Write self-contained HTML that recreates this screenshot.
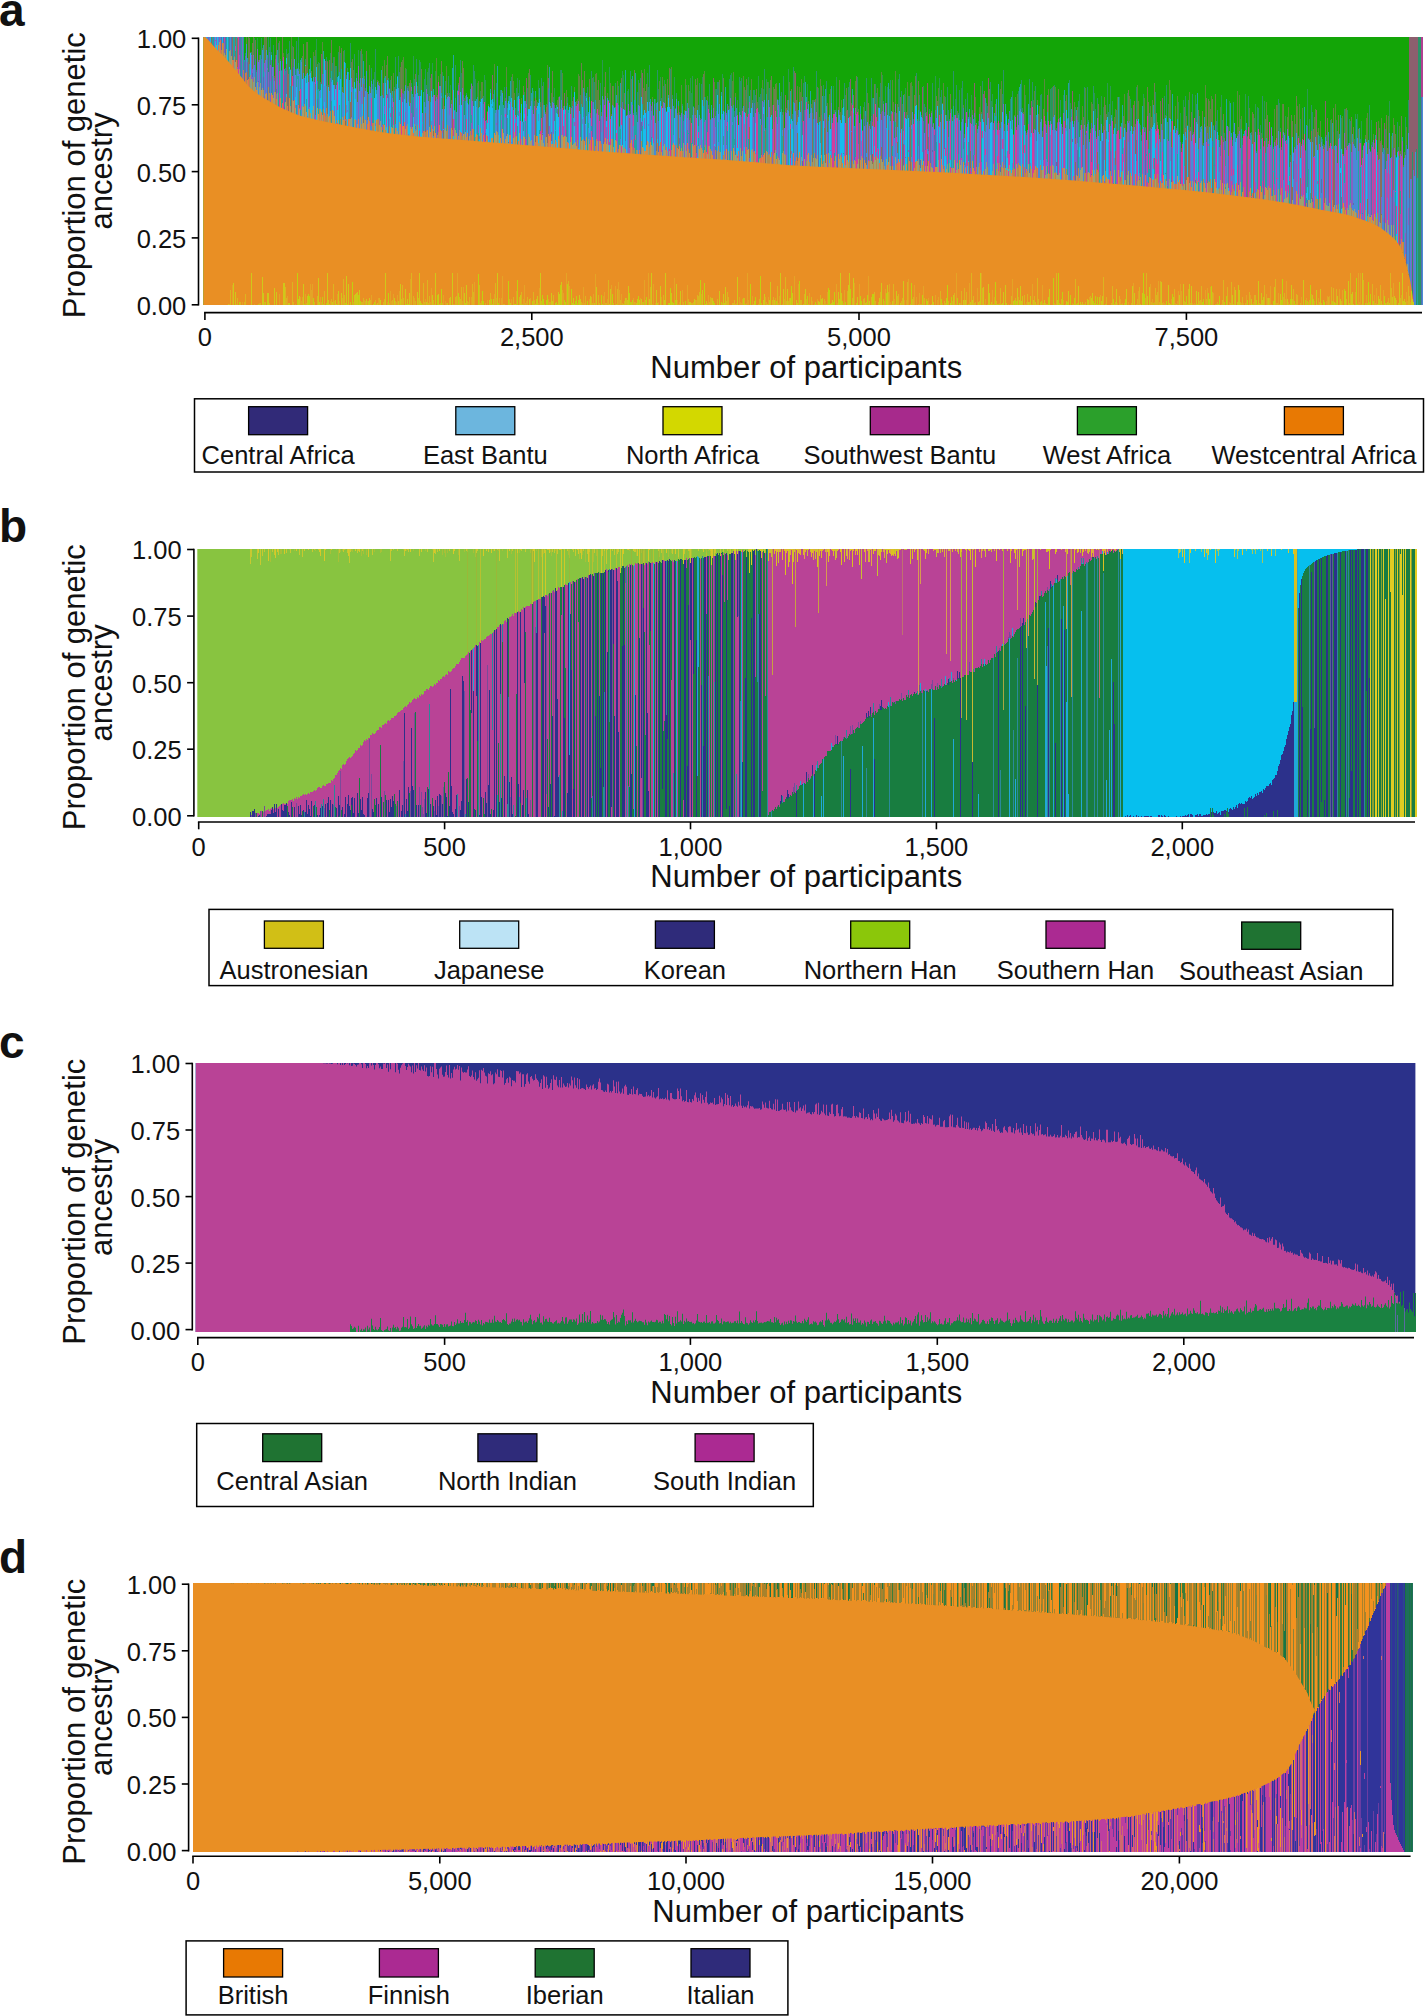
<!DOCTYPE html>
<html><head><meta charset="utf-8"><style>
html,body{margin:0;padding:0;background:#fff;}
body{width:1425px;height:2016px;overflow:hidden;}
svg{display:block;}
text{font-family:"Liberation Sans", sans-serif;}
</style></head><body>
<svg width="1425" height="2016" viewBox="0 0 1425 2016" font-family='"Liberation Sans", sans-serif' fill="#111">
<rect width="1425" height="2016" fill="#fff"/>
<g>
<rect x="203.3" y="37.0" width="1219.7" height="268.0" fill="#13a507" />
<path d="M203.5 37V38M212.5 37V46M213.5 37V47M226.5 37V60M228.5 37V63M233.5 37V69M234.5 37V70M236.5 37V72M241.5 37V78M243.5 37V81M249.5 64V88M256.5 72V94M260.5 62V97M278.5 63V107M281.5 71V109M282.5 61V109M296.5 69V115M298.5 63V116M300.5 62V117M306.5 74V118M318.5 89V121M322.5 74V122M326.5 86V123M331.5 71V124M339.5 72V125M341.5 69V126M349.5 87V127M353.5 89V128M368.5 98V131M372.5 89V132M373.5 80V132M380.5 100V133M382.5 95V133M384.5 78V134M392.5 94V135M394.5 91V135M400.5 97V136M413.5 97V137M423.5 96V138M425.5 107V138M430.5 102V138M435.5 101V139M441.5 93V139M446.5 99V140M455.5 98V140M456.5 114V141M463.5 95V141M465.5 101V141M470.5 92V142M474.5 101V142M477.5 97V142M478.5 108V142M483.5 104V143M486.5 120V143M493.5 102V143M494.5 90V144M500.5 96V144M503.5 112V144M507.5 108V145M517.5 97V145M527.5 116V146M539.5 95V147M543.5 105V148M555.5 110V149M566.5 106V149M567.5 103V150M572.5 106V150M581.5 104V151M587.5 101V151M595.5 100V152M600.5 105V152M613.5 106V153M615.5 107V153M618.5 105V154M619.5 127V154M634.5 100V155M635.5 105V155M636.5 115V155M642.5 104V155M651.5 111V156M671.5 109V157M673.5 108V157M677.5 115V158M680.5 117V158M682.5 106V158M687.5 103V158M692.5 115V159M698.5 126V159M703.5 106V159M704.5 97V159M706.5 105V160M710.5 120V160M715.5 116V160M720.5 120V161M729.5 109V161M732.5 108V161M733.5 105V161M746.5 116V162M748.5 108V163M758.5 112V163M759.5 114V164M763.5 102V164M766.5 94V164M767.5 117V164M781.5 109V166M782.5 115V166M788.5 100V166M793.5 102V166M801.5 101V167M813.5 119V167M820.5 121V168M822.5 103V168M877.5 121V170M898.5 107V171M907.5 115V172M918.5 110V172M948.5 137V174M951.5 111V174M953.5 106V174M958.5 115V174M961.5 122V174M973.5 125V175M981.5 114V175M995.5 116V176M1005.5 130V177M1014.5 116V177M1026.5 135V178M1047.5 112V180M1067.5 119V181M1070.5 122V181M1078.5 122V182M1088.5 122V183M1099.5 138V184M1110.5 126V184M1115.5 124V185M1122.5 125V185M1140.5 132V187M1141.5 141V187M1148.5 149V188M1149.5 131V188M1154.5 114V188M1160.5 142V189M1163.5 139V189M1166.5 116V189M1167.5 122V189M1177.5 119V190M1184.5 136V191M1198.5 149V192M1202.5 145V193M1209.5 127V194M1213.5 126V194M1214.5 133V194M1225.5 146V196M1241.5 129V198M1251.5 135V199M1257.5 135V200M1260.5 149V200M1261.5 139V200M1265.5 153V201M1266.5 138V201M1272.5 142V202M1279.5 148V203M1289.5 167V205M1306.5 131V208M1318.5 135V210M1350.5 144V217M1358.5 151V219M1395.5 155V241M1403.5 167V255M1417.5 178V305" stroke="#22a4a2" stroke-width="1.02" fill="none" shape-rendering="crispEdges"/>
<path d="M205.5 37V38M208.5 37V41M214.5 37V48M216.5 37V50M219.5 37V53M224.5 37V58M237.5 37V73M239.5 37V76M242.5 37V80M251.5 55V90M252.5 69V91M253.5 55V92M257.5 49V95M259.5 60V96M264.5 63V99M265.5 60V100M268.5 72V102M270.5 65V103M273.5 67V104M276.5 55V106M277.5 65V107M308.5 82V119M323.5 74V122M334.5 85V125M351.5 78V128M358.5 66V129M379.5 86V133M405.5 85V136M410.5 103V137M411.5 87V137M414.5 86V137M422.5 113V138M426.5 89V138M436.5 97V139M449.5 97V140M451.5 104V140M454.5 111V140M459.5 105V141M462.5 88V141M471.5 84V142M472.5 101V142M485.5 121V143M510.5 102V145M516.5 117V145M526.5 104V146M532.5 110V147M534.5 106V147M545.5 114V148M553.5 103V148M559.5 97V149M571.5 108V150M575.5 106V150M576.5 106V150M578.5 101V150M598.5 115V152M601.5 116V152M605.5 96V153M617.5 103V154M628.5 104V154M629.5 115V154M630.5 114V154M632.5 105V155M639.5 106V155M650.5 104V156M652.5 102V156M663.5 102V157M681.5 113V158M684.5 115V158M686.5 111V158M688.5 108V158M695.5 115V159M701.5 119V159M705.5 120V160M709.5 113V160M713.5 108V160M714.5 118V160M725.5 111V161M730.5 98V161M747.5 117V163M749.5 102V163M753.5 117V163M762.5 101V164M769.5 107V165M772.5 129V165M776.5 117V165M778.5 105V165M779.5 117V165M785.5 112V166M786.5 113V166M805.5 110V167M816.5 112V168M824.5 113V168M827.5 132V168M855.5 108V169M860.5 114V170M869.5 126V170M880.5 114V170M883.5 104V171M895.5 104V171M922.5 118V172M931.5 113V173M933.5 124V173M938.5 126V173M943.5 110V173M960.5 131V174M972.5 115V175M974.5 113V175M979.5 114V175M984.5 131V176M987.5 113V176M993.5 130V176M999.5 130V177M1003.5 104V177M1017.5 115V178M1018.5 125V178M1022.5 113V178M1023.5 114V178M1025.5 131V178M1034.5 129V179M1045.5 124V179M1052.5 130V180M1055.5 130V180M1061.5 124V181M1063.5 113V181M1069.5 129V181M1071.5 117V181M1074.5 121V182M1076.5 116V182M1087.5 124V183M1094.5 125V183M1097.5 118V183M1104.5 130V184M1116.5 134V185M1119.5 139V185M1127.5 121V186M1136.5 119V187M1144.5 132V187M1146.5 140V188M1151.5 129V188M1162.5 130V189M1168.5 141V190M1175.5 133V190M1190.5 131V192M1193.5 134V192M1199.5 138V193M1219.5 147V195M1223.5 142V195M1226.5 126V196M1230.5 140V196M1232.5 146V196M1237.5 136V197M1239.5 131V197M1240.5 148V197M1250.5 140V199M1267.5 147V201M1268.5 144V201M1270.5 147V201M1271.5 128V202M1274.5 142V202M1281.5 150V203M1287.5 129V204M1290.5 162V205M1294.5 147V205M1295.5 149V206M1303.5 145V207M1320.5 147V211M1326.5 141V212M1336.5 146V214M1337.5 163V214M1344.5 133V215M1345.5 148V215M1349.5 143V216M1351.5 152V217M1359.5 143V220M1368.5 143V223M1370.5 152V224M1373.5 140V225M1378.5 160V228M1386.5 161V233M1391.5 157V237M1394.5 148V240M1400.5 154V248M1402.5 141V252M1411.5 179V305M1413.5 170V305" stroke="#8462c2" stroke-width="1.02" fill="none" shape-rendering="crispEdges"/>
<path d="M206.5 37V39M210.5 37V44M215.5 37V49M217.5 37V51M222.5 37V56M227.5 37V61M250.5 53V89M271.5 55V103M286.5 58V111M289.5 67V113M290.5 70V113M302.5 79V117M305.5 65V118M307.5 73V119M310.5 73V119M311.5 78V120M312.5 82V120M316.5 67V121M321.5 84V122M324.5 59V122M328.5 87V123M332.5 80V124M333.5 85V124M335.5 89V125M338.5 76V125M340.5 79V126M344.5 62V126M346.5 79V127M347.5 72V127M350.5 68V127M354.5 82V128M355.5 89V128M362.5 78V130M374.5 98V132M375.5 87V132M376.5 94V132M383.5 98V133M385.5 83V134M387.5 80V134M390.5 93V134M396.5 89V135M397.5 77V135M399.5 100V136M404.5 99V136M409.5 106V137M416.5 82V137M418.5 96V137M420.5 96V138M421.5 90V138M431.5 91V139M445.5 95V140M453.5 90V140M460.5 92V141M461.5 105V141M467.5 103V141M473.5 106V142M475.5 101V142M479.5 107V142M480.5 102V142M481.5 99V143M488.5 106V143M490.5 93V143M491.5 104V143M492.5 99V143M499.5 106V144M508.5 101V145M509.5 104V145M511.5 98V145M514.5 100V145M518.5 96V145M521.5 104V146M523.5 95V146M528.5 109V146M529.5 109V146M530.5 106V146M537.5 106V147M538.5 103V147M549.5 102V148M551.5 108V148M556.5 113V149M557.5 107V149M558.5 117V149M563.5 110V149M569.5 107V150M574.5 92V150M579.5 111V151M582.5 107V151M585.5 124V151M586.5 98V151M606.5 121V153M609.5 103V153M611.5 116V153M614.5 108V153M623.5 109V154M624.5 110V154M626.5 116V154M641.5 97V155M643.5 115V155M644.5 110V156M645.5 113V156M647.5 102V156M648.5 111V156M659.5 111V157M660.5 101V157M666.5 112V157M667.5 107V157M668.5 98V157M669.5 107V157M674.5 118V158M685.5 111V158M697.5 110V159M702.5 100V159M717.5 95V160M721.5 96V161M723.5 111V161M728.5 110V161M736.5 116V162M738.5 125V162M744.5 112V162M750.5 113V163M751.5 108V163M770.5 117V165M771.5 115V165M780.5 112V165M789.5 116V166M791.5 119V166M799.5 102V167M817.5 123V168M819.5 122V168M823.5 121V168M829.5 115V168M830.5 129V168M840.5 120V169M841.5 123V169M842.5 115V169M843.5 107V169M848.5 118V169M853.5 108V169M861.5 120V170M879.5 108V170M887.5 115V171M899.5 111V171M901.5 129V171M905.5 118V172M906.5 119V172M908.5 118V172M915.5 106V172M916.5 105V172M920.5 112V172M921.5 117V172M937.5 106V173M942.5 104V173M945.5 115V174M965.5 123V175M967.5 127V175M968.5 119V175M982.5 119V176M983.5 122V176M990.5 123V176M991.5 122V176M1002.5 112V177M1006.5 116V177M1007.5 131V177M1010.5 121V177M1011.5 129V177M1021.5 112V178M1024.5 125V178M1031.5 133V179M1037.5 105V179M1042.5 137V179M1056.5 131V180M1060.5 117V181M1062.5 134V181M1066.5 110V181M1072.5 121V181M1073.5 127V182M1093.5 111V183M1100.5 141V184M1102.5 133V184M1106.5 120V184M1107.5 117V184M1114.5 128V185M1123.5 137V186M1124.5 128V186M1131.5 126V186M1138.5 119V187M1152.5 127V188M1153.5 125V188M1164.5 139V189M1165.5 118V189M1170.5 119V190M1173.5 130V190M1174.5 126V190M1178.5 135V190M1183.5 134V191M1187.5 126V191M1195.5 143V192M1197.5 124V192M1203.5 146V193M1210.5 138V194M1211.5 122V194M1217.5 132V195M1235.5 142V197M1236.5 138V197M1252.5 144V199M1288.5 136V204M1310.5 142V209M1317.5 150V210M1339.5 138V214M1341.5 149V215M1366.5 142V222M1376.5 140V226M1396.5 158V242M1397.5 152V244" stroke="#18bcee" stroke-width="1.02" fill="none" shape-rendering="crispEdges"/>
<path d="M207.5 37V40M209.5 37V42M218.5 37V52M220.5 37V54M230.5 37V65M246.5 44V85M254.5 65V92M258.5 62V96M262.5 50V98M266.5 50V101M272.5 67V104M280.5 61V108M294.5 59V115M295.5 75V115M297.5 69V116M299.5 74V116M301.5 62V117M303.5 73V118M309.5 74V119M313.5 77V120M314.5 82V120M319.5 91V121M320.5 90V122M325.5 70V123M329.5 91V124M336.5 85V125M342.5 92V126M343.5 93V126M352.5 87V128M356.5 78V129M357.5 102V129M359.5 91V129M360.5 78V129M361.5 87V130M365.5 91V130M366.5 71V131M369.5 86V131M370.5 93V131M371.5 81V132M377.5 82V133M378.5 85V133M381.5 96V133M389.5 89V134M398.5 88V135M406.5 103V136M408.5 91V136M415.5 94V137M417.5 93V137M424.5 102V138M427.5 94V138M428.5 101V138M432.5 97V139M433.5 95V139M440.5 86V139M442.5 109V139M444.5 109V140M447.5 97V140M448.5 96V140M450.5 108V140M457.5 91V141M464.5 115V141M466.5 95V141M469.5 99V142M476.5 107V142M482.5 98V143M489.5 108V143M495.5 113V144M496.5 110V144M498.5 110V144M501.5 115V144M502.5 93V144M504.5 108V144M505.5 101V144M512.5 107V145M522.5 122V146M524.5 101V146M531.5 101V147M533.5 114V147M544.5 110V148M550.5 106V148M552.5 102V148M561.5 100V149M564.5 106V149M568.5 113V150M573.5 118V150M583.5 117V151M588.5 114V151M589.5 97V151M590.5 118V151M593.5 102V152M594.5 109V152M602.5 96V152M607.5 98V153M612.5 105V153M620.5 107V154M627.5 115V154M631.5 102V155M637.5 122V155M638.5 105V155M649.5 102V156M654.5 104V156M655.5 123V156M657.5 102V156M662.5 108V157M664.5 103V157M665.5 108V157M672.5 99V157M675.5 109V158M676.5 99V158M679.5 115V158M693.5 107V159M699.5 115V159M700.5 120V159M711.5 110V160M712.5 118V160M718.5 114V160M719.5 104V160M722.5 114V161M724.5 120V161M726.5 115V161M731.5 106V161M734.5 117V162M739.5 112V162M740.5 115V162M743.5 106V162M752.5 103V163M755.5 113V163M760.5 119V164M764.5 100V164M768.5 100V164M777.5 100V165M784.5 128V166M787.5 110V166M792.5 121V166M794.5 103V166M795.5 111V167M796.5 125V167M800.5 112V167M807.5 109V167M808.5 104V167M809.5 118V167M810.5 113V167M811.5 108V167M814.5 102V168M826.5 106V168M831.5 103V168M835.5 112V169M838.5 110V169M839.5 115V169M844.5 116V169M850.5 116V169M864.5 126V170M867.5 122V170M870.5 129V170M874.5 127V170M878.5 108V170M884.5 116V171M885.5 103V171M886.5 128V171M889.5 116V171M890.5 121V171M893.5 121V171M894.5 138V171M897.5 127V171M903.5 131V171M911.5 125V172M912.5 112V172M924.5 133V172M928.5 124V173M932.5 127V173M936.5 118V173M940.5 122V173M946.5 121V174M949.5 121V174M952.5 121V174M954.5 119V174M956.5 118V174M959.5 120V174M962.5 119V174M964.5 138V175M971.5 124V175M977.5 133V175M978.5 126V175M985.5 132V176M986.5 125V176M988.5 118V176M989.5 129V176M992.5 107V176M996.5 129V176M1001.5 122V177M1004.5 131V177M1012.5 120V177M1019.5 111V178M1020.5 109V178M1027.5 132V178M1030.5 115V178M1035.5 130V179M1038.5 132V179M1039.5 134V179M1040.5 122V179M1041.5 119V179M1046.5 133V180M1050.5 121V180M1053.5 117V180M1054.5 115V180M1059.5 122V180M1065.5 128V181M1068.5 118V181M1079.5 137V182M1080.5 130V182M1083.5 145V182M1084.5 125V182M1089.5 142V183M1095.5 131V183M1098.5 136V183M1101.5 124V184M1108.5 132V184M1111.5 118V185M1113.5 134V185M1121.5 127V185M1128.5 123V186M1130.5 131V186M1133.5 131V186M1134.5 127V186M1143.5 127V187M1159.5 139V189M1161.5 130V189M1169.5 118V190M1176.5 130V190M1179.5 137V191M1191.5 141V192M1192.5 135V192M1196.5 122V192M1200.5 132V193M1201.5 129V193M1204.5 124V193M1205.5 127V193M1208.5 139V194M1218.5 140V195M1227.5 126V196M1233.5 132V197M1234.5 123V197M1255.5 132V199M1256.5 153V199M1275.5 146V202M1277.5 145V202M1278.5 131V203M1283.5 132V203M1284.5 135V204M1293.5 153V205M1296.5 133V206M1297.5 145V206M1299.5 143V206M1301.5 146V207M1308.5 139V208M1309.5 140V208M1312.5 142V209M1314.5 156V209M1315.5 137V210M1316.5 145V210M1321.5 142V211M1322.5 146V211M1325.5 137V212M1327.5 151V212M1331.5 146V213M1335.5 145V213M1343.5 156V215M1348.5 145V216M1352.5 142V217M1353.5 144V218M1354.5 146V218M1355.5 148V218M1356.5 160V219M1357.5 138V219M1361.5 165V220M1363.5 146V221M1365.5 139V222M1367.5 154V223M1369.5 149V223M1379.5 159V228M1382.5 152V230M1383.5 154V231M1387.5 154V234M1389.5 133V236M1390.5 158V236M1404.5 158V258M1405.5 155V262M1407.5 149V270M1408.5 133V274M1410.5 179V305M1414.5 176V305M1415.5 152V305M1422.5 97V305" stroke="#4a8ad6" stroke-width="1.02" fill="none" shape-rendering="crispEdges"/>
<path d="M211.5 37V45M232.5 37V67M235.5 37V71M248.5 62V87M275.5 59V106M287.5 70V112M288.5 74V112M291.5 59V113M327.5 62V123M345.5 68V127M363.5 84V130M367.5 93V131M395.5 89V135M429.5 96V138M443.5 98V140M452.5 90V140M535.5 98V147M542.5 103V147M546.5 107V148M547.5 105V148M656.5 110V156M678.5 106V158M690.5 118V159M694.5 115V159M761.5 125V164M765.5 130V164M774.5 122V165M783.5 112V166M797.5 115V167M812.5 113V167M821.5 115V168M825.5 119V168M846.5 111V169M847.5 110V169M851.5 111V169M859.5 123V170M866.5 125V170M868.5 128V170M872.5 122V170M881.5 112V170M888.5 130V171M891.5 114V171M902.5 128V171M910.5 120V172M927.5 120V173M941.5 114V173M976.5 124V175M1075.5 138V182M1085.5 135V182M1103.5 126V184M1105.5 120V184M1126.5 132V186M1135.5 130V187M1185.5 128V191M1186.5 138V191M1188.5 130V191M1189.5 132V192M1222.5 140V195M1247.5 137V198M1253.5 130V199M1291.5 157V205M1292.5 137V205M1300.5 142V207M1311.5 131V209M1324.5 147V211M1333.5 132V213M1334.5 150V213M1380.5 143V229M1381.5 140V229M1393.5 150V239M1399.5 158V247" stroke="#8a6e5c" stroke-width="1.02" fill="none" shape-rendering="crispEdges"/>
<path d="M221.5 37V55M223.5 37V57M225.5 37V59M229.5 37V64M231.5 37V66M240.5 37V77M244.5 62V82M245.5 56V84M247.5 62V86M255.5 59V93M261.5 59V98M263.5 77V99M267.5 58V101M269.5 52V102M274.5 78V105M284.5 75V110M285.5 71V111M293.5 67V114M304.5 79V118M317.5 81V121M330.5 78V124M348.5 74V127M364.5 79V130M388.5 81V134M391.5 95V135M402.5 93V136M403.5 94V136M407.5 88V136M412.5 100V137M437.5 99V139M439.5 89V139M458.5 85V141M468.5 105V142M497.5 97V144M506.5 87V144M548.5 88V148M554.5 105V148M560.5 109V149M580.5 114V151M584.5 92V151M592.5 102V152M596.5 113V152M603.5 100V152M622.5 102V154M625.5 104V154M640.5 118V155M646.5 112V156M658.5 121V156M683.5 121V158M689.5 120V159M707.5 101V160M716.5 111V160M727.5 105V161M735.5 97V162M741.5 117V162M754.5 103V163M798.5 110V167M802.5 122V167M804.5 110V167M815.5 119V168M818.5 125V168M828.5 121V168M837.5 123V169M854.5 128V169M858.5 115V169M863.5 119V170M865.5 116V170M871.5 116V170M882.5 111V170M909.5 127V172M917.5 121V172M919.5 121V172M923.5 121V172M925.5 113V172M930.5 124V173M935.5 110V173M944.5 129V173M963.5 108V174M969.5 113V175M1000.5 128V177M1009.5 112V177M1029.5 115V178M1036.5 117V179M1043.5 127V179M1049.5 127V180M1057.5 123V180M1077.5 120V182M1082.5 129V182M1091.5 123V183M1125.5 130V186M1129.5 121V186M1139.5 124V187M1145.5 128V187M1150.5 128V188M1171.5 147V190M1180.5 142V191M1207.5 133V193M1212.5 141V194M1215.5 125V194M1220.5 145V195M1224.5 138V195M1228.5 156V196M1238.5 134V197M1242.5 145V198M1246.5 130V198M1263.5 147V200M1305.5 151V208M1307.5 126V208M1328.5 137V212M1340.5 151V214M1371.5 145V224M1384.5 150V232M1392.5 148V238M1406.5 145V266M1409.5 198V305M1421.5 97V305" stroke="#5470ae" stroke-width="1.02" fill="none" shape-rendering="crispEdges"/>
<path d="M238.5 37V75M279.5 71V108M283.5 57V110M292.5 76V114M315.5 77V121M337.5 82V125M386.5 95V134M393.5 102V135M401.5 89V136M419.5 96V138M434.5 95V139M438.5 82V139M484.5 102V143M487.5 112V143M513.5 110V145M515.5 115V145M519.5 99V146M520.5 121V146M525.5 108V146M536.5 108V147M540.5 107V147M541.5 118V147M562.5 108V149M565.5 110V149M570.5 114V150M577.5 104V150M591.5 101V151M597.5 109V152M599.5 121V152M604.5 105V153M608.5 101V153M610.5 119V153M616.5 103V153M621.5 108V154M633.5 115V155M653.5 116V156M661.5 106V157M670.5 109V157M691.5 123V159M696.5 118V159M708.5 109V160M737.5 115V162M742.5 111V162M745.5 113V162M756.5 109V163M757.5 108V163M773.5 105V165M775.5 111V165M790.5 124V166M803.5 121V167M806.5 102V167M832.5 123V168M833.5 114V168M834.5 114V168M836.5 117V169M845.5 123V169M849.5 117V169M852.5 105V169M856.5 114V169M857.5 112V169M862.5 131V170M873.5 114V170M875.5 104V170M876.5 117V170M892.5 112V171M896.5 137V171M900.5 133V171M904.5 112V171M913.5 124V172M914.5 114V172M926.5 116V173M929.5 114V173M934.5 130V173M939.5 115V173M947.5 121V174M950.5 113V174M955.5 115V174M957.5 118V174M966.5 112V175M970.5 123V175M975.5 125V175M980.5 122V175M994.5 121V176M997.5 130V176M998.5 121V176M1008.5 123V177M1013.5 135V177M1015.5 117V178M1016.5 130V178M1028.5 124V178M1032.5 107V179M1033.5 133V179M1044.5 116V179M1048.5 121V180M1051.5 124V180M1058.5 119V180M1064.5 121V181M1081.5 125V182M1086.5 131V183M1090.5 133V183M1092.5 128V183M1096.5 139V183M1109.5 124V184M1112.5 121V185M1117.5 131V185M1118.5 130V185M1120.5 127V185M1132.5 134V186M1137.5 121V187M1142.5 129V187M1147.5 116V188M1155.5 129V188M1156.5 131V188M1157.5 125V189M1158.5 129V189M1172.5 121V190M1181.5 152V191M1182.5 144V191M1194.5 118V192M1206.5 142V193M1216.5 139V194M1221.5 136V195M1229.5 131V196M1231.5 137V196M1243.5 136V198M1244.5 136V198M1245.5 130V198M1248.5 127V198M1249.5 139V199M1254.5 142V199M1258.5 129V200M1259.5 135V200M1262.5 138V200M1264.5 141V200M1269.5 122V201M1273.5 149V202M1276.5 138V202M1280.5 132V203M1282.5 138V203M1285.5 141V204M1286.5 144V204M1298.5 138V206M1302.5 139V207M1304.5 134V207M1313.5 157V209M1319.5 144V210M1323.5 149V211M1329.5 148V212M1330.5 143V212M1332.5 149V213M1338.5 139V214M1342.5 154V215M1346.5 150V216M1347.5 146V216M1360.5 143V220M1362.5 158V221M1364.5 143V221M1372.5 147V225M1374.5 149V225M1375.5 139V226M1377.5 155V227M1385.5 169V232M1388.5 154V235M1398.5 151V245M1401.5 156V250" stroke="#d23e9e" stroke-width="1.02" fill="none" shape-rendering="crispEdges"/>
<path d="M1409.5 37V198M1410.5 37V179M1411.5 37V179M1412.5 37V152M1413.5 37V170M1414.5 37V176M1415.5 37V152M1416.5 37V149M1417.5 37V178" stroke="#8c5f6e" stroke-width="1.02" fill="none" shape-rendering="crispEdges"/>
<path d="M1412.5 152V305M1416.5 149V305M1418.5 37V305M1419.5 37V305M1420.5 37V305" stroke="#2a9468" stroke-width="1.02" fill="none" shape-rendering="crispEdges"/>
<path d="M1421.5 37V97M1422.5 37V97" stroke="#b04090" stroke-width="1.02" fill="none" shape-rendering="crispEdges"/>
<path d="M215.5 40V41M216.5 39V46M220.5 46V52M230.5 53V60M234.5 56V60M267.5 68V70M279.5 85V93M345.5 119V121M361.5 91V104M377.5 129V130M382.5 125V130M384.5 106V114M390.5 113V117M395.5 124V129M442.5 121V133M463.5 100V101M478.5 125V133M479.5 136V139M496.5 123V125M501.5 120V137M519.5 113V137M528.5 136V141M549.5 126V145M563.5 126V144M574.5 122V126M595.5 148V149M596.5 114V141M606.5 127V146M609.5 142V145M642.5 121V126M644.5 118V129M668.5 112V156M693.5 140V154M704.5 122V147M769.5 115V151M791.5 151V154M830.5 150V151M841.5 153V160M858.5 144V160M885.5 129V157M908.5 150V152M924.5 149V170M931.5 125V160M949.5 153V159M967.5 155V166M981.5 162V174M1000.5 165V167M1007.5 151V158M1020.5 167V176M1034.5 148V169M1043.5 160V173M1069.5 164V177M1075.5 144V162M1082.5 179V181M1096.5 163V171M1128.5 130V142M1139.5 173V179M1161.5 174V178M1167.5 139V186M1168.5 182V183M1172.5 148V176M1177.5 131V154M1184.5 166V188M1215.5 131V185M1220.5 156V193M1230.5 189V193M1240.5 186V193M1249.5 159V191M1255.5 182V192M1262.5 161V181M1268.5 166V184M1271.5 139V144M1296.5 164V182M1301.5 184V195M1303.5 148V164M1317.5 181V184M1335.5 180V191M1345.5 185V207M1350.5 200V212M1352.5 142V205M1381.5 197V214M1383.5 218V222M1386.5 175V203M1387.5 173V198M1389.5 174V233M1393.5 190V238M1405.5 233V253M1408.5 208V225" stroke="#8462c2" stroke-width="1.02" fill="none" shape-rendering="crispEdges"/>
<path d="M221.5 53V54M223.5 48V55M250.5 81V85M253.5 68V78M256.5 83V90M264.5 72V96M270.5 81V95M274.5 81V100M294.5 85V105M298.5 71V76M307.5 116V117M313.5 115V118M323.5 85V106M324.5 86V102M325.5 102V112M331.5 82V101M332.5 110V115M343.5 98V112M346.5 105V113M347.5 110V112M348.5 101V121M355.5 92V99M362.5 78V104M365.5 123V128M367.5 120V130M375.5 123V126M385.5 131V132M392.5 98V107M399.5 112V116M405.5 86V112M407.5 90V133M416.5 108V130M419.5 128V131M422.5 122V124M426.5 100V130M431.5 121V137M434.5 130V132M441.5 96V98M449.5 115V126M457.5 117V118M459.5 136V137M464.5 124V128M480.5 103V137M483.5 118V135M489.5 119V136M511.5 142V143M515.5 119V123M538.5 114V121M542.5 133V134M543.5 117V143M550.5 118V144M555.5 130V131M582.5 119V124M585.5 125V145M601.5 132V144M607.5 126V145M625.5 141V150M632.5 137V144M633.5 126V139M648.5 124V126M651.5 120V137M664.5 142V147M665.5 130V137M673.5 135V151M684.5 119V132M687.5 118V130M697.5 145V157M702.5 140V154M705.5 148V150M715.5 127V147M732.5 122V125M739.5 130V159M743.5 117V118M744.5 124V147M782.5 130V136M788.5 111V130M797.5 122V133M800.5 127V158M811.5 140V147M825.5 166V167M831.5 105V106M836.5 157V166M851.5 131V132M853.5 113V165M861.5 141V158M864.5 129V161M866.5 153V157M867.5 139V168M876.5 152V167M877.5 148V166M881.5 120V147M894.5 148V159M896.5 143V164M904.5 140V145M918.5 146V164M927.5 149V154M954.5 144V168M963.5 149V163M965.5 163V167M973.5 126V155M997.5 135V156M1001.5 153V154M1003.5 175V176M1036.5 141V167M1047.5 162V166M1066.5 125V131M1077.5 143V150M1089.5 169V182M1109.5 175V180M1114.5 158V177M1123.5 148V162M1147.5 173V182M1155.5 148V150M1156.5 143V159M1157.5 133V164M1170.5 132V161M1182.5 187V189M1185.5 132V140M1191.5 178V185M1201.5 170V187M1205.5 178V191M1219.5 172V187M1225.5 166V187M1227.5 181V189M1231.5 176V181M1256.5 176V182M1273.5 171V172M1287.5 191V197M1320.5 159V204M1343.5 187V209M1361.5 168V202M1394.5 190V202M1398.5 156V160M1404.5 208V250" stroke="#4a8ad6" stroke-width="1.02" fill="none" shape-rendering="crispEdges"/>
<path d="M224.5 38V42M235.5 46V51M300.5 89V110M371.5 98V126M376.5 127V128M453.5 119V136M458.5 91V95M466.5 119V130M505.5 114V117M559.5 127V140M603.5 148V150M635.5 135V140M669.5 149V156M698.5 132V138M707.5 132V156M727.5 122V131M748.5 114V139M759.5 158V163M775.5 163V164M862.5 153V154M868.5 160V167M878.5 149V165M925.5 150V170M926.5 137V142M945.5 148V156M955.5 164V165M961.5 158V166M971.5 172V173M982.5 131V138M985.5 149V155M1002.5 139V149M1009.5 154V173M1013.5 154V155M1022.5 135V154M1024.5 145V153M1058.5 152V170M1064.5 151V162M1088.5 172V178M1091.5 162V174M1098.5 164V176M1117.5 143V167M1122.5 154V184M1124.5 140V183M1144.5 133V160M1149.5 153V169M1150.5 182V185M1153.5 158V169M1162.5 152V182M1193.5 138V145M1196.5 178V186M1198.5 172V182M1208.5 144V146M1224.5 150V191M1233.5 169V175M1234.5 184V195M1237.5 165V192M1243.5 187V196M1251.5 196V197M1266.5 192V199M1277.5 178V179M1282.5 154V200M1288.5 185V202M1289.5 176V181M1302.5 140V164M1304.5 150V198M1314.5 158V180M1374.5 156V158M1388.5 173V227M1391.5 159V197M1395.5 191V192M1396.5 206V234" stroke="#d23e9e" stroke-width="1.02" fill="none" shape-rendering="crispEdges"/>
<path d="M232.5 55V66M237.5 38V67M299.5 91V108M305.5 66V76M315.5 84V115M350.5 102V125M351.5 92V117M425.5 113V136M433.5 131V136M629.5 118V148M749.5 127V158M790.5 129V158M824.5 128V157M897.5 142V153M970.5 151V168M1097.5 152V177M1115.5 151V165M1212.5 147V192M1367.5 199V217" stroke="#8a6e5c" stroke-width="1.02" fill="none" shape-rendering="crispEdges"/>
<path d="M233.5 64V65M239.5 37V55M252.5 73V77M255.5 87V89M258.5 81V82M259.5 91V94M271.5 60V98M276.5 89V94M285.5 87V90M286.5 64V94M309.5 76V107M333.5 114V121M387.5 94V98M485.5 133V141M506.5 130V133M508.5 142V143M535.5 144V146M551.5 132V141M557.5 109V114M566.5 130V137M600.5 119V141M641.5 122V131M650.5 145V151M679.5 138V144M696.5 146V153M837.5 164V167M854.5 151V153M903.5 144V165M920.5 160V168M928.5 137V151M932.5 150V152M934.5 135V151M958.5 121V154M1005.5 156V169M1056.5 162V166M1072.5 139V142M1081.5 172V178M1086.5 133V149M1102.5 141V177M1103.5 132V181M1110.5 151V179M1136.5 140V161M1165.5 173V174M1214.5 165V166M1238.5 144V187M1283.5 135V180M1285.5 195V200M1293.5 161V179M1312.5 198V207M1321.5 179V193M1353.5 203V205M1362.5 213V214M1370.5 216V220" stroke="#5470ae" stroke-width="1.02" fill="none" shape-rendering="crispEdges"/>
<path d="M236.5 40V41M244.5 60V62M247.5 58V62M254.5 85V90M257.5 87V94M260.5 55V62M263.5 45V77M267.5 55V58M272.5 76V102M277.5 50V65M284.5 103V107M284.5 69V75M289.5 69V109M290.5 86V107M297.5 76V79M300.5 60V62M301.5 58V62M304.5 78V79M309.5 69V74M310.5 58V73M312.5 81V82M317.5 90V99M323.5 51V74M337.5 77V82M345.5 63V68M348.5 72V74M349.5 80V87M355.5 88V89M363.5 61V84M367.5 92V93M368.5 94V98M376.5 90V94M380.5 96V100M381.5 70V96M385.5 76V83M392.5 91V94M393.5 128V133M397.5 76V77M404.5 91V99M411.5 91V113M412.5 94V100M415.5 126V129M423.5 92V96M429.5 126V129M433.5 89V95M439.5 86V89M443.5 76V98M451.5 129V139M452.5 68V90M453.5 55V90M454.5 131V136M454.5 110V111M455.5 124V138M456.5 112V114M467.5 97V103M470.5 89V92M471.5 115V123M476.5 99V107M489.5 107V108M490.5 89V93M491.5 100V104M492.5 106V108M494.5 115V122M495.5 110V113M497.5 66V97M499.5 105V106M501.5 90V115M502.5 102V136M503.5 105V112M509.5 110V143M509.5 96V104M510.5 81V102M518.5 111V116M523.5 122V131M525.5 121V139M525.5 101V108M531.5 93V101M532.5 88V110M535.5 91V98M536.5 110V136M539.5 88V95M540.5 107V131M544.5 105V110M549.5 67V102M555.5 108V110M556.5 105V113M568.5 110V113M575.5 102V106M576.5 147V149M583.5 88V117M586.5 101V116M586.5 93V98M588.5 123V128M588.5 112V114M591.5 126V131M608.5 100V101M616.5 95V103M620.5 129V139M620.5 83V107M625.5 70V104M632.5 76V105M635.5 73V105M650.5 99V104M654.5 99V104M656.5 103V110M668.5 95V98M673.5 106V108M678.5 101V106M688.5 133V134M691.5 143V157M703.5 111V130M706.5 100V105M711.5 105V110M718.5 122V142M721.5 92V96M723.5 136V145M725.5 87V111M726.5 126V145M726.5 113V115M727.5 104V105M734.5 139V145M735.5 159V160M736.5 108V116M749.5 96V102M758.5 160V161M760.5 125V161M764.5 131V161M776.5 153V163M777.5 110V124M779.5 83V117M790.5 91V124M801.5 134V144M805.5 82V110M806.5 97V102M810.5 91V113M822.5 96V103M825.5 89V119M831.5 86V103M834.5 153V166M842.5 108V115M843.5 153V154M843.5 99V107M852.5 89V105M854.5 126V128M855.5 115V157M860.5 106V114M861.5 119V120M865.5 111V116M870.5 164V168M873.5 98V114M888.5 83V130M889.5 168V170M891.5 111V114M892.5 146V156M895.5 122V127M903.5 95V131M905.5 157V158M911.5 129V157M930.5 117V124M933.5 123V124M934.5 129V130M936.5 142V172M948.5 146V150M951.5 109V111M953.5 114V156M954.5 115V119M964.5 142V165M968.5 142V161M968.5 117V119M969.5 109V113M973.5 119V125M974.5 117V155M976.5 123V124M977.5 129V133M985.5 98V132M993.5 123V130M994.5 113V121M995.5 168V175M996.5 99V129M998.5 84V121M1005.5 104V130M1006.5 114V116M1007.5 125V131M1008.5 119V123M1009.5 111V112M1011.5 97V129M1019.5 87V111M1020.5 84V109M1023.5 126V153M1027.5 130V132M1028.5 104V124M1029.5 164V169M1036.5 115V117M1046.5 134V159M1064.5 90V121M1068.5 83V118M1071.5 109V117M1076.5 110V116M1099.5 130V138M1106.5 131V139M1111.5 115V118M1113.5 183V184M1118.5 97V130M1121.5 123V127M1122.5 105V125M1142.5 106V129M1146.5 154V156M1153.5 105V125M1161.5 124V130M1172.5 94V121M1179.5 134V137M1195.5 180V183M1197.5 93V124M1200.5 127V132M1201.5 126V129M1204.5 117V124M1214.5 130V133M1225.5 141V146M1226.5 99V126M1230.5 103V140M1231.5 133V137M1235.5 134V142M1241.5 151V167M1242.5 161V164M1243.5 134V136M1244.5 131V136M1246.5 123V130M1250.5 133V140M1270.5 145V147M1271.5 127V128M1272.5 136V142M1274.5 149V184M1280.5 195V198M1286.5 140V144M1303.5 140V145M1304.5 107V134M1306.5 125V131M1308.5 169V205M1310.5 193V203M1321.5 137V142M1328.5 132V137M1332.5 123V149M1334.5 146V150M1339.5 134V138M1340.5 115V151M1341.5 197V209M1344.5 164V183M1352.5 134V142M1356.5 119V160M1359.5 128V143M1360.5 167V203M1368.5 140V143M1375.5 135V139M1383.5 148V154M1392.5 133V148M1396.5 157V158M1400.5 191V214M1402.5 137V141" stroke="#22a4a2" stroke-width="1.02" fill="none" shape-rendering="crispEdges"/>
<path d="M245.5 53V56M251.5 52V55M256.5 70V72M261.5 38V59M268.5 37V72M269.5 47V52M270.5 38V65M271.5 52V55M273.5 45V67M278.5 43V63M280.5 59V61M281.5 70V71M285.5 68V71M286.5 49V58M289.5 41V67M290.5 69V70M295.5 69V75M296.5 41V69M298.5 37V63M305.5 59V65M314.5 56V82M319.5 63V91M320.5 82V90M326.5 57V86M328.5 85V87M332.5 63V80M333.5 57V85M335.5 66V89M336.5 66V85M338.5 52V76M340.5 53V79M344.5 50V62M346.5 75V79M347.5 68V72M350.5 43V68M354.5 54V82M356.5 73V78M359.5 83V91M360.5 51V78M371.5 68V81M372.5 84V89M373.5 79V80M375.5 49V87M388.5 78V81M390.5 80V93M394.5 87V91M395.5 57V89M396.5 84V89M398.5 56V88M399.5 72V100M408.5 86V91M411.5 83V87M414.5 79V86M416.5 59V82M419.5 60V96M424.5 79V102M425.5 69V107M426.5 85V89M429.5 63V96M445.5 81V95M448.5 76V96M449.5 93V97M455.5 65V98M457.5 90V91M460.5 60V92M464.5 98V115M466.5 93V95M468.5 104V105M471.5 83V84M473.5 65V106M474.5 71V101M479.5 101V107M483.5 96V104M493.5 94V102M496.5 83V110M498.5 109V110M500.5 90V96M507.5 103V108M508.5 96V101M511.5 77V98M516.5 88V117M518.5 93V96M519.5 80V99M520.5 113V121M522.5 121V122M527.5 88V116M530.5 75V106M534.5 101V106M537.5 102V106M541.5 78V118M543.5 82V105M546.5 104V107M550.5 103V106M553.5 97V103M559.5 96V97M561.5 70V100M565.5 109V110M567.5 97V103M571.5 86V108M580.5 95V114M585.5 96V124M587.5 87V101M591.5 71V101M593.5 77V102M594.5 82V109M600.5 83V105M606.5 117V121M614.5 107V108M615.5 83V107M618.5 86V105M628.5 89V104M629.5 111V115M630.5 71V114M633.5 113V115M636.5 112V115M637.5 92V122M638.5 80V105M640.5 78V118M648.5 87V111M649.5 65V102M651.5 106V111M653.5 115V116M657.5 70V102M661.5 98V106M663.5 86V102M666.5 111V112M670.5 69V109M672.5 95V99M676.5 93V99M679.5 112V115M680.5 115V117M682.5 104V106M683.5 114V121M693.5 106V107M698.5 105V126M699.5 83V115M700.5 118V120M701.5 84V119M709.5 84V113M716.5 89V111M717.5 82V95M718.5 82V114M724.5 112V120M729.5 79V109M730.5 75V98M734.5 111V117M739.5 77V112M740.5 81V115M741.5 78V117M750.5 90V113M752.5 100V103M753.5 90V117M754.5 90V103M755.5 95V113M759.5 97V114M760.5 94V119M761.5 88V125M764.5 69V100M765.5 128V130M769.5 88V107M777.5 99V100M778.5 100V105M780.5 96V112M781.5 92V109M782.5 112V115M783.5 76V112M792.5 114V121M793.5 67V102M803.5 83V121M813.5 100V119M816.5 71V112M823.5 85V121M826.5 81V106M832.5 118V123M835.5 110V112M837.5 122V123M844.5 83V116M848.5 87V118M849.5 82V117M857.5 77V112M864.5 102V126M866.5 78V125M870.5 121V129M871.5 78V116M872.5 98V122M875.5 84V104M876.5 93V117M878.5 107V108M880.5 83V114M883.5 101V104M884.5 112V116M885.5 86V103M890.5 80V121M894.5 112V138M899.5 74V111M901.5 91V129M908.5 96V118M909.5 96V127M913.5 119V124M916.5 73V105M919.5 95V121M921.5 115V117M924.5 104V133M925.5 107V113M928.5 123V124M929.5 109V114M932.5 83V127M940.5 97V122M941.5 90V114M945.5 97V115M947.5 87V121M948.5 110V137M949.5 119V121M953.5 71V106M956.5 85V118M958.5 113V115M959.5 90V120M960.5 130V131M962.5 81V119M965.5 99V123M967.5 93V127M978.5 121V126M982.5 81V119M986.5 103V125M987.5 106V113M990.5 82V123M999.5 123V130M1002.5 94V112M1003.5 70V104M1010.5 99V121M1012.5 91V120M1018.5 91V125M1021.5 80V112M1022.5 108V113M1029.5 79V115M1030.5 108V115M1032.5 82V107M1035.5 86V130M1040.5 95V122M1041.5 94V119M1050.5 89V121M1052.5 87V130M1054.5 85V115M1056.5 128V131M1057.5 122V123M1059.5 118V122M1060.5 100V117M1062.5 127V134M1067.5 118V119M1069.5 80V129M1073.5 124V127M1075.5 107V138M1078.5 101V122M1080.5 125V130M1081.5 120V125M1084.5 87V125M1086.5 127V131M1087.5 87V124M1088.5 120V122M1093.5 86V111M1095.5 109V131M1097.5 98V118M1108.5 112V132M1109.5 104V124M1116.5 110V134M1130.5 99V131M1131.5 108V126M1136.5 87V119M1140.5 125V132M1141.5 135V141M1149.5 113V131M1155.5 92V129M1164.5 96V139M1166.5 85V116M1176.5 128V130M1182.5 142V144M1185.5 96V128M1188.5 100V130M1192.5 94V135M1196.5 104V122M1199.5 116V138M1203.5 143V146M1216.5 121V139M1217.5 110V132M1219.5 140V147M1222.5 120V140M1224.5 133V138M1232.5 140V146M1233.5 102V132M1242.5 138V145M1247.5 136V137M1248.5 96V127M1251.5 132V135M1256.5 151V153M1257.5 107V135M1258.5 108V129M1260.5 125V149M1262.5 96V138M1263.5 146V147M1273.5 147V149M1278.5 99V131M1280.5 128V132M1281.5 147V150M1290.5 155V162M1295.5 124V149M1298.5 136V138M1300.5 119V142M1301.5 144V146M1305.5 150V151M1308.5 138V139M1311.5 105V131M1312.5 112V142M1319.5 136V144M1322.5 139V146M1324.5 145V147M1326.5 135V141M1330.5 120V143M1344.5 109V133M1347.5 110V146M1348.5 143V145M1349.5 119V143M1350.5 121V144M1354.5 139V146M1360.5 139V143M1363.5 145V146M1369.5 105V149M1370.5 151V152M1372.5 142V147M1382.5 145V152M1385.5 129V169M1397.5 122V152M1398.5 147V151M1405.5 117V155M1408.5 100V133" stroke="#2a9468" stroke-width="1.02" fill="none" shape-rendering="crispEdges"/>
<path d="M246.5 37V44M250.5 52V53M258.5 60V62M259.5 55V60M262.5 48V50M265.5 37V60M274.5 76V78M275.5 55V59M283.5 53V57M287.5 54V70M291.5 37V59M297.5 68V69M299.5 69V74M302.5 56V79M306.5 42V74M308.5 75V82M311.5 71V78M313.5 52V77M315.5 50V77M317.5 64V81M322.5 42V74M327.5 61V62M334.5 57V85M342.5 87V92M343.5 51V93M351.5 62V78M353.5 70V89M357.5 81V102M364.5 76V79M365.5 88V91M370.5 87V93M377.5 80V82M378.5 81V85M379.5 83V86M382.5 66V95M384.5 60V78M386.5 65V95M389.5 88V89M393.5 73V102M400.5 67V97M402.5 60V93M403.5 57V94M405.5 68V85M407.5 86V88M417.5 86V93M430.5 78V102M436.5 58V97M437.5 95V99M438.5 76V82M444.5 106V109M446.5 66V99M447.5 93V97M451.5 100V104M458.5 83V85M465.5 96V101M478.5 81V108M481.5 82V99M482.5 82V98M487.5 111V112M488.5 104V106M494.5 64V90M502.5 91V93M505.5 98V101M506.5 67V87M512.5 74V107M513.5 81V110M514.5 93V100M515.5 108V115M521.5 98V104M528.5 73V109M536.5 100V108M540.5 102V107M545.5 112V114M547.5 65V105M551.5 93V108M557.5 100V107M558.5 97V117M562.5 73V108M563.5 106V110M566.5 90V106M569.5 105V107M570.5 107V114M572.5 101V106M574.5 87V92M576.5 101V106M577.5 99V104M578.5 74V101M579.5 76V111M590.5 113V118M592.5 78V102M595.5 74V100M596.5 73V113M597.5 90V109M601.5 112V116M603.5 99V100M604.5 87V105M607.5 93V98M610.5 83V119M611.5 114V116M613.5 86V106M617.5 81V103M619.5 126V127M626.5 115V116M639.5 83V106M641.5 70V97M643.5 88V115M644.5 69V110M652.5 97V102M659.5 81V111M662.5 77V108M667.5 79V107M671.5 67V109M675.5 108V109M677.5 113V115M681.5 85V113M684.5 110V115M685.5 79V111M688.5 85V108M694.5 108V115M696.5 85V118M697.5 78V110M704.5 71V97M707.5 96V101M708.5 105V109M710.5 119V120M714.5 82V118M720.5 119V120M728.5 106V110M732.5 81V108M733.5 72V105M735.5 93V97M742.5 108V111M743.5 76V106M751.5 79V108M757.5 102V108M762.5 80V101M767.5 82V117M773.5 87V105M776.5 83V117M786.5 108V113M789.5 82V116M797.5 86V115M799.5 87V102M800.5 92V112M801.5 79V101M808.5 101V104M809.5 114V118M811.5 104V108M812.5 100V113M814.5 100V102M819.5 117V122M820.5 79V121M827.5 103V132M828.5 117V121M829.5 94V115M830.5 89V129M834.5 110V114M838.5 107V110M840.5 112V120M841.5 100V123M851.5 103V111M855.5 81V108M858.5 109V115M862.5 130V131M863.5 107V119M867.5 93V122M869.5 124V126M877.5 88V121M881.5 72V112M892.5 80V112M893.5 102V121M895.5 71V104M902.5 104V128M904.5 94V112M906.5 112V119M907.5 82V115M910.5 83V120M911.5 82V125M917.5 119V121M920.5 111V112M926.5 112V116M931.5 111V113M937.5 101V106M938.5 88V126M942.5 103V104M943.5 83V110M944.5 96V129M946.5 115V121M952.5 117V121M957.5 111V118M963.5 105V108M964.5 134V138M970.5 117V123M972.5 110V115M975.5 97V125M979.5 107V114M980.5 86V122M981.5 112V114M997.5 123V130M1000.5 89V128M1001.5 81V122M1004.5 124V131M1013.5 134V135M1014.5 115V116M1015.5 97V117M1016.5 127V130M1017.5 94V115M1023.5 112V114M1024.5 85V125M1026.5 133V135M1034.5 91V129M1037.5 100V105M1039.5 106V134M1042.5 131V137M1044.5 79V116M1045.5 121V124M1046.5 125V133M1048.5 89V121M1049.5 125V127M1055.5 87V130M1065.5 101V128M1074.5 102V121M1082.5 106V129M1085.5 88V135M1089.5 139V142M1090.5 129V133M1091.5 102V123M1092.5 104V128M1096.5 137V139M1106.5 114V120M1113.5 130V134M1114.5 117V128M1115.5 109V124M1117.5 97V131M1120.5 126V127M1124.5 94V128M1125.5 124V130M1129.5 96V121M1132.5 127V134M1135.5 124V130M1137.5 85V121M1138.5 101V119M1139.5 123V124M1144.5 98V132M1145.5 127V128M1150.5 106V128M1152.5 100V127M1157.5 122V125M1159.5 135V139M1165.5 115V118M1169.5 80V118M1170.5 90V119M1171.5 121V147M1173.5 129V130M1175.5 106V133M1177.5 96V119M1181.5 148V152M1186.5 116V138M1187.5 125V126M1189.5 92V132M1190.5 127V131M1193.5 132V134M1205.5 85V127M1207.5 126V133M1209.5 101V127M1210.5 109V138M1211.5 96V122M1213.5 125V126M1218.5 135V140M1220.5 107V145M1228.5 127V156M1237.5 91V136M1238.5 127V134M1239.5 95V131M1241.5 116V129M1249.5 108V139M1259.5 132V135M1261.5 133V139M1266.5 102V138M1268.5 141V144M1274.5 109V142M1275.5 140V146M1277.5 105V145M1282.5 104V138M1284.5 133V135M1287.5 117V129M1288.5 107V136M1293.5 152V153M1294.5 115V147M1297.5 106V145M1299.5 104V143M1302.5 108V139M1310.5 139V142M1314.5 117V156M1315.5 109V137M1317.5 132V150M1318.5 128V135M1320.5 121V147M1323.5 144V149M1329.5 146V148M1331.5 119V146M1335.5 104V145M1342.5 116V154M1343.5 154V156M1345.5 109V148M1362.5 150V158M1365.5 135V139M1366.5 118V142M1367.5 113V154M1373.5 134V140M1374.5 143V149M1377.5 152V155M1378.5 121V160M1380.5 141V143M1381.5 118V140M1387.5 148V154M1388.5 116V154M1391.5 136V157M1393.5 118V150M1399.5 126V158M1400.5 151V154M1403.5 165V167M1404.5 152V158M1406.5 127V145" stroke="#5a8a3e" stroke-width="1.02" fill="none" shape-rendering="crispEdges"/>
<path d="M248.5 37V62M249.5 38V64M252.5 43V69M253.5 37V55M255.5 40V59M264.5 37V63M266.5 37V50M276.5 37V55M279.5 41V71M282.5 37V61M293.5 47V67M303.5 44V73M307.5 42V73M329.5 60V91M331.5 40V71M339.5 46V72M341.5 48V69M352.5 59V87M361.5 49V87M366.5 51V71M369.5 65V86M387.5 56V80M391.5 76V95M401.5 62V89M409.5 83V106M410.5 80V103M415.5 74V94M421.5 69V90M441.5 61V93M462.5 61V88M463.5 68V95M472.5 86V101M523.5 86V95M529.5 69V109M542.5 86V103M552.5 71V102M581.5 63V104M582.5 80V107M584.5 71V92M589.5 79V97M598.5 80V115M599.5 100V121M605.5 72V96M612.5 86V105M621.5 78V108M624.5 93V110M631.5 79V102M634.5 70V100M645.5 91V113M646.5 84V112M665.5 84V108M669.5 68V107M695.5 79V115M703.5 74V106M719.5 80V104M723.5 78V111M744.5 87V112M746.5 79V116M756.5 89V109M770.5 80V117M771.5 76V115M774.5 89V122M775.5 84V111M787.5 100V110M791.5 89V119M794.5 71V103M796.5 100V125M815.5 99V119M817.5 87V123M821.5 86V115M839.5 80V115M846.5 88V111M856.5 76V114M868.5 103V128M874.5 84V127M896.5 113V137M897.5 104V127M914.5 95V114M915.5 76V106M918.5 81V110M936.5 96V118M950.5 94V113M989.5 89V129M995.5 104V116M1038.5 114V132M1043.5 109V127M1053.5 86V117M1058.5 89V119M1066.5 95V110M1077.5 107V120M1083.5 117V145M1098.5 104V136M1104.5 97V130M1105.5 105V120M1123.5 116V137M1128.5 90V123M1134.5 101V127M1147.5 87V116M1148.5 102V149M1151.5 117V129M1154.5 83V114M1156.5 113V131M1160.5 101V142M1184.5 107V136M1191.5 112V141M1198.5 110V149M1202.5 111V145M1206.5 98V142M1208.5 99V139M1212.5 99V141M1215.5 94V125M1223.5 114V142M1252.5 112V144M1253.5 114V130M1265.5 119V153M1267.5 115V147M1276.5 105V138M1283.5 104V132M1291.5 115V157M1292.5 121V137M1296.5 96V133M1313.5 129V157M1327.5 118V151M1333.5 108V132M1338.5 115V139M1346.5 108V150M1351.5 117V152M1353.5 127V144M1358.5 129V151M1379.5 128V159M1386.5 115V161M1394.5 125V148M1395.5 134V155M1401.5 116V156" stroke="#6e7e4e" stroke-width="1.02" fill="none" shape-rendering="crispEdges"/>
<path d="M254.5 38V65M257.5 38V49M288.5 53V74M292.5 46V76M316.5 39V67M318.5 62V89M330.5 53V78M358.5 50V66M362.5 54V78M374.5 72V98M406.5 69V103M413.5 56V97M418.5 75V96M420.5 62V96M427.5 72V94M428.5 68V101M432.5 63V97M435.5 71V101M440.5 74V86M442.5 72V109M450.5 85V108M461.5 73V105M475.5 79V101M477.5 83V97M480.5 91V102M484.5 75V102M485.5 80V121M504.5 87V108M517.5 78V97M524.5 92V101M533.5 91V114M538.5 80V103M554.5 88V105M560.5 70V109M602.5 60V96M609.5 67V103M622.5 71V102M623.5 75V109M627.5 91V115M647.5 73V102M655.5 99V123M658.5 89V121M660.5 77V101M664.5 80V103M674.5 77V118M686.5 85V111M689.5 91V120M690.5 78V118M691.5 93V123M692.5 76V115M702.5 77V100M705.5 97V120M715.5 89V116M722.5 74V114M731.5 73V106M737.5 100V115M745.5 90V113M747.5 85V117M748.5 77V108M758.5 76V112M763.5 89V102M766.5 79V94M768.5 82V100M772.5 105V129M788.5 69V100M804.5 76V110M807.5 84V109M818.5 88V125M824.5 96V113M833.5 86V114M836.5 77V117M845.5 95V123M879.5 97V108M882.5 75V111M887.5 87V115M889.5 89V116M898.5 79V107M905.5 88V118M912.5 86V112M923.5 86V121M935.5 76V110M939.5 78V115M955.5 99V115M961.5 88V122M971.5 95V124M991.5 101V122M992.5 94V107M1025.5 95V131M1033.5 100V133M1051.5 88V124M1063.5 95V113M1070.5 103V122M1079.5 94V137M1094.5 93V125M1100.5 115V141M1101.5 96V124M1103.5 107V126M1107.5 83V117M1110.5 86V126M1112.5 101V121M1119.5 97V139M1127.5 93V121M1143.5 94V127M1163.5 119V139M1168.5 104V141M1178.5 102V135M1180.5 113V142M1183.5 100V134M1195.5 95V143M1221.5 95V136M1229.5 101V131M1240.5 119V148M1245.5 94V130M1254.5 118V142M1255.5 104V132M1264.5 101V141M1279.5 103V148M1285.5 116V141M1289.5 138V167M1307.5 89V126M1309.5 119V140M1336.5 120V146M1337.5 131V163M1341.5 118V149M1355.5 114V148M1357.5 114V138M1361.5 121V165M1371.5 120V145M1389.5 101V133" stroke="#2a9a50" stroke-width="1.02" fill="none" shape-rendering="crispEdges"/>
<path d="M292.5 86V105M295.5 97V105M296.5 87V105M306.5 83V99M320.5 98V111M334.5 100V106M337.5 110V123M338.5 97V108M339.5 90V105M340.5 82V99M364.5 97V129M379.5 127V132M389.5 108V119M402.5 102V127M408.5 102V134M413.5 117V135M420.5 99V133M443.5 129V130M473.5 113V114M481.5 126V129M486.5 129V136M487.5 123V136M490.5 95V115M497.5 137V140M499.5 117V141M507.5 115V118M514.5 124V136M517.5 115V126M521.5 138V143M524.5 114V118M539.5 99V130M554.5 121V145M564.5 109V114M569.5 111V140M578.5 148V149M589.5 101V133M611.5 146V150M616.5 130V133M621.5 125V146M624.5 117V127M643.5 135V137M652.5 138V155M657.5 139V152M660.5 124V134M662.5 108V150M695.5 152V156M714.5 144V146M725.5 159V160M737.5 148V156M755.5 123V153M763.5 107V114M770.5 148V151M783.5 156V163M792.5 129V154M798.5 117V165M799.5 133V147M802.5 135V161M820.5 143V158M872.5 126V154M874.5 146V159M915.5 165V170M922.5 152V170M939.5 127V143M944.5 149V167M950.5 160V167M972.5 165V167M983.5 161V165M1006.5 131V160M1008.5 169V171M1012.5 130V163M1030.5 137V163M1040.5 160V169M1050.5 125V135M1052.5 172V176M1079.5 147V157M1104.5 160V181M1108.5 140V142M1120.5 139V177M1135.5 154V181M1142.5 177V185M1145.5 182V186M1154.5 123V158M1160.5 161V185M1164.5 157V185M1226.5 186V187M1228.5 188V192M1292.5 137V187M1300.5 158V178M1306.5 193V198M1307.5 187V200M1340.5 168V173M1355.5 216V217" stroke="#18bcee" stroke-width="1.02" fill="none" shape-rendering="crispEdges"/>
<path d="M321.5 54V84M325.5 61V70M383.5 83V98M431.5 74V91M459.5 77V105M492.5 75V99M526.5 78V104M548.5 78V88M564.5 93V106M573.5 97V118M642.5 73V104M713.5 78V108M785.5 95V112M795.5 73V111M802.5 97V122M850.5 79V116M853.5 95V108M886.5 103V128M900.5 97V133M922.5 87V118M927.5 83V120M974.5 83V113M983.5 94V122M984.5 91V131M988.5 78V118M1031.5 101V133M1047.5 95V112M1072.5 91V121M1133.5 105V131M1162.5 98V130M1316.5 110V145M1325.5 101V137M1376.5 122V140M1384.5 123V150" stroke="#8c5f6e" stroke-width="1.02" fill="none" shape-rendering="crispEdges"/>
<path d="M216.5 45V50M219.5 42V53M224.5 53V58M226.5 49V60M231.5 56V66M235.5 62V71M239.5 69V76M257.5 82V95M262.5 88V98M265.5 94V100M273.5 98V104M274.5 92V105M285.5 102V111M292.5 100V114M293.5 101V114M295.5 108V115M299.5 109V116M302.5 106V117M303.5 107V118M305.5 106V118M310.5 113V119M313.5 106V120M317.5 108V121M320.5 109V122M322.5 115V122M328.5 117V123M333.5 111V124M338.5 120V125M342.5 117V126M351.5 118V128M354.5 119V128M357.5 124V129M360.5 117V129M362.5 116V130M374.5 120V132M391.5 127V135M397.5 131V135M399.5 122V136M405.5 129V136M410.5 127V137M422.5 133V138M429.5 127V138M432.5 129V139M445.5 128V140M455.5 130V140M463.5 134V141M465.5 132V141M469.5 136V142M481.5 133V143M495.5 135V144M496.5 131V144M503.5 133V144M506.5 136V144M507.5 134V145M519.5 133V146M521.5 139V146M523.5 136V146M529.5 137V146M530.5 141V146M531.5 140V147M534.5 135V147M541.5 140V147M542.5 135V147M543.5 143V148M546.5 137V148M551.5 144V148M554.5 144V148M556.5 142V149M562.5 135V149M570.5 142V150M572.5 145V150M573.5 144V150M574.5 143V150M575.5 142V150M582.5 140V151M597.5 141V152M603.5 144V152M606.5 144V153M607.5 139V153M608.5 145V153M611.5 139V153M613.5 147V153M615.5 140V153M622.5 145V154M642.5 147V155M644.5 151V156M651.5 145V156M664.5 144V157M665.5 150V157M672.5 145V157M678.5 149V158M685.5 145V158M692.5 144V159M700.5 145V159M707.5 154V160M717.5 151V160M731.5 151V161M735.5 155V162M737.5 158V162M740.5 148V162M742.5 151V162M748.5 149V163M751.5 150V163M759.5 159V164M766.5 151V164M778.5 158V165M779.5 160V165M782.5 153V166M804.5 159V167M816.5 159V168M817.5 155V168M829.5 163V168M839.5 159V169M840.5 155V169M846.5 155V169M853.5 164V169M854.5 160V169M857.5 164V169M858.5 159V169M870.5 155V170M871.5 161V170M872.5 164V170M874.5 157V170M875.5 160V170M877.5 158V170M881.5 159V170M882.5 162V170M886.5 159V171M890.5 166V171M895.5 157V171M903.5 166V171M917.5 161V172M921.5 159V172M927.5 166V173M931.5 167V173M937.5 167V173M942.5 165V173M946.5 169V174M953.5 168V174M954.5 160V174M956.5 170V174M957.5 163V174M960.5 165V174M965.5 168V175M985.5 169V176M1002.5 162V177M1007.5 168V177M1009.5 165V177M1010.5 170V177M1011.5 173V177M1016.5 164V178M1028.5 164V178M1029.5 173V178M1031.5 169V179M1042.5 170V179M1043.5 166V179M1045.5 175V179M1052.5 165V180M1056.5 173V180M1057.5 175V180M1058.5 175V180M1059.5 173V180M1067.5 175V181M1076.5 175V182M1080.5 170V182M1081.5 168V182M1082.5 167V182M1088.5 172V183M1093.5 176V183M1094.5 170V183M1100.5 179V184M1107.5 179V184M1114.5 170V185M1125.5 180V186M1128.5 171V186M1131.5 176V186M1138.5 176V187M1152.5 179V188M1155.5 179V188M1171.5 182V190M1173.5 181V190M1177.5 176V190M1181.5 184V191M1184.5 184V191M1186.5 180V191M1196.5 184V192M1197.5 181V192M1201.5 181V193M1205.5 188V193M1207.5 183V193M1216.5 188V194M1220.5 180V195M1227.5 183V196M1228.5 191V196M1234.5 191V197M1240.5 182V197M1254.5 193V199M1265.5 187V201M1271.5 196V202M1284.5 199V204M1285.5 191V204M1286.5 198V204M1287.5 197V204M1292.5 200V205M1300.5 199V207M1301.5 196V207M1302.5 197V207M1308.5 200V208M1309.5 200V208M1310.5 203V209M1311.5 199V209M1326.5 205V212M1334.5 205V213M1337.5 209V214M1342.5 208V215M1348.5 210V216M1350.5 203V217M1352.5 210V217M1354.5 209V218M1355.5 212V218M1371.5 215V224M1373.5 221V225M1385.5 223V232M1391.5 225V237M1396.5 236V242M1400.5 244V248M1407.5 264V270" stroke="#a0a070" stroke-width="1.02" fill="none" shape-rendering="crispEdges"/>
<path d="M218.5 45V52M220.5 40V54M233.5 60V69M245.5 73V84M248.5 79V87M276.5 99V106M282.5 103V109M287.5 106V112M294.5 100V115M298.5 105V116M321.5 112V122M324.5 113V122M348.5 119V127M355.5 120V128M358.5 119V129M367.5 124V131M369.5 121V131M395.5 128V135M404.5 122V136M406.5 126V136M413.5 133V137M424.5 131V138M431.5 125V139M439.5 125V139M440.5 130V139M458.5 136V141M460.5 132V141M466.5 137V141M472.5 129V142M483.5 135V143M509.5 135V145M510.5 135V145M518.5 141V145M535.5 142V147M548.5 134V148M550.5 134V148M555.5 140V149M567.5 142V150M589.5 144V151M590.5 140V151M596.5 139V152M600.5 141V152M625.5 149V154M630.5 143V154M639.5 150V155M659.5 146V157M666.5 147V157M674.5 145V158M677.5 148V158M680.5 151V158M687.5 143V158M693.5 146V159M694.5 145V159M704.5 150V159M706.5 152V160M708.5 146V160M738.5 151V162M754.5 151V163M760.5 158V164M761.5 155V164M763.5 155V164M793.5 153V166M796.5 157V167M855.5 161V169M868.5 161V170M879.5 163V170M887.5 165V171M897.5 163V171M898.5 159V171M909.5 161V172M941.5 159V173M943.5 169V173M952.5 168V174M958.5 169V174M998.5 171V176M1003.5 168V177M1006.5 170V177M1012.5 170V177M1026.5 169V178M1037.5 168V179M1062.5 168V181M1073.5 176V182M1077.5 176V182M1091.5 175V183M1097.5 170V183M1111.5 176V185M1124.5 180V186M1135.5 174V187M1142.5 174V187M1145.5 175V187M1149.5 177V188M1153.5 180V188M1158.5 183V189M1160.5 181V189M1172.5 182V190M1174.5 184V190M1176.5 184V190M1178.5 182V190M1188.5 177V191M1190.5 181V192M1211.5 188V194M1231.5 192V196M1252.5 193V199M1270.5 188V201M1324.5 203V211M1332.5 200V213M1333.5 207V213M1358.5 210V219M1360.5 214V220M1401.5 239V250M1405.5 254V262" stroke="#e07050" stroke-width="1.02" fill="none" shape-rendering="crispEdges"/>
<path d="M221.5 50V55M223.5 43V57M225.5 55V59M243.5 70V81M246.5 72V85M249.5 77V88M252.5 79V91M263.5 90V99M268.5 87V102M269.5 93V102M275.5 92V106M286.5 97V111M304.5 104V118M309.5 109V119M319.5 109V121M323.5 109V122M325.5 116V123M326.5 108V123M327.5 114V123M330.5 111V124M336.5 120V125M340.5 119V126M346.5 119V127M361.5 124V130M372.5 123V132M373.5 123V132M377.5 119V133M378.5 119V133M383.5 124V133M385.5 130V134M389.5 126V134M417.5 125V137M423.5 131V138M425.5 132V138M426.5 131V138M437.5 135V139M438.5 132V139M441.5 131V139M446.5 131V140M447.5 125V140M452.5 130V140M461.5 133V141M462.5 136V141M464.5 134V141M470.5 131V142M471.5 135V142M473.5 129V142M475.5 137V142M477.5 135V142M480.5 128V142M487.5 139V143M497.5 132V144M515.5 137V145M545.5 137V148M547.5 143V148M559.5 139V149M577.5 140V150M580.5 137V151M583.5 139V151M593.5 140V152M595.5 146V152M601.5 144V152M612.5 139V153M618.5 149V154M632.5 147V155M633.5 150V155M634.5 148V155M636.5 150V155M641.5 141V155M649.5 147V156M656.5 151V156M657.5 143V156M660.5 142V157M671.5 150V157M676.5 145V158M682.5 151V158M688.5 149V158M695.5 145V159M705.5 145V160M710.5 149V160M715.5 150V160M718.5 146V160M719.5 152V160M723.5 155V161M724.5 151V161M741.5 156V162M746.5 147V162M753.5 152V163M767.5 152V164M768.5 155V164M769.5 154V165M771.5 152V165M773.5 155V165M777.5 156V165M783.5 151V166M785.5 155V166M795.5 161V167M797.5 161V167M806.5 161V167M809.5 162V167M812.5 162V167M814.5 153V168M822.5 164V168M823.5 161V168M828.5 153V168M830.5 155V168M834.5 161V168M841.5 157V169M849.5 155V169M852.5 161V169M869.5 161V170M873.5 162V170M876.5 156V170M880.5 156V170M883.5 160V171M896.5 165V171M904.5 164V171M908.5 157V172M911.5 162V172M915.5 162V172M919.5 165V172M922.5 165V172M930.5 163V173M944.5 166V173M968.5 162V175M976.5 167V175M979.5 163V175M980.5 170V175M987.5 167V176M996.5 169V176M999.5 163V177M1001.5 167V177M1004.5 165V177M1013.5 168V177M1014.5 169V177M1017.5 168V178M1018.5 163V178M1022.5 164V178M1024.5 167V178M1025.5 173V178M1027.5 171V178M1030.5 166V178M1036.5 167V179M1040.5 165V179M1041.5 170V179M1049.5 174V180M1050.5 166V180M1055.5 172V180M1065.5 174V181M1066.5 169V181M1078.5 168V182M1084.5 173V182M1085.5 173V182M1087.5 173V183M1095.5 174V183M1096.5 169V183M1098.5 172V183M1102.5 176V184M1105.5 171V184M1110.5 171V184M1119.5 177V185M1120.5 181V185M1121.5 172V185M1130.5 173V186M1137.5 181V187M1139.5 180V187M1148.5 183V188M1154.5 174V188M1156.5 178V188M1157.5 174V189M1165.5 179V189M1175.5 184V190M1183.5 184V191M1203.5 179V193M1208.5 181V194M1209.5 182V194M1210.5 179V194M1219.5 188V195M1221.5 190V195M1232.5 185V196M1233.5 189V197M1236.5 183V197M1243.5 187V198M1249.5 192V199M1256.5 192V199M1257.5 189V200M1262.5 188V200M1268.5 186V201M1272.5 196V202M1273.5 190V202M1275.5 195V202M1281.5 188V203M1288.5 193V204M1306.5 203V208M1312.5 202V209M1315.5 196V210M1316.5 199V210M1317.5 199V210M1319.5 199V210M1335.5 209V213M1338.5 204V214M1344.5 207V215M1351.5 208V217M1356.5 213V219M1367.5 216V223M1375.5 217V226M1377.5 213V227M1381.5 215V229M1394.5 236V240M1403.5 242V255" stroke="#b08a50" stroke-width="1.02" fill="none" shape-rendering="crispEdges"/>
<path d="M222.5 43V56M232.5 60V67M236.5 60V72M237.5 69V73M247.5 80V86M255.5 87V93M256.5 90V94M261.5 90V98M266.5 93V101M271.5 93V103M272.5 95V104M280.5 98V108M289.5 98V113M306.5 112V118M318.5 114V121M329.5 116V124M332.5 110V124M334.5 116V125M343.5 120V126M344.5 116V126M349.5 119V127M363.5 123V130M365.5 120V130M368.5 117V131M376.5 120V132M379.5 125V133M381.5 127V133M384.5 125V134M392.5 128V135M400.5 124V136M402.5 126V136M403.5 126V136M411.5 129V137M412.5 127V137M427.5 130V138M430.5 132V138M434.5 126V139M435.5 133V139M451.5 128V140M456.5 133V141M467.5 133V141M476.5 134V142M486.5 135V143M491.5 138V143M492.5 138V143M494.5 133V144M500.5 138V144M502.5 129V144M505.5 139V144M513.5 138V145M516.5 136V145M524.5 137V146M536.5 136V147M537.5 136V147M540.5 134V147M549.5 136V148M552.5 144V148M558.5 136V149M563.5 137V149M564.5 136V149M568.5 143V150M571.5 137V150M576.5 146V150M584.5 141V151M586.5 137V151M592.5 137V152M599.5 141V152M604.5 142V153M605.5 138V153M610.5 145V153M616.5 141V153M619.5 145V154M631.5 140V155M643.5 148V155M645.5 151V156M646.5 145V156M647.5 141V156M650.5 142V156M658.5 152V156M661.5 152V157M673.5 143V157M679.5 146V158M681.5 148V158M689.5 153V159M699.5 149V159M701.5 148V159M703.5 153V159M711.5 151V160M712.5 155V160M726.5 149V161M733.5 148V161M747.5 150V163M762.5 157V164M764.5 153V164M770.5 157V165M774.5 153V165M776.5 159V165M798.5 158V167M799.5 152V167M808.5 153V167M821.5 155V168M826.5 154V168M831.5 158V168M835.5 156V169M838.5 154V169M842.5 163V169M844.5 156V169M847.5 160V169M860.5 160V170M862.5 158V170M864.5 160V170M865.5 163V170M888.5 162V171M892.5 166V171M899.5 162V171M906.5 164V172M914.5 168V172M916.5 161V172M923.5 161V172M925.5 166V172M928.5 161V173M932.5 168V173M935.5 167V173M936.5 167V173M959.5 160V174M963.5 162V174M972.5 161V175M973.5 168V175M974.5 171V175M983.5 171V176M1019.5 165V178M1020.5 166V178M1033.5 173V179M1034.5 170V179M1035.5 166V179M1048.5 173V180M1054.5 173V180M1064.5 168V181M1079.5 178V182M1089.5 173V183M1090.5 177V183M1092.5 170V183M1103.5 175V184M1106.5 177V184M1108.5 179V184M1118.5 170V185M1150.5 178V188M1162.5 183V189M1163.5 175V189M1179.5 180V191M1180.5 184V191M1187.5 177V191M1191.5 187V192M1194.5 182V192M1200.5 183V193M1204.5 183V193M1214.5 179V194M1215.5 182V194M1222.5 183V195M1224.5 184V195M1229.5 191V196M1238.5 185V197M1239.5 190V197M1242.5 192V198M1250.5 188V199M1258.5 190V200M1260.5 186V200M1261.5 192V200M1266.5 188V201M1267.5 190V201M1296.5 191V206M1336.5 205V214M1343.5 203V215M1345.5 210V215M1353.5 211V218M1369.5 217V223M1370.5 217V224M1372.5 220V225M1374.5 214V225M1402.5 242V252" stroke="#d88a40" stroke-width="1.02" fill="none" shape-rendering="crispEdges"/>
<path d="M229.5 51V64M230.5 50V65M234.5 57V70M250.5 75V89M251.5 79V90M253.5 82V92M254.5 77V92M259.5 87V96M260.5 83V97M277.5 93V107M290.5 106V113M308.5 109V119M312.5 110V120M350.5 119V127M364.5 119V130M380.5 121V133M386.5 127V134M393.5 125V135M396.5 128V135M407.5 124V136M414.5 124V137M415.5 131V137M416.5 130V137M444.5 130V140M454.5 128V140M459.5 130V141M498.5 135V144M514.5 132V145M528.5 134V146M538.5 143V147M539.5 134V147M553.5 134V148M561.5 135V149M565.5 136V149M566.5 137V149M581.5 141V151M588.5 139V151M620.5 145V154M623.5 148V154M624.5 147V154M637.5 150V155M648.5 142V156M652.5 146V156M653.5 143V156M663.5 146V157M667.5 151V157M669.5 151V157M683.5 143V158M686.5 151V158M698.5 146V159M702.5 150V159M709.5 146V160M720.5 152V161M728.5 151V161M734.5 151V162M736.5 154V162M745.5 154V162M752.5 149V163M755.5 154V163M775.5 150V165M784.5 154V166M801.5 157V167M807.5 155V167M811.5 155V167M813.5 158V167M815.5 158V168M824.5 155V168M825.5 163V168M845.5 165V169M848.5 162V169M861.5 156V170M866.5 165V170M878.5 159V170M884.5 166V171M889.5 157V171M901.5 159V171M918.5 159V172M938.5 160V173M947.5 164V174M949.5 163V174M951.5 168V174M961.5 160V174M978.5 167V175M986.5 162V176M992.5 171V176M993.5 164V176M997.5 163V176M1000.5 172V177M1005.5 168V177M1046.5 166V180M1047.5 174V180M1053.5 166V180M1063.5 168V181M1122.5 171V185M1127.5 175V186M1140.5 177V187M1161.5 183V189M1164.5 185V189M1166.5 181V189M1169.5 179V190M1182.5 186V191M1189.5 183V192M1192.5 181V192M1217.5 190V195M1218.5 189V195M1225.5 189V196M1226.5 184V196M1264.5 195V200M1269.5 188V201M1274.5 195V202M1278.5 189V203M1280.5 195V203M1297.5 194V206M1299.5 198V206M1303.5 195V207M1320.5 198V211M1325.5 198V212M1327.5 206V212M1328.5 206V212M1329.5 203V212M1347.5 208V216M1349.5 205V216M1365.5 210V222M1368.5 214V223M1376.5 219V226M1379.5 222V228M1380.5 223V229M1387.5 220V234M1388.5 225V235M1393.5 225V239" stroke="#8aa080" stroke-width="1.02" fill="none" shape-rendering="crispEdges"/>
<polygon points="203.3,305.0 203.3,37.0 203.4,37.0 203.5,37.0 203.7,37.0 204.0,37.0 204.6,37.0 205.5,37.2 206.9,38.6 208.7,40.5 210.8,42.8 212.9,45.2 215.0,47.4 216.8,49.4 218.4,51.0 219.8,52.4 221.2,53.7 222.6,55.0 223.9,56.3 225.3,57.8 226.7,59.4 228.1,61.0 229.5,62.7 230.9,64.5 232.3,66.2 233.7,67.9 235.1,69.6 236.6,71.3 238.0,73.1 239.4,74.8 240.8,76.4 242.1,78.0 243.3,79.5 244.3,80.9 245.3,82.3 246.4,83.7 247.5,85.0 248.8,86.4 250.3,87.8 251.8,89.2 253.5,90.7 255.2,92.1 257.0,93.4 258.9,94.8 260.9,96.1 262.9,97.4 265.1,98.7 267.3,100.0 269.5,101.2 271.6,102.4 273.7,103.6 275.6,104.7 277.6,105.9 279.7,107.0 281.9,108.1 284.2,109.2 286.7,110.3 289.4,111.5 292.3,112.7 295.2,113.8 298.1,114.9 301.1,115.9 304.1,116.8 307.1,117.6 310.1,118.3 313.3,119.0 316.5,119.8 320.0,120.5 323.3,121.2 326.3,121.9 329.5,122.5 333.2,123.3 337.8,124.1 343.7,125.2 350.6,126.5 358.0,128.0 366.3,129.6 375.9,131.3 387.0,133.0 400.0,134.6 415.4,136.2 433.2,137.7 452.5,139.3 472.5,140.8 492.6,142.4 512.0,143.9 530.8,145.5 549.6,147.0 568.5,148.6 587.4,150.2 606.2,151.7 625.0,153.1 644.3,154.5 664.2,155.8 684.1,157.2 703.3,158.4 721.2,159.6 737.0,160.7 749.6,161.7 759.3,162.6 767.6,163.4 776.1,164.1 786.4,164.9 800.0,165.8 817.3,166.7 837.3,167.6 859.0,168.5 881.6,169.4 904.2,170.4 926.0,171.5 947.1,172.6 968.3,173.8 989.5,174.9 1010.7,176.2 1031.9,177.6 1053.0,179.0 1074.7,180.6 1097.1,182.4 1119.5,184.2 1141.1,186.1 1161.2,187.9 1179.0,189.5 1194.6,191.0 1208.5,192.6 1220.8,194.0 1231.8,195.3 1241.5,196.5 1250.0,197.6 1256.8,198.4 1261.6,199.0 1265.2,199.5 1268.1,200.0 1271.0,200.4 1274.6,201.0 1278.7,201.7 1282.8,202.3 1286.8,203.1 1290.9,203.8 1295.0,204.5 1299.1,205.3 1303.2,206.1 1307.3,206.9 1311.4,207.7 1315.5,208.5 1319.6,209.4 1323.7,210.2 1327.8,211.0 1331.9,211.7 1336.0,212.4 1340.0,213.2 1344.1,214.1 1348.2,215.1 1352.4,216.3 1356.9,217.7 1361.3,219.2 1365.5,220.8 1369.4,222.3 1372.8,223.7 1375.6,225.0 1377.9,226.2 1379.8,227.3 1381.6,228.5 1383.2,229.7 1385.0,231.0 1386.8,232.4 1388.6,233.8 1390.3,235.2 1392.0,236.7 1393.5,238.2 1394.9,239.6 1396.2,241.0 1397.3,242.4 1398.3,243.8 1399.3,245.2 1400.2,246.7 1401.0,248.2 1401.8,249.7 1402.4,251.2 1403.0,252.7 1403.6,254.3 1404.1,256.1 1404.7,258.0 1405.3,260.2 1406.0,262.7 1406.6,265.2 1407.3,267.9 1407.9,270.4 1408.4,272.8 1408.9,274.9 1409.3,276.8 1409.7,278.6 1410.1,280.5 1410.5,282.6 1410.9,285.0 1411.4,288.1 1412.0,291.7 1412.6,295.6 1413.1,299.3 1413.6,302.4 1414.0,304.7 1414.2,305.0 1414.4,305.0 1414.4,305.0 1414.5,305.0 1414.5,305.0 1414.5,305.0 1414.5,305.0" fill="#e98f24" />
<path d="M228.5 304V305M233.5 283V305M235.5 292V305M251.5 273V305M262.5 277V305M263.5 293V305M267.5 293V305M268.5 293V305M274.5 288V305M276.5 292V305M283.5 283V305M284.5 283V305M288.5 303V305M289.5 303V305M298.5 299V305M299.5 296V305M303.5 284V305M307.5 296V305M318.5 278V305M319.5 302V305M327.5 273V305M328.5 300V305M329.5 304V305M332.5 302V305M335.5 300V305M336.5 304V305M338.5 291V305M341.5 293V305M346.5 276V305M348.5 284V305M350.5 302V305M354.5 295V305M355.5 294V305M356.5 293V305M357.5 292V305M359.5 290V305M366.5 299V305M368.5 301V305M369.5 298V305M373.5 304V305M377.5 303V305M380.5 300V305M385.5 273V305M394.5 298V305M398.5 301V305M400.5 284V305M405.5 289V305M407.5 299V305M408.5 304V305M409.5 293V305M417.5 292V305M419.5 273V305M420.5 301V305M426.5 302V305M432.5 295V305M435.5 273V305M438.5 294V305M447.5 303V305M450.5 297V305M452.5 273V305M464.5 293V305M465.5 303V305M466.5 285V305M489.5 300V305M493.5 299V305M497.5 273V305M510.5 303V305M515.5 304V305M520.5 295V305M529.5 299V305M535.5 304V305M536.5 299V305M537.5 296V305M540.5 273V305M551.5 293V305M552.5 301V305M555.5 303V305M558.5 292V305M559.5 294V305M561.5 282V305M565.5 302V305M572.5 303V305M573.5 298V305M574.5 304V305M579.5 295V305M580.5 299V305M590.5 296V305M594.5 303V305M596.5 287V305M602.5 304V305M609.5 304V305M610.5 289V305M616.5 304V305M623.5 304V305M625.5 298V305M627.5 300V305M628.5 286V305M636.5 303V305M637.5 299V305M639.5 300V305M641.5 299V305M649.5 299V305M651.5 273V305M656.5 290V305M657.5 303V305M660.5 286V305M664.5 300V305M665.5 273V305M669.5 303V305M671.5 293V305M673.5 303V305M676.5 284V305M680.5 291V305M689.5 302V305M690.5 302V305M694.5 299V305M702.5 290V305M705.5 304V305M706.5 301V305M712.5 298V305M719.5 291V305M723.5 294V305M724.5 303V305M725.5 287V305M737.5 277V305M754.5 301V305M763.5 300V305M764.5 294V305M767.5 304V305M769.5 300V305M770.5 282V305M774.5 300V305M780.5 273V305M783.5 289V305M787.5 289V305M790.5 298V305M792.5 293V305M796.5 300V305M797.5 303V305M803.5 304V305M805.5 289V305M818.5 301V305M819.5 302V305M821.5 299V305M822.5 298V305M830.5 304V305M831.5 303V305M832.5 300V305M838.5 292V305M840.5 273V305M841.5 293V305M848.5 285V305M849.5 273V305M853.5 278V305M856.5 303V305M857.5 297V305M865.5 303V305M869.5 301V305M879.5 298V305M881.5 283V305M887.5 285V305M892.5 301V305M896.5 291V305M900.5 303V305M903.5 281V305M927.5 301V305M932.5 296V305M933.5 302V305M946.5 298V305M950.5 303V305M953.5 295V305M959.5 303V305M963.5 300V305M965.5 300V305M970.5 302V305M972.5 300V305M978.5 302V305M980.5 273V305M983.5 287V305M988.5 284V305M989.5 293V305M991.5 302V305M993.5 304V305M1001.5 304V305M1002.5 303V305M1003.5 292V305M1005.5 285V305M1006.5 303V305M1013.5 301V305M1017.5 288V305M1019.5 300V305M1020.5 286V305M1021.5 301V305M1022.5 296V305M1028.5 302V305M1030.5 296V305M1033.5 300V305M1035.5 302V305M1044.5 300V305M1049.5 289V305M1057.5 300V305M1060.5 304V305M1066.5 301V305M1068.5 291V305M1078.5 286V305M1080.5 302V305M1082.5 302V305M1087.5 299V305M1088.5 300V305M1091.5 298V305M1092.5 293V305M1099.5 297V305M1101.5 301V305M1102.5 296V305M1116.5 289V305M1126.5 289V305M1132.5 286V305M1134.5 293V305M1140.5 304V305M1142.5 293V305M1147.5 296V305M1149.5 287V305M1161.5 282V305M1168.5 285V305M1169.5 303V305M1170.5 304V305M1173.5 297V305M1176.5 304V305M1179.5 295V305M1183.5 284V305M1189.5 284V305M1191.5 286V305M1196.5 291V305M1197.5 304V305M1198.5 292V305M1209.5 299V305M1218.5 304V305M1232.5 295V305M1235.5 290V305M1237.5 302V305M1238.5 285V305M1239.5 290V305M1251.5 299V305M1258.5 281V305M1260.5 304V305M1261.5 293V305M1262.5 300V305M1263.5 297V305M1268.5 298V305M1274.5 287V305M1280.5 294V305M1287.5 299V305M1291.5 285V305M1303.5 280V305M1312.5 295V305M1316.5 290V305M1320.5 289V305M1334.5 302V305M1337.5 296V305M1340.5 299V305M1345.5 291V305M1348.5 281V305M1351.5 294V305M1352.5 292V305M1353.5 304V305M1362.5 273V305M1377.5 304V305M1378.5 296V305M1379.5 299V305M1381.5 301V305M1385.5 303V305M1387.5 302V305M1389.5 303V305M1392.5 297V305M1394.5 296V305M1395.5 298V305M1398.5 303V305M1399.5 282V305M1402.5 273V305M1403.5 301V305M1404.5 299V305M1405.5 302V305M1411.5 291V305M1412.5 299V305M1413.5 302V305" stroke="#cfc81a" stroke-width="1.02" fill="none" shape-rendering="crispEdges"/>
<path d="M229.5 304V305M232.5 285V305M236.5 304V305M242.5 302V305M254.5 304V305M259.5 303V305M264.5 302V305M279.5 294V305M287.5 296V305M295.5 304V305M300.5 297V305M301.5 301V305M302.5 297V305M305.5 294V305M310.5 284V305M311.5 290V305M312.5 284V305M320.5 297V305M321.5 302V305M330.5 301V305M334.5 301V305M337.5 294V305M339.5 301V305M342.5 298V305M353.5 302V305M364.5 300V305M367.5 301V305M371.5 295V305M376.5 304V305M378.5 298V305M387.5 302V305M389.5 303V305M390.5 291V305M391.5 301V305M393.5 294V305M396.5 302V305M397.5 295V305M399.5 291V305M410.5 279V305M414.5 298V305M425.5 299V305M430.5 302V305M431.5 288V305M434.5 304V305M443.5 295V305M445.5 301V305M446.5 303V305M453.5 304V305M454.5 304V305M457.5 273V305M462.5 301V305M463.5 287V305M468.5 302V305M471.5 297V305M474.5 282V305M487.5 300V305M494.5 294V305M496.5 298V305M499.5 298V305M501.5 298V305M502.5 276V305M511.5 299V305M516.5 291V305M523.5 299V305M524.5 285V305M526.5 301V305M530.5 298V305M538.5 303V305M539.5 288V305M548.5 299V305M550.5 302V305M562.5 290V305M563.5 293V305M566.5 273V305M569.5 286V305M577.5 303V305M582.5 303V305M583.5 287V305M584.5 303V305M589.5 299V305M593.5 294V305M595.5 274V305M603.5 296V305M604.5 292V305M607.5 299V305M611.5 285V305M615.5 286V305M618.5 282V305M619.5 290V305M621.5 294V305M633.5 298V305M635.5 302V305M640.5 298V305M642.5 302V305M644.5 280V305M648.5 273V305M652.5 304V305M653.5 284V305M655.5 303V305M658.5 302V305M661.5 297V305M674.5 278V305M677.5 300V305M678.5 304V305M679.5 302V305M682.5 290V305M687.5 285V305M696.5 300V305M701.5 294V305M707.5 303V305M708.5 295V305M722.5 303V305M736.5 303V305M739.5 297V305M740.5 302V305M741.5 303V305M742.5 299V305M746.5 303V305M747.5 273V305M748.5 300V305M752.5 296V305M765.5 297V305M768.5 297V305M775.5 298V305M778.5 303V305M779.5 296V305M782.5 304V305M784.5 299V305M794.5 276V305M798.5 284V305M806.5 299V305M809.5 293V305M812.5 301V305M814.5 304V305M816.5 304V305M817.5 299V305M823.5 304V305M825.5 301V305M827.5 292V305M836.5 284V305M837.5 303V305M843.5 303V305M844.5 290V305M854.5 283V305M859.5 284V305M868.5 276V305M884.5 301V305M885.5 289V305M889.5 284V305M890.5 302V305M891.5 304V305M894.5 299V305M904.5 300V305M906.5 300V305M908.5 279V305M914.5 285V305M916.5 297V305M919.5 293V305M921.5 304V305M923.5 286V305M928.5 298V305M929.5 304V305M935.5 295V305M937.5 300V305M938.5 297V305M942.5 303V305M952.5 301V305M955.5 304V305M956.5 273V305M960.5 303V305M969.5 283V305M977.5 288V305M981.5 273V305M984.5 304V305M985.5 299V305M987.5 304V305M992.5 290V305M994.5 297V305M999.5 303V305M1008.5 304V305M1012.5 279V305M1018.5 297V305M1025.5 304V305M1026.5 302V305M1031.5 304V305M1032.5 284V305M1036.5 304V305M1042.5 285V305M1054.5 303V305M1055.5 304V305M1063.5 300V305M1065.5 304V305M1072.5 303V305M1083.5 304V305M1089.5 297V305M1098.5 304V305M1100.5 295V305M1117.5 303V305M1120.5 299V305M1122.5 303V305M1128.5 302V305M1133.5 283V305M1138.5 291V305M1145.5 298V305M1150.5 284V305M1152.5 299V305M1154.5 302V305M1158.5 281V305M1163.5 302V305M1164.5 303V305M1165.5 304V305M1171.5 299V305M1175.5 303V305M1177.5 301V305M1178.5 291V305M1180.5 284V305M1181.5 291V305M1192.5 303V305M1193.5 304V305M1194.5 303V305M1195.5 304V305M1204.5 304V305M1205.5 290V305M1207.5 288V305M1210.5 287V305M1213.5 293V305M1215.5 304V305M1221.5 304V305M1229.5 302V305M1241.5 303V305M1243.5 303V305M1246.5 295V305M1250.5 295V305M1253.5 302V305M1257.5 304V305M1266.5 294V305M1270.5 286V305M1271.5 304V305M1276.5 303V305M1278.5 293V305M1279.5 304V305M1283.5 297V305M1285.5 299V305M1286.5 281V305M1288.5 302V305M1301.5 297V305M1306.5 298V305M1308.5 302V305M1311.5 294V305M1314.5 301V305M1317.5 304V305M1318.5 298V305M1326.5 301V305M1327.5 296V305M1329.5 296V305M1330.5 304V305M1339.5 289V305M1342.5 290V305M1355.5 292V305M1358.5 273V305M1359.5 302V305M1360.5 273V305M1361.5 304V305M1366.5 295V305M1374.5 295V305M1376.5 288V305M1382.5 304V305M1383.5 290V305M1386.5 303V305M1393.5 283V305M1401.5 295V305M1406.5 292V305M1407.5 301V305M1410.5 302V305" stroke="#e4a426" stroke-width="1.02" fill="none" shape-rendering="crispEdges"/>
<path d="M230.5 290V305M237.5 298V305M240.5 302V305M244.5 302V305M245.5 294V305M260.5 303V305M269.5 303V305M285.5 287V305M286.5 298V305M292.5 282V305M293.5 302V305M306.5 303V305M314.5 302V305M317.5 296V305M323.5 304V305M324.5 291V305M331.5 299V305M333.5 284V305M343.5 279V305M344.5 295V305M347.5 304V305M361.5 302V305M362.5 302V305M363.5 298V305M365.5 301V305M370.5 300V305M375.5 300V305M379.5 298V305M383.5 302V305M384.5 299V305M392.5 300V305M395.5 301V305M401.5 299V305M402.5 285V305M403.5 298V305M411.5 273V305M413.5 296V305M415.5 301V305M418.5 298V305M422.5 304V305M423.5 283V305M424.5 302V305M427.5 280V305M428.5 303V305M429.5 296V305M433.5 300V305M439.5 304V305M440.5 303V305M442.5 303V305M449.5 298V305M455.5 297V305M456.5 296V305M459.5 297V305M460.5 299V305M461.5 287V305M467.5 301V305M469.5 297V305M472.5 284V305M473.5 292V305M479.5 285V305M480.5 303V305M481.5 301V305M485.5 303V305M490.5 293V305M492.5 304V305M495.5 283V305M503.5 304V305M504.5 304V305M509.5 299V305M513.5 297V305M519.5 297V305M521.5 292V305M525.5 303V305M527.5 297V305M533.5 292V305M534.5 300V305M541.5 301V305M544.5 304V305M549.5 302V305M553.5 295V305M557.5 304V305M568.5 281V305M581.5 302V305M585.5 296V305M591.5 297V305M592.5 303V305M598.5 295V305M599.5 303V305M605.5 303V305M606.5 303V305M608.5 280V305M613.5 303V305M617.5 289V305M620.5 300V305M622.5 303V305M624.5 301V305M626.5 298V305M631.5 302V305M634.5 302V305M645.5 300V305M650.5 287V305M663.5 295V305M683.5 302V305M688.5 299V305M691.5 303V305M692.5 303V305M693.5 302V305M695.5 300V305M697.5 295V305M698.5 296V305M699.5 292V305M709.5 302V305M710.5 297V305M711.5 298V305M717.5 299V305M726.5 301V305M727.5 292V305M728.5 297V305M732.5 303V305M733.5 303V305M734.5 300V305M735.5 304V305M744.5 298V305M753.5 304V305M758.5 304V305M759.5 299V305M761.5 303V305M766.5 302V305M772.5 300V305M773.5 297V305M777.5 286V305M785.5 277V305M786.5 301V305M788.5 301V305M789.5 298V305M800.5 300V305M801.5 300V305M804.5 294V305M808.5 304V305M811.5 297V305M820.5 295V305M824.5 299V305M847.5 291V305M852.5 298V305M863.5 299V305M864.5 298V305M866.5 302V305M871.5 297V305M874.5 292V305M875.5 301V305M878.5 302V305M880.5 292V305M888.5 292V305M893.5 284V305M895.5 304V305M897.5 296V305M898.5 294V305M901.5 301V305M902.5 298V305M907.5 282V305M910.5 304V305M912.5 299V305M913.5 297V305M918.5 304V305M920.5 304V305M924.5 298V305M931.5 304V305M940.5 291V305M944.5 301V305M945.5 303V305M948.5 301V305M954.5 293V305M961.5 291V305M964.5 288V305M966.5 292V305M971.5 273V305M973.5 296V305M974.5 303V305M975.5 302V305M979.5 301V305M982.5 288V305M990.5 304V305M996.5 301V305M997.5 304V305M1000.5 288V305M1010.5 304V305M1011.5 296V305M1015.5 298V305M1024.5 295V305M1027.5 294V305M1029.5 302V305M1034.5 296V305M1037.5 278V305M1038.5 299V305M1040.5 302V305M1043.5 303V305M1045.5 303V305M1046.5 304V305M1047.5 304V305M1056.5 273V305M1059.5 303V305M1061.5 299V305M1073.5 304V305M1075.5 279V305M1076.5 304V305M1081.5 304V305M1085.5 302V305M1090.5 296V305M1094.5 303V305M1096.5 304V305M1103.5 277V305M1106.5 297V305M1111.5 303V305M1112.5 286V305M1114.5 304V305M1115.5 302V305M1119.5 296V305M1124.5 303V305M1131.5 303V305M1136.5 304V305M1137.5 299V305M1139.5 287V305M1146.5 273V305M1151.5 302V305M1155.5 288V305M1156.5 295V305M1157.5 292V305M1159.5 302V305M1160.5 281V305M1162.5 303V305M1174.5 289V305M1184.5 301V305M1185.5 302V305M1187.5 304V305M1188.5 289V305M1190.5 303V305M1199.5 301V305M1200.5 300V305M1201.5 286V305M1206.5 299V305M1212.5 292V305M1217.5 302V305M1222.5 300V305M1223.5 280V305M1227.5 287V305M1230.5 303V305M1231.5 282V305M1233.5 304V305M1234.5 287V305M1240.5 302V305M1242.5 297V305M1245.5 303V305M1249.5 292V305M1254.5 295V305M1255.5 295V305M1259.5 303V305M1264.5 285V305M1267.5 298V305M1269.5 298V305M1275.5 279V305M1277.5 303V305M1284.5 293V305M1289.5 304V305M1292.5 299V305M1293.5 289V305M1295.5 304V305M1296.5 294V305M1297.5 295V305M1300.5 303V305M1309.5 300V305M1319.5 302V305M1321.5 303V305M1328.5 297V305M1331.5 287V305M1333.5 288V305M1336.5 289V305M1341.5 301V305M1346.5 299V305M1349.5 303V305M1350.5 273V305M1363.5 280V305M1367.5 303V305M1369.5 302V305M1372.5 284V305M1375.5 303V305M1380.5 285V305M1388.5 298V305M1390.5 273V305M1391.5 288V305M1396.5 300V305M1400.5 298V305M1408.5 286V305M1409.5 296V305" stroke="#dcb420" stroke-width="1.02" fill="none" shape-rendering="crispEdges"/>
<path d="M239.5 302V305M258.5 304V305M265.5 302V305M297.5 273V305M304.5 304V305M308.5 294V305M309.5 296V305M313.5 298V305M322.5 297V305M326.5 303V305M345.5 303V305M352.5 282V305M358.5 295V305M360.5 301V305M374.5 302V305M388.5 293V305M406.5 304V305M421.5 303V305M437.5 295V305M441.5 289V305M458.5 293V305M478.5 274V305M482.5 291V305M483.5 301V305M491.5 299V305M498.5 303V305M508.5 281V305M514.5 304V305M517.5 280V305M522.5 304V305M532.5 301V305M542.5 295V305M543.5 299V305M546.5 300V305M547.5 295V305M556.5 302V305M560.5 285V305M564.5 300V305M567.5 284V305M571.5 289V305M575.5 301V305M576.5 296V305M578.5 300V305M587.5 301V305M601.5 295V305M612.5 294V305M629.5 293V305M630.5 302V305M632.5 300V305M638.5 296V305M643.5 302V305M646.5 297V305M668.5 303V305M670.5 288V305M672.5 302V305M675.5 300V305M685.5 301V305M700.5 280V305M704.5 283V305M713.5 301V305M714.5 303V305M721.5 302V305M743.5 298V305M745.5 304V305M750.5 284V305M755.5 297V305M760.5 276V305M776.5 301V305M791.5 286V305M799.5 281V305M807.5 296V305M815.5 302V305M826.5 304V305M828.5 288V305M829.5 290V305M833.5 302V305M834.5 292V305M839.5 299V305M842.5 301V305M845.5 302V305M850.5 289V305M860.5 296V305M861.5 301V305M867.5 295V305M872.5 294V305M873.5 294V305M883.5 299V305M886.5 293V305M911.5 283V305M922.5 295V305M926.5 299V305M941.5 299V305M947.5 285V305M951.5 297V305M957.5 298V305M968.5 304V305M995.5 282V305M998.5 304V305M1014.5 300V305M1016.5 301V305M1041.5 301V305M1048.5 297V305M1053.5 278V305M1058.5 273V305M1062.5 292V305M1067.5 302V305M1070.5 295V305M1074.5 298V305M1077.5 303V305M1084.5 304V305M1093.5 301V305M1095.5 296V305M1097.5 297V305M1105.5 304V305M1113.5 299V305M1121.5 304V305M1125.5 299V305M1143.5 273V305M1144.5 294V305M1153.5 303V305M1166.5 301V305M1172.5 294V305M1186.5 296V305M1202.5 302V305M1203.5 299V305M1208.5 293V305M1211.5 286V305M1216.5 304V305M1219.5 296V305M1224.5 302V305M1226.5 296V305M1247.5 300V305M1252.5 304V305M1256.5 300V305M1273.5 301V305M1281.5 300V305M1282.5 279V305M1290.5 299V305M1294.5 301V305M1305.5 300V305M1307.5 301V305M1310.5 285V305M1313.5 299V305M1323.5 300V305M1324.5 302V305M1332.5 301V305M1335.5 303V305M1344.5 289V305M1356.5 278V305M1357.5 304V305M1365.5 303V305M1368.5 282V305M1370.5 294V305M1373.5 301V305M1384.5 296V305" stroke="#c0d010" stroke-width="1.02" fill="none" shape-rendering="crispEdges"/>
</g>
<line x1="198.5" y1="37.5" x2="198.5" y2="305.6" stroke="#000" stroke-width="1.6"/>
<line x1="191.7" y1="38.3" x2="198.5" y2="38.3" stroke="#000" stroke-width="1.6"/>
<text x="186.3" y="48.2" font-size="25.5" text-anchor="end" font-weight="normal" >1.00</text>
<line x1="191.7" y1="104.8" x2="198.5" y2="104.8" stroke="#000" stroke-width="1.6"/>
<text x="186.3" y="114.7" font-size="25.5" text-anchor="end" font-weight="normal" >0.75</text>
<line x1="191.7" y1="171.6" x2="198.5" y2="171.6" stroke="#000" stroke-width="1.6"/>
<text x="186.3" y="181.5" font-size="25.5" text-anchor="end" font-weight="normal" >0.50</text>
<line x1="191.7" y1="237.9" x2="198.5" y2="237.9" stroke="#000" stroke-width="1.6"/>
<text x="186.3" y="247.8" font-size="25.5" text-anchor="end" font-weight="normal" >0.25</text>
<line x1="191.7" y1="304.8" x2="198.5" y2="304.8" stroke="#000" stroke-width="1.6"/>
<text x="186.3" y="314.7" font-size="25.5" text-anchor="end" font-weight="normal" >0.00</text>
<line x1="204.1" y1="312.6" x2="1422" y2="312.6" stroke="#000" stroke-width="1.6"/>
<line x1="204.9" y1="312.6" x2="204.9" y2="319.90000000000003" stroke="#000" stroke-width="1.6"/>
<text x="204.9" y="346.2" font-size="25.5" text-anchor="middle" font-weight="normal" >0</text>
<line x1="531.8" y1="312.6" x2="531.8" y2="319.90000000000003" stroke="#000" stroke-width="1.6"/>
<text x="531.8" y="346.2" font-size="25.5" text-anchor="middle" font-weight="normal" >2,500</text>
<line x1="859" y1="312.6" x2="859" y2="319.90000000000003" stroke="#000" stroke-width="1.6"/>
<text x="859.0" y="346.2" font-size="25.5" text-anchor="middle" font-weight="normal" >5,000</text>
<line x1="1186.4" y1="312.6" x2="1186.4" y2="319.90000000000003" stroke="#000" stroke-width="1.6"/>
<text x="1186.4" y="346.2" font-size="25.5" text-anchor="middle" font-weight="normal" >7,500</text>
<text x="806.3" y="377.9" font-size="31" text-anchor="middle" font-weight="normal" >Number of participants</text>
<text transform="translate(85.3,175.2) rotate(-90)" font-size="31" text-anchor="middle">Proportion of genetic</text>
<text transform="translate(111.6,170.9) rotate(-90)" font-size="31" text-anchor="middle">ancestry</text>
<text x="-1.0" y="25.5" font-size="46" text-anchor="start" font-weight="bold" >a</text>
<rect x="194.5" y="398.8" width="1229.0" height="73.19999999999999" fill="none" stroke="#000" stroke-width="1.5"/>
<rect x="248.60000000000002" y="406.7" width="59" height="28.0" fill="#312a78" stroke="#000" stroke-width="1.3"/>
<text x="278.1" y="464.0" font-size="25.5" text-anchor="middle" font-weight="normal" >Central Africa</text>
<rect x="455.8" y="406.7" width="59" height="28.0" fill="#6cb6de" stroke="#000" stroke-width="1.3"/>
<text x="485.3" y="464.0" font-size="25.5" text-anchor="middle" font-weight="normal" >East Bantu</text>
<rect x="663.0" y="406.7" width="59" height="28.0" fill="#d3d800" stroke="#000" stroke-width="1.3"/>
<text x="692.5" y="464.0" font-size="25.5" text-anchor="middle" font-weight="normal" >North Africa</text>
<rect x="870.3" y="406.7" width="59" height="28.0" fill="#a72a8c" stroke="#000" stroke-width="1.3"/>
<text x="899.8" y="464.0" font-size="25.5" text-anchor="middle" font-weight="normal" >Southwest Bantu</text>
<rect x="1077.4" y="406.7" width="59" height="28.0" fill="#2ba02b" stroke="#000" stroke-width="1.3"/>
<text x="1106.9" y="464.0" font-size="25.5" text-anchor="middle" font-weight="normal" >West Africa</text>
<rect x="1284.4" y="406.7" width="59" height="28.0" fill="#e87903" stroke="#000" stroke-width="1.3"/>
<text x="1313.9" y="464.0" font-size="25.5" text-anchor="middle" font-weight="normal" >Westcentral Africa</text>
<g>
<rect x="197.3" y="549.0" width="1219.7" height="268.0" fill="#88c440" />
<rect x="766.0" y="549.0" width="356.7" height="268.0" fill="#b94396" />
<rect x="1122.7" y="549.0" width="294.3" height="268.0" fill="#06bfee" />
<path d="M252.5 815V817M253.5 816V817M254.5 814V817M255.5 813V817M256.5 815V817M257.5 813V817M258.5 813V817M259.5 814V817M260.5 812V817M261.5 811V817M262.5 812V817M263.5 812V817M264.5 811V817M265.5 811V817M266.5 810V817M267.5 810V817M268.5 809V817M269.5 811V817M270.5 809V817M271.5 808V817M272.5 807V817M273.5 809V817M274.5 809V817M275.5 808V817M276.5 807V817M277.5 808V817M278.5 807V817M279.5 806V817M280.5 805V817M281.5 804V817M282.5 804V817M283.5 803V817M284.5 804V817M285.5 804V817M286.5 803V817M287.5 804V817M288.5 801V817M289.5 800V817M290.5 800V817M291.5 800V817M292.5 799V817M293.5 801V817M294.5 798V817M295.5 799V817M296.5 797V817M297.5 799V817M298.5 797V817M299.5 798V817M300.5 796V817M301.5 796V817M302.5 795V817M303.5 794V817M304.5 795V817M305.5 794V817M306.5 795V817M307.5 794V817M308.5 793V817M309.5 794V817M310.5 792V817M311.5 792V817M312.5 792V817M313.5 791V817M314.5 790V817M315.5 791V817M316.5 790V817M317.5 788V817M318.5 787V817M319.5 787V817M320.5 788V817M321.5 788V817M322.5 786V817M323.5 785V817M324.5 786V817M325.5 786V817M326.5 784V817M327.5 784V817M328.5 783V817M329.5 783V817M330.5 783V817M331.5 780V817M332.5 781V817M333.5 779V817M334.5 778V817M335.5 775V817M336.5 775V817M337.5 773V817M338.5 771V817M339.5 770V817M340.5 768V817M341.5 769V817M342.5 765V817M343.5 764V817M344.5 765V817M345.5 764V817M346.5 761V817M347.5 759V817M348.5 758V817M349.5 757V817M350.5 758V817M351.5 757V817M352.5 756V817M353.5 754V817M354.5 753V817M355.5 750V817M356.5 751V817M357.5 750V817M358.5 748V817M359.5 748V817M360.5 745V817M361.5 746V817M362.5 745V817M363.5 742V817M364.5 740V817M365.5 741V817M366.5 739V817M367.5 740V817M368.5 738V817M369.5 738V817M370.5 735V817M371.5 735V817M372.5 733V817M373.5 734V817M374.5 734V817M375.5 733V817M376.5 731V817M377.5 730V817M378.5 730V817M379.5 727V817M380.5 727V817M381.5 728V817M382.5 725V817M383.5 725V817M384.5 724V817M385.5 723V817M386.5 724V817M387.5 721V817M388.5 720V817M389.5 721V817M390.5 720V817M391.5 718V817M392.5 718V817M393.5 718V817M394.5 716V817M395.5 716V817M396.5 715V817M397.5 713V817M398.5 712V817M399.5 712V817M400.5 711V817M401.5 710V817M402.5 710V817M403.5 708V817M404.5 707V817M405.5 706V817M406.5 707V817M407.5 705V817M408.5 704V817M409.5 702V817M410.5 703V817M411.5 702V817M412.5 700V817M413.5 699V817M414.5 698V817M415.5 699V817M416.5 699V817M417.5 697V817M418.5 698V817M419.5 695V817M420.5 696V817M421.5 694V817M422.5 695V817M423.5 694V817M424.5 691V817M425.5 691V817M426.5 689V817M427.5 689V817M428.5 690V817M429.5 688V817M430.5 686V817M431.5 686V817M432.5 687V817M433.5 686V817M434.5 684V817M435.5 685V817M436.5 683V817M437.5 683V817M438.5 680V817M439.5 681V817M440.5 679V817M441.5 679V817M442.5 677V817M443.5 676V817M444.5 677V817M445.5 675V817M446.5 674V817M447.5 675V817M448.5 671V817M449.5 672V817M450.5 672V817M451.5 671V817M452.5 669V817M453.5 668V817M454.5 668V817M455.5 666V817M456.5 664V817M457.5 664V817M458.5 664V817M459.5 662V817M460.5 660V817M461.5 658V817M462.5 658V817M463.5 658V817M464.5 658V817M465.5 656V817M466.5 655V817M467.5 654V817M468.5 652V817M470.5 651V817M472.5 649V817M474.5 647V817M475.5 645V817M479.5 642V817M481.5 640V817M482.5 641V817M483.5 640V817M484.5 639V817M485.5 639V817M486.5 637V817M487.5 636V817M488.5 636V817M489.5 635V817M490.5 634V817M491.5 634V817M493.5 632V817M495.5 630V817M497.5 627V817M498.5 627V817M499.5 625V817M501.5 625V817M503.5 624V817M504.5 621V817M505.5 620V817M506.5 622V817M509.5 617V817M510.5 617V817M511.5 616V817M512.5 614V817M513.5 616V817M514.5 613V817M515.5 613V817M516.5 613V817M518.5 611V817M519.5 612V817M521.5 609V817M522.5 610V817M523.5 607V817M525.5 607V817M526.5 606V817M527.5 606V817M528.5 606V817M529.5 606V817M530.5 604V817M531.5 604V817M534.5 601V817M535.5 601V817M538.5 599V817M539.5 599V817M540.5 599V817M545.5 595V817M547.5 596V817M548.5 594V817M550.5 593V817M552.5 591V817M554.5 592V817M557.5 590V817M558.5 587V817M559.5 588V817M562.5 587V817M565.5 584V817M566.5 585V817M567.5 585V817M570.5 582V817M572.5 581V817M575.5 582V817M577.5 579V817M581.5 578V817M584.5 577V817M588.5 575V817M591.5 575V817M599.5 573V817M606.5 569V817M607.5 571V817M614.5 570V817M615.5 568V817M617.5 569V817M618.5 567V817M619.5 567V817M627.5 565V817M629.5 564V817M631.5 564V817M633.5 566V817M635.5 563V817M636.5 564V817M637.5 563V817M639.5 564V817M640.5 564V817M644.5 564V817M645.5 563V817M647.5 564V817M648.5 562V817M651.5 563V817M652.5 562V817M655.5 562V817M657.5 562V817M663.5 560V817M664.5 561V817M672.5 560V817M673.5 562V817M677.5 561V817M686.5 558V817M692.5 558V817M700.5 559V817M706.5 557V817M709.5 556V817M711.5 555V817M713.5 556V817M724.5 553V817M727.5 555V817M735.5 551V817M736.5 551V817M742.5 550V817M755.5 550V817M762.5 550V817M765.5 550V817" stroke="#b94396" stroke-width="1.02" fill="none" shape-rendering="crispEdges"/>
<path d="M469.5 653V817M508.5 619V817M532.5 604V817M541.5 597V817M549.5 593V817M551.5 593V817M560.5 587V817M561.5 587V817M564.5 585V817M571.5 584V817M573.5 581V817M576.5 580V817M578.5 579V817M579.5 578V817M585.5 577V817M592.5 574V817M595.5 573V817M596.5 573V817M598.5 572V817M600.5 573V817M602.5 573V817M604.5 572V817M620.5 568V817M621.5 568V817M622.5 566V817M624.5 568V817M628.5 567V817M632.5 565V817M638.5 563V817M643.5 563V817M649.5 562V817M654.5 564V817M658.5 563V817M660.5 562V817M661.5 563V817M668.5 561V817M670.5 560V817M671.5 561V817M675.5 561V817M678.5 559V817M679.5 560V817M681.5 559V817M682.5 560V817M683.5 559V817M687.5 560V817M688.5 559V817M694.5 557V817M695.5 558V817M696.5 557V817M699.5 558V817M701.5 558V817M703.5 558V817M708.5 556V817M710.5 556V817M712.5 557V817M716.5 554V817M718.5 555V817M719.5 553V817M722.5 552V817M723.5 555V817M725.5 554V817M728.5 554V817M729.5 554V817M730.5 552V817M734.5 553V817M740.5 551V817M743.5 552V817M744.5 551V817M745.5 550V817M747.5 551V817M748.5 552V817M749.5 552V817M750.5 552V817M751.5 550V817M752.5 550V817M758.5 549V817M759.5 549V817M761.5 550V817M763.5 551V817M764.5 549V817M766.5 549V817M1298.5 608V817M1300.5 585V817M1302.5 576V817M1303.5 573V817M1304.5 571V817M1305.5 569V817M1306.5 568V817M1307.5 567V817M1308.5 566V817M1310.5 565V817M1311.5 564V817M1312.5 563V817M1313.5 562V817M1317.5 560V817M1318.5 559V817M1320.5 558V817M1322.5 557V817M1323.5 557V817M1324.5 556V817M1325.5 556V817M1328.5 555V817M1329.5 555V817M1333.5 554V817M1338.5 552V817M1339.5 552V817M1341.5 552V817M1342.5 551V817M1343.5 551V817M1344.5 551V817M1347.5 551V817M1349.5 550V817M1351.5 550V817M1353.5 550V817M1354.5 550V817M1357.5 549V817M1359.5 549V817M1360.5 549V817M1365.5 549V817M1368.5 549V817M1369.5 549V817M1371.5 549V817M1374.5 549V817M1377.5 549V817M1379.5 549V817M1380.5 549V817M1382.5 549V817M1384.5 549V817M1386.5 549V817M1387.5 549V817M1389.5 549V817M1390.5 549V817M1394.5 549V817M1396.5 549V817M1398.5 549V817M1404.5 549V817M1406.5 549V817M1407.5 549V817M1408.5 549V817M1409.5 549V817M1412.5 549V817M1413.5 549V817M1414.5 549V817" stroke="#1a7c42" stroke-width="1.02" fill="none" shape-rendering="crispEdges"/>
<path d="M471.5 650V817M476.5 645V817M477.5 646V817M480.5 643V817M494.5 630V817M496.5 629V817M500.5 624V817M507.5 618V817M517.5 612V817M520.5 612V817M524.5 608V817M537.5 600V817M542.5 597V817M543.5 596V817M544.5 597V817M555.5 588V817M556.5 591V817M563.5 587V817M568.5 583V817M574.5 582V817M580.5 578V817M582.5 577V817M583.5 579V817M587.5 578V817M589.5 575V817M590.5 574V817M593.5 576V817M597.5 573V817M601.5 573V817M603.5 573V817M605.5 570V817M608.5 570V817M610.5 570V817M611.5 569V817M613.5 570V817M616.5 568V817M623.5 566V817M630.5 565V817M641.5 564V817M646.5 563V817M650.5 563V817M656.5 562V817M659.5 561V817M662.5 560V817M665.5 561V817M667.5 560V817M669.5 559V817M674.5 560V817M680.5 559V817M684.5 560V817M685.5 560V817M690.5 558V817M691.5 558V817M693.5 558V817M704.5 557V817M705.5 557V817M707.5 556V817M715.5 556V817M717.5 553V817M720.5 555V817M721.5 553V817M726.5 553V817M731.5 553V817M732.5 553V817M737.5 552V817M739.5 551V817M746.5 551V817M753.5 550V817M754.5 550V817M756.5 549V817M760.5 551V817M1125.5 816V817M1127.5 815V817M1129.5 816V817M1130.5 815V817M1133.5 816V817M1136.5 815V817M1138.5 816V817M1141.5 816V817M1144.5 816V817M1145.5 816V817M1146.5 816V817M1147.5 816V817M1148.5 816V817M1150.5 816V817M1151.5 816V817M1158.5 815V817M1159.5 815V817M1161.5 815V817M1162.5 816V817M1164.5 815V817M1165.5 816V817M1168.5 816V817M1176.5 816V817M1180.5 816V817M1182.5 816V817M1183.5 816V817M1184.5 816V817M1185.5 815V817M1186.5 816V817M1187.5 815V817M1188.5 814V817M1190.5 814V817M1191.5 814V817M1192.5 815V817M1195.5 815V817M1196.5 815V817M1197.5 814V817M1198.5 816V817M1199.5 814V817M1200.5 814V817M1201.5 816V817M1202.5 816V817M1203.5 815V817M1204.5 815V817M1205.5 815V817M1206.5 814V817M1207.5 815V817M1208.5 814V817M1209.5 814V817M1210.5 813V817M1211.5 812V817M1212.5 812V817M1213.5 812V817M1214.5 813V817M1215.5 813V817M1216.5 811V817M1217.5 814V817M1218.5 813V817M1219.5 812V817M1220.5 815V817M1221.5 811V817M1222.5 811V817M1223.5 811V817M1224.5 810V817M1225.5 810V817M1226.5 811V817M1227.5 812V817M1228.5 812V817M1229.5 809V817M1230.5 808V817M1231.5 809V817M1232.5 810V817M1233.5 807V817M1234.5 809V817M1235.5 807V817M1236.5 805V817M1237.5 808V817M1238.5 804V817M1239.5 803V817M1240.5 804V817M1241.5 803V817M1242.5 804V817M1243.5 804V817M1244.5 804V817M1245.5 801V817M1246.5 802V817M1247.5 801V817M1248.5 798V817M1249.5 797V817M1250.5 798V817M1251.5 796V817M1252.5 799V817M1253.5 798V817M1254.5 797V817M1255.5 794V817M1256.5 796V817M1257.5 793V817M1258.5 795V817M1259.5 792V817M1260.5 792V817M1261.5 791V817M1262.5 793V817M1263.5 789V817M1264.5 790V817M1265.5 788V817M1266.5 786V817M1267.5 786V817M1268.5 786V817M1269.5 784V817M1270.5 783V817M1271.5 785V817M1272.5 780V817M1273.5 779V817M1274.5 778V817M1275.5 775V817M1276.5 775V817M1277.5 771V817M1278.5 766V817M1279.5 764V817M1280.5 760V817M1281.5 755V817M1282.5 754V817M1283.5 751V817M1284.5 747V817M1285.5 745V817M1286.5 739V817M1287.5 735V817M1288.5 731V817M1289.5 727V817M1290.5 724V817M1291.5 715V817M1292.5 711V817M1293.5 702V817M1299.5 593V817M1301.5 579V817M1315.5 561V817M1316.5 560V817M1319.5 559V817M1321.5 558V817M1326.5 556V817M1327.5 555V817M1331.5 554V817M1334.5 553V817M1335.5 553V817M1336.5 553V817M1340.5 552V817M1345.5 551V817M1350.5 550V817M1352.5 550V817M1355.5 550V817M1356.5 550V817M1358.5 549V817M1361.5 549V817M1362.5 549V817M1363.5 549V817M1366.5 549V817M1367.5 549V817" stroke="#2c318b" stroke-width="1.02" fill="none" shape-rendering="crispEdges"/>
<path d="M473.5 648V817M569.5 582V817M634.5 565V817M653.5 563V817M676.5 561V817M697.5 556V817M698.5 557V817M741.5 552V817M1294.5 702V817M1295.5 702V817M1296.5 702V817M1297.5 549V817" stroke="#20a8d8" stroke-width="1.02" fill="none" shape-rendering="crispEdges"/>
<path d="M478.5 645V817M492.5 633V817M502.5 624V817M536.5 600V817M609.5 569V817M626.5 566V817M666.5 561V817M702.5 556V817M757.5 551V817M767.5 549V817M1309.5 565V817M1337.5 553V817M1346.5 551V817M1348.5 550V817M1364.5 549V817" stroke="#2a8a9a" stroke-width="1.02" fill="none" shape-rendering="crispEdges"/>
<path d="M533.5 602V817M546.5 595V817M553.5 590V817M586.5 577V817M594.5 573V817M612.5 569V817M625.5 567V817M642.5 564V817M689.5 558V817M714.5 556V817M733.5 551V817M738.5 551V817" stroke="#7a4a9a" stroke-width="1.02" fill="none" shape-rendering="crispEdges"/>
<path d="M768.5 815V817M769.5 812V817M770.5 812V817M771.5 811V817M772.5 810V817M773.5 811V817M774.5 809V817M775.5 807V817M776.5 809V817M777.5 807V817M778.5 805V817M779.5 807V817M780.5 804V817M781.5 802V817M782.5 803V817M783.5 802V817M784.5 802V817M785.5 799V817M786.5 797V817M787.5 799V817M788.5 798V817M789.5 797V817M790.5 795V817M791.5 796V817M792.5 792V817M793.5 794V817M794.5 792V817M795.5 793V817M796.5 791V817M797.5 790V817M798.5 789V817M799.5 786V817M800.5 785V817M801.5 785V817M802.5 785V817M803.5 783V817M804.5 783V817M805.5 784V817M806.5 781V817M807.5 782V817M808.5 778V817M809.5 780V817M810.5 779V817M811.5 776V817M812.5 774V817M813.5 776V817M814.5 774V817M815.5 770V817M816.5 771V817M817.5 768V817M818.5 768V817M819.5 765V817M820.5 764V817M821.5 763V817M822.5 759V817M823.5 759V817M824.5 757V817M825.5 756V817M826.5 756V817M827.5 751V817M828.5 751V817M829.5 751V817M830.5 751V817M831.5 750V817M832.5 747V817M833.5 747V817M834.5 745V817M835.5 744V817M836.5 744V817M837.5 745V817M838.5 744V817M839.5 742V817M840.5 741V817M841.5 741V817M842.5 741V817M843.5 739V817M844.5 737V817M845.5 738V817M846.5 739V817M847.5 738V817M848.5 736V817M849.5 734V817M850.5 735V817M851.5 734V817M852.5 734V817M853.5 730V817M854.5 733V817M855.5 729V817M856.5 728V817M857.5 727V817M858.5 728V817M859.5 728V817M860.5 724V817M861.5 724V817M862.5 723V817M863.5 722V817M864.5 721V817M865.5 719V817M866.5 718V817M867.5 717V817M868.5 718V817M869.5 716V817M870.5 714V817M871.5 717V817M872.5 713V817M873.5 712V817M874.5 715V817M875.5 711V817M876.5 713V817M877.5 712V817M878.5 709V817M879.5 709V817M880.5 710V817M881.5 710V817M882.5 707V817M883.5 708V817M884.5 709V817M885.5 708V817M886.5 709V817M887.5 706V817M888.5 707V817M889.5 705V817M890.5 706V817M891.5 706V817M892.5 702V817M893.5 703V817M894.5 702V817M895.5 704V817M896.5 701V817M897.5 701V817M898.5 701V817M899.5 699V817M900.5 700V817M901.5 699V817M902.5 701V817M903.5 698V817M904.5 700V817M905.5 700V817M906.5 695V817M907.5 697V817M908.5 695V817M909.5 698V817M910.5 695V817M911.5 694V817M912.5 696V817M913.5 694V817M914.5 693V817M915.5 694V817M916.5 693V817M917.5 695V817M918.5 695V817M919.5 693V817M920.5 691V817M921.5 693V817M922.5 693V817M923.5 690V817M924.5 691V817M925.5 689V817M926.5 692V817M927.5 691V817M928.5 692V817M929.5 689V817M930.5 689V817M931.5 689V817M932.5 689V817M933.5 690V817M934.5 690V817M935.5 686V817M936.5 690V817M937.5 687V817M938.5 689V817M939.5 685V817M940.5 686V817M941.5 688V817M942.5 687V817M943.5 686V817M944.5 684V817M945.5 685V817M946.5 685V817M947.5 683V817M948.5 685V817M949.5 682V817M950.5 682V817M951.5 681V817M952.5 683V817M953.5 680V817M954.5 682V817M955.5 680V817M956.5 681V817M957.5 679V817M958.5 678V817M959.5 679V817M960.5 678V817M961.5 677V817M962.5 677V817M963.5 677V817M964.5 675V817M965.5 675V817M966.5 676V817M967.5 675V817M968.5 675V817M969.5 671V817M970.5 672V817M971.5 672V817M972.5 672V817M973.5 672V817M974.5 672V817M975.5 668V817M976.5 668V817M977.5 668V817M978.5 667V817M979.5 668V817M980.5 666V817M981.5 664V817M982.5 667V817M983.5 664V817M984.5 666V817M985.5 664V817M986.5 665V817M987.5 664V817M988.5 660V817M989.5 663V817M990.5 660V817M991.5 658V817M992.5 658V817M993.5 658V817M994.5 654V817M995.5 657V817M996.5 653V817M997.5 652V817M998.5 651V817M999.5 650V817M1000.5 651V817M1001.5 646V817M1002.5 646V817M1003.5 646V817M1004.5 645V817M1005.5 644V817M1006.5 643V817M1007.5 642V817M1008.5 639V817M1009.5 638V817M1010.5 639V817M1011.5 638V817M1012.5 636V817M1013.5 637V817M1014.5 634V817M1015.5 632V817M1016.5 630V817M1017.5 629V817M1018.5 629V817M1019.5 628V817M1020.5 627V817M1021.5 626V817M1022.5 623V817M1023.5 625V817M1024.5 625V817M1025.5 622V817M1026.5 622V817M1027.5 619V817M1028.5 617V817M1029.5 615V817M1030.5 616V817M1031.5 614V817M1032.5 612V817M1033.5 610V817M1034.5 607V817M1035.5 607V817M1036.5 603V817M1037.5 604V817M1038.5 600V817M1039.5 600V817M1040.5 596V817M1041.5 595V817M1042.5 597V817M1043.5 596V817M1044.5 593V817M1045.5 591V817M1046.5 593V817M1047.5 590V817M1048.5 591V817M1049.5 589V817M1050.5 589V817M1051.5 587V817M1052.5 587V817M1053.5 585V817M1054.5 583V817M1055.5 583V817M1056.5 583V817M1057.5 580V817M1058.5 582V817M1059.5 581V817M1060.5 579V817M1061.5 579V817M1062.5 577V817M1063.5 579V817M1064.5 576V817M1065.5 577V817M1066.5 574V817M1067.5 576V817M1068.5 573V817M1069.5 572V817M1070.5 571V817M1071.5 574V817M1072.5 573V817M1073.5 571V817M1074.5 572V817M1075.5 572V817M1076.5 569V817M1077.5 570V817M1078.5 569V817M1079.5 569V817M1080.5 566V817M1081.5 564V817M1082.5 564V817M1083.5 564V817M1084.5 566V817M1085.5 564V817M1086.5 562V817M1087.5 563V817M1088.5 562V817M1089.5 559V817M1090.5 561V817M1091.5 560V817M1092.5 557V817M1093.5 558V817M1094.5 558V817M1095.5 557V817M1096.5 559V817M1097.5 556V817M1098.5 558V817M1099.5 555V817M1100.5 554V817M1101.5 554V817M1102.5 554V817M1103.5 553V817M1104.5 553V817M1105.5 553V817M1106.5 555V817M1107.5 554V817M1108.5 554V817M1109.5 551V817M1110.5 552V817M1111.5 550V817M1112.5 550V817M1113.5 553V817M1114.5 551V817M1115.5 552V817M1116.5 551V817M1117.5 550V817M1118.5 549V817M1119.5 549V817M1120.5 549V817M1121.5 549V817M1122.5 549V817" stroke="#187d40" stroke-width="1.02" fill="none" shape-rendering="crispEdges"/>
<path d="M1294.5 549V702M1295.5 549V702M1296.5 549V702" stroke="#d8c020" stroke-width="1.02" fill="none" shape-rendering="crispEdges"/>
<path d="M1298.5 549V608M1299.5 549V593M1300.5 549V585M1301.5 549V579M1302.5 549V576M1303.5 549V573M1304.5 549V571M1305.5 549V569M1306.5 549V568M1307.5 549V567M1308.5 549V566M1309.5 549V565M1310.5 549V565M1311.5 549V564M1312.5 549V563M1313.5 549V562M1314.5 549V562M1315.5 549V561M1316.5 549V560M1317.5 549V560M1318.5 549V559M1319.5 549V559M1320.5 549V558M1321.5 549V558M1322.5 549V557M1323.5 549V557M1324.5 549V556M1325.5 549V556M1326.5 549V556M1327.5 549V555M1328.5 549V555M1329.5 549V555M1330.5 549V554M1331.5 549V554M1332.5 549V554M1333.5 549V554M1334.5 549V553M1335.5 549V553M1336.5 549V553M1337.5 549V553M1338.5 549V552M1339.5 549V552M1340.5 549V552M1341.5 549V552M1342.5 549V551M1343.5 549V551M1344.5 549V551M1345.5 549V551M1346.5 549V551M1347.5 549V551M1348.5 549V550M1349.5 549V550M1350.5 549V550M1351.5 549V550M1352.5 549V550M1353.5 549V550M1354.5 549V550M1355.5 549V550M1356.5 549V550" stroke="#06bfee" stroke-width="1.02" fill="none" shape-rendering="crispEdges"/>
<path d="M1314.5 562V817M1330.5 554V817M1332.5 554V817" stroke="#5a5a9a" stroke-width="1.02" fill="none" shape-rendering="crispEdges"/>
<path d="M1370.5 549V817M1375.5 549V817M1376.5 549V817M1378.5 549V817M1383.5 549V817M1385.5 549V817M1388.5 549V817M1391.5 549V817M1392.5 549V817M1393.5 549V817M1397.5 549V817M1400.5 549V817M1401.5 549V817M1402.5 549V817M1403.5 549V817M1405.5 549V817M1410.5 549V817M1415.5 549V817M1416.5 549V817" stroke="#e0cc22" stroke-width="1.02" fill="none" shape-rendering="crispEdges"/>
<path d="M1372.5 549V817M1373.5 549V817M1381.5 549V817M1395.5 549V817M1399.5 549V817M1411.5 549V817" stroke="#8aa030" stroke-width="1.02" fill="none" shape-rendering="crispEdges"/>
<path d="M250.5 812V817M252.5 811V817M253.5 811V817M254.5 809V817M258.5 816V817M259.5 815V817M266.5 816V817M267.5 814V817M268.5 814V817M269.5 814V817M270.5 814V817M271.5 810V817M272.5 807V817M273.5 813V817M274.5 804V817M275.5 812V817M276.5 804V817M278.5 809V817M281.5 804V817M282.5 810V817M283.5 811V817M284.5 815V817M285.5 805V817M286.5 803V817M288.5 812V817M289.5 815V817M291.5 802V817M294.5 807V817M298.5 806V817M299.5 814V817M300.5 805V817M301.5 815V817M303.5 810V817M305.5 812V817M306.5 800V817M307.5 814V817M308.5 805V817M309.5 809V817M310.5 816V817M311.5 801V817M314.5 805V817M317.5 815V817M319.5 815V817M320.5 808V817M322.5 806V817M325.5 804V817M327.5 803V817M328.5 797V817M330.5 800V817M332.5 804V817M336.5 808V817M338.5 796V817M339.5 805V817M342.5 807V817M344.5 814V817M345.5 797V817M347.5 804V817M349.5 806V817M350.5 810V817M351.5 798V817M352.5 797V817M353.5 813V817M354.5 798V817M357.5 793V817M358.5 813V817M359.5 807V817M360.5 799V817M361.5 810V817M362.5 797V817M363.5 814V817M364.5 815V817M367.5 798V817M368.5 793V817M371.5 795V817M372.5 809V817M373.5 812V817M376.5 798V817M378.5 804V817M381.5 797V817M386.5 800V817M388.5 800V817M389.5 812V817M390.5 799V817M391.5 807V817M392.5 796V817M393.5 801V817M399.5 790V817M401.5 811V817M402.5 805V817M404.5 787V817M406.5 799V817M407.5 811V817M408.5 787V817M411.5 809V817M412.5 786V817M413.5 790V817M416.5 805V817M418.5 805V817M425.5 792V817M426.5 813V817M428.5 789V817M430.5 804V817M433.5 806V817M435.5 800V817M436.5 815V817M437.5 796V817M439.5 794V817M440.5 795V817M442.5 804V817M445.5 793V817M446.5 797V817M447.5 816V817M449.5 806V817M450.5 783V817M451.5 786V817M452.5 812V817M453.5 814V817M455.5 809V817M456.5 795V817M460.5 810V817M461.5 801V817M463.5 786V817M464.5 812V817M466.5 779V817M468.5 802V817M470.5 795V817M473.5 691V817M475.5 810V817M479.5 815V817M481.5 797V817M485.5 792V817M486.5 803V817M487.5 792V817M488.5 785V817M490.5 814V817M493.5 810V817M494.5 737V817M499.5 802V817M501.5 798V817M504.5 776V817M509.5 782V817M511.5 777V817M512.5 814V817M517.5 623V817M518.5 784V817M522.5 805V817M523.5 790V817M525.5 795V817M527.5 790V817M528.5 814V817M535.5 816V817M536.5 633V817M537.5 804V817M542.5 652V817M543.5 626V817M545.5 606V817M548.5 807V817M550.5 784V817M552.5 716V817M554.5 816V817M556.5 778V817M557.5 699V817M558.5 777V817M563.5 615V817M564.5 718V817M567.5 793V817M568.5 637V817M569.5 755V817M570.5 614V817M571.5 670V817M573.5 789V817M582.5 602V817M593.5 734V817M595.5 716V817M599.5 696V817M600.5 768V817M607.5 652V817M614.5 716V817M617.5 581V817M618.5 732V817M622.5 646V817M624.5 645V817M631.5 774V817M635.5 695V817M639.5 638V817M643.5 608V817M647.5 713V817M648.5 791V817M666.5 715V817M680.5 649V817M687.5 766V817M688.5 605V817M691.5 762V817M696.5 640V817M701.5 685V817M703.5 746V817M717.5 565V817M722.5 575V817M729.5 806V817M731.5 705V817M742.5 762V817M745.5 678V817M746.5 639V817M751.5 618V817M753.5 723V817M759.5 614V817M760.5 804V817M780.5 801V804M781.5 795V802M787.5 790V799M788.5 794V798M796.5 791V817M802.5 784V785M806.5 772V781M812.5 765V774M814.5 774V817M837.5 736V745M850.5 769V817M866.5 713V718M868.5 711V718M870.5 707V714M874.5 759V817M880.5 706V710M881.5 700V710M914.5 692V693M926.5 691V692M934.5 718V817M948.5 679V685M957.5 671V679M959.5 672V679M960.5 678V817M972.5 672V817M998.5 651V817M1020.5 627V817M1022.5 623V817M1023.5 618V625M1025.5 706V817M1035.5 602V607M1037.5 604V817M1039.5 596V600M1048.5 628V817M1050.5 581V589M1052.5 586V587M1055.5 743V817M1057.5 575V580M1061.5 619V817M1064.5 630V817M1093.5 555V558M1113.5 682V817M1114.5 724V817M1302.5 707V817M1307.5 780V817M1310.5 729V817M1311.5 572V817M1314.5 728V817M1324.5 800V817M1334.5 787V817M1349.5 798V817M1350.5 585V817M1351.5 771V817M1352.5 811V817M1355.5 686V817M1362.5 702V817M1363.5 569V817M1369.5 678V817" stroke="#2c318b" stroke-width="1.02" fill="none" shape-rendering="crispEdges"/>
<path d="M251.5 815V817M255.5 813V817M260.5 811V817M264.5 806V817M296.5 803V817M324.5 808V817M333.5 805V817M340.5 815V817M384.5 791V817M396.5 806V817M403.5 794V817M410.5 791V817M419.5 787V817M421.5 792V817M422.5 807V817M423.5 814V817M424.5 799V817M434.5 811V817M438.5 806V817M441.5 796V817M443.5 787V817M459.5 806V817M462.5 801V817M510.5 797V817M530.5 800V817M777.5 806V807M793.5 787V794M794.5 783V792M808.5 774V778M835.5 735V744M843.5 737V739M850.5 726V735M852.5 725V734M858.5 722V728M860.5 721V724M871.5 715V717M879.5 704V709M893.5 702V703M895.5 701V704M901.5 693V699M919.5 685V693M921.5 690V693M931.5 684V689M932.5 680V689M937.5 683V687M942.5 686V687M953.5 678V680M966.5 673V676M969.5 662V671M999.5 648V650M1004.5 643V645M1008.5 637V639M1009.5 632V638M1010.5 635V639M1020.5 618V627M1037.5 600V604M1047.5 587V590" stroke="#7a4a9a" stroke-width="1.02" fill="none" shape-rendering="crispEdges"/>
<path d="M256.5 813V817M262.5 811V817M287.5 806V817M292.5 807V817M302.5 811V817M313.5 806V817M316.5 807V817M329.5 810V817M335.5 807V817M341.5 810V817M369.5 813V817M374.5 799V817M375.5 805V817M380.5 807V817M383.5 802V817M385.5 795V817M394.5 794V817M395.5 804V817M397.5 801V817M409.5 793V817M415.5 803V817M420.5 805V817M427.5 787V817M432.5 798V817M444.5 782V817M448.5 772V817M467.5 778V817M474.5 809V817M477.5 741V817M483.5 798V817M484.5 814V817M491.5 809V817M498.5 743V817M502.5 642V817M515.5 816V817M516.5 694V817M520.5 803V817M532.5 633V817M541.5 779V817M547.5 739V817M551.5 656V817M565.5 668V817M591.5 798V817M608.5 572V817M609.5 722V817M613.5 644V817M629.5 787V817M632.5 631V817M633.5 809V817M636.5 746V817M644.5 632V817M645.5 735V817M650.5 631V817M654.5 712V817M662.5 789V817M663.5 731V817M664.5 721V817M667.5 739V817M678.5 680V817M679.5 607V817M686.5 568V817M693.5 674V817M694.5 816V817M697.5 776V817M698.5 667V817M706.5 614V817M723.5 791V817M724.5 602V817M726.5 809V817M727.5 600V817M744.5 644V817M755.5 677V817M756.5 551V817M757.5 682V817M761.5 787V817M762.5 791V817M765.5 696V817M1210.5 808V817M1212.5 808V817M1213.5 815V817M1224.5 814V817M1226.5 812V817M1227.5 808V817M1228.5 814V817M1244.5 808V817M1247.5 807V817M1264.5 815V817M1266.5 813V817M1273.5 811V817M1277.5 810V817M1298.5 811V817M1300.5 783V817M1321.5 802V817M1322.5 801V817M1343.5 576V817M1359.5 763V817M1360.5 613V817M1366.5 691V817M1385.5 549V599M1400.5 549V554M1402.5 549V595" stroke="#1a7c42" stroke-width="1.02" fill="none" shape-rendering="crispEdges"/>
<path d="M304.5 812V817M315.5 801V817M321.5 804V817M323.5 799V817M405.5 814V817M429.5 798V817M457.5 794V817M465.5 814V817M497.5 795V817M500.5 694V817M507.5 804V817M508.5 697V817M513.5 805V817M519.5 797V817M526.5 798V817M559.5 775V817M562.5 811V817M592.5 796V817M603.5 787V817M604.5 692V817M628.5 786V817M673.5 773V817M708.5 676V817M714.5 682V817M736.5 774V817M740.5 701V817M758.5 614V817M771.5 811V817M782.5 796V803M796.5 785V791M810.5 778V779M817.5 761V768M841.5 741V817M846.5 730V739M866.5 768V817M873.5 703V712M889.5 705V817M890.5 697V706M908.5 690V695M917.5 691V695M922.5 693V817M927.5 690V691M941.5 679V688M949.5 678V682M961.5 674V677M973.5 669V672M981.5 659V664M993.5 658V817M996.5 646V653M1000.5 770V817M1013.5 730V817M1017.5 658V817M1027.5 619V817M1028.5 611V617M1041.5 591V595M1047.5 646V817M1049.5 589V817M1051.5 584V587M1055.5 578V583M1060.5 579V817M1072.5 573V817M1078.5 567V569M1081.5 558V564M1083.5 558V564M1086.5 562V817M1087.5 563V817M1094.5 558V817M1097.5 556V817M1103.5 573V817M1118.5 549V817" stroke="#2a8a9a" stroke-width="1.02" fill="none" shape-rendering="crispEdges"/>
<path d="M471.5 713V817M476.5 696V817M492.5 730V817M524.5 683V817M533.5 750V817M544.5 633V817M546.5 794V817M561.5 615V817M578.5 622V817M611.5 807V817M625.5 583V817M637.5 780V817M641.5 778V817M649.5 645V817M651.5 634V817M671.5 680V817M672.5 776V817M683.5 800V817M690.5 640V817M713.5 809V817M721.5 554V817M737.5 617V817M738.5 616V817" stroke="#b94396" stroke-width="1.02" fill="none" shape-rendering="crispEdges"/>
<path d="M800.5 781V785M803.5 783V817M813.5 776V817M816.5 765V771M821.5 796V817M823.5 759V817M831.5 743V750M832.5 746V747M843.5 756V817M862.5 746V817M873.5 718V817M888.5 702V707M920.5 683V691M925.5 689V817M931.5 689V817M945.5 676V685M951.5 672V681M953.5 739V817M956.5 680V681M972.5 670V672M978.5 794V817M984.5 659V666M1002.5 644V646M1009.5 638V817M1012.5 628V636M1015.5 779V817M1045.5 602V817M1046.5 666V817M1053.5 585V817M1056.5 579V583M1063.5 606V817M1066.5 702V817M1067.5 576V817M1068.5 794V817M1081.5 611V817M1082.5 563V564M1102.5 549V554M1106.5 780V817M1107.5 551V554M1109.5 730V817M1111.5 659V817M1120.5 549V817" stroke="#20a8d8" stroke-width="1.02" fill="none" shape-rendering="crispEdges"/>
<path d="M961.5 549V718M1003.5 549V710M1037.5 549V685" stroke="#a8a840" stroke-width="1.02" fill="none" shape-rendering="crispEdges"/>
<path d="M966.5 549V720M972.5 549V762M1026.5 549V648M1034.5 549V679" stroke="#c8b830" stroke-width="1.02" fill="none" shape-rendering="crispEdges"/>
<path d="M1178.5 549V558M1180.5 549V552M1189.5 549V563M1201.5 549V552M1207.5 549V560M1217.5 549V551M1218.5 549V556M1219.5 549V550M1235.5 549V550M1237.5 549V559M1238.5 549V551M1246.5 549V551M1251.5 549V550M1252.5 549V554M1255.5 549V554M1257.5 549V550M1260.5 549V551M1262.5 549V563M1275.5 549V556" stroke="#a0c860" stroke-width="1.02" fill="none" shape-rendering="crispEdges"/>
<path d="M1179.5 549V553M1182.5 549V557M1184.5 549V563M1190.5 549V553M1195.5 549V551M1204.5 549V557M1206.5 549V553M1208.5 549V555M1210.5 549V550M1215.5 549V563M1234.5 549V557M1242.5 549V555M1254.5 549V550M1267.5 549V551M1271.5 549V556M1281.5 549V550M1288.5 549V553M1293.5 549V554" stroke="#d8c830" stroke-width="1.02" fill="none" shape-rendering="crispEdges"/>
<path d="M1378.5 549V585M1390.5 549V592M1391.5 549V576" stroke="#e0cc22" stroke-width="1.02" fill="none" shape-rendering="crispEdges"/>
<path d="M284.5 805V817M348.5 795V817M404.5 713V817M411.5 728V817M450.5 689V817M462.5 676V817M463.5 681V817M489.5 690V817" stroke="#2c318b" stroke-width="1.02" fill="none" shape-rendering="crispEdges"/>
<path d="M334.5 785V817M429.5 704V817" stroke="#2a8a9a" stroke-width="1.02" fill="none" shape-rendering="crispEdges"/>
<path d="M339.5 816V817M351.5 805V817M359.5 778V817M380.5 745V817M415.5 712V817M470.5 710V817M525.5 632V817" stroke="#1a7c42" stroke-width="1.02" fill="none" shape-rendering="crispEdges"/>
<path d="M340.5 771V817M369.5 739V817M371.5 774V817M403.5 761V817M414.5 713V817M464.5 691V817M487.5 665V817M535.5 627V817" stroke="#7a4a9a" stroke-width="1.02" fill="none" shape-rendering="crispEdges"/>
<path d="M467.5 549V654M476.5 549V645M496.5 549V629M531.5 549V604M533.5 549V602M540.5 549V599M569.5 549V582M631.5 549V564M640.5 549V564M642.5 549V564M645.5 549V563M651.5 549V563M658.5 549V563M674.5 549V560M686.5 549V558M691.5 549V558M713.5 549V556M719.5 549V553M725.5 549V554M728.5 549V554M738.5 549V551" stroke="#9ab838" stroke-width="1.02" fill="none" shape-rendering="crispEdges"/>
<path d="M480.5 549V643M515.5 549V613M517.5 549V612M532.5 549V604M538.5 549V599M556.5 549V591M589.5 549V575M592.5 549V574M597.5 549V573M604.5 549V572M616.5 549V568M643.5 549V563M653.5 549V563M662.5 549V560M663.5 549V560M678.5 549V559M689.5 549V558M706.5 549V557M710.5 549V556M729.5 549V554M732.5 549V553M733.5 549V551M744.5 549V551M748.5 549V552M750.5 549V552M761.5 549V550M765.5 549V550" stroke="#b8c030" stroke-width="1.02" fill="none" shape-rendering="crispEdges"/>
<path d="M542.5 549V597M545.5 549V595M561.5 549V587M564.5 549V585M601.5 549V573M610.5 549V570M622.5 549V566M639.5 549V564M714.5 549V556M741.5 549V552M751.5 549V550M760.5 549V551" stroke="#d0c828" stroke-width="1.02" fill="none" shape-rendering="crispEdges"/>
<path d="M768.5 549V561M772.5 549V551M774.5 549V554M776.5 549V566M780.5 549V552M782.5 549V560M784.5 549V551M785.5 549V575M787.5 549V551M788.5 549V567M791.5 549V550M792.5 549V584M796.5 549V550M797.5 549V562M800.5 549V555M803.5 549V555M805.5 549V552M806.5 549V550M808.5 549V550M811.5 549V557M812.5 549V553M817.5 549V567M818.5 549V550M819.5 549V556M820.5 549V551M821.5 549V558M826.5 549V570M827.5 549V552M828.5 549V562M832.5 549V551M833.5 549V556M837.5 549V551M840.5 549V552M841.5 549V565M844.5 549V562M850.5 549V551M851.5 549V550M852.5 549V567M856.5 549V551M857.5 549V555M859.5 549V565M864.5 549V552M873.5 549V554M874.5 549V551M875.5 549V551M879.5 549V556M880.5 549V560M887.5 549V554M888.5 549V550M889.5 549V553M891.5 549V556M892.5 549V555M893.5 549V556M895.5 549V556M898.5 549V558M900.5 549V550M910.5 549V564M912.5 549V559M914.5 549V552M917.5 549V560M925.5 549V559M926.5 549V553M934.5 549V550M935.5 549V550M942.5 549V552M952.5 549V552M955.5 549V551M960.5 549V557M961.5 549V552M965.5 549V550M966.5 549V551M968.5 549V550M969.5 549V551M970.5 549V560M975.5 549V567M984.5 549V551M996.5 549V561M999.5 549V550M1002.5 549V551M1007.5 549V551M1010.5 549V563M1014.5 549V553M1015.5 549V559M1016.5 549V550M1017.5 549V551M1022.5 549V556M1023.5 549V551M1024.5 549V550M1026.5 549V550M1040.5 549V550M1046.5 549V552M1048.5 549V551M1049.5 549V569M1050.5 549V550M1055.5 549V554M1056.5 549V552M1061.5 549V550M1066.5 549V553M1067.5 549V554M1070.5 549V556M1074.5 549V563M1075.5 549V550M1077.5 549V553M1078.5 549V552M1082.5 549V556M1083.5 549V552M1091.5 549V557M1096.5 549V550M1098.5 549V550M1099.5 549V560M1102.5 549V551M1103.5 549V571M1105.5 549V555M1111.5 549V551M1114.5 549V550M1115.5 549V551M1120.5 549V559" stroke="#dcc020" stroke-width="1.02" fill="none" shape-rendering="crispEdges"/>
<path d="M769.5 549V553M775.5 549V551M777.5 549V552M779.5 549V552M786.5 549V553M790.5 549V555M794.5 549V552M798.5 549V553M799.5 549V554M804.5 549V559M813.5 549V560M814.5 549V551M822.5 549V551M823.5 549V550M829.5 549V556M831.5 549V550M838.5 549V550M847.5 549V559M849.5 549V560M853.5 549V551M855.5 549V555M865.5 549V562M867.5 549V551M868.5 549V562M870.5 549V550M871.5 549V566M878.5 549V555M883.5 549V552M884.5 549V558M890.5 549V554M899.5 549V550M904.5 549V550M915.5 549V550M928.5 549V554M933.5 549V551M937.5 549V553M944.5 549V557M949.5 549V551M957.5 549V552M973.5 549V550M979.5 549V552M981.5 549V558M994.5 549V551M1011.5 549V551M1025.5 549V550M1028.5 549V550M1065.5 549V552M1085.5 549V551M1087.5 549V553M1089.5 549V552M1092.5 549V553M1093.5 549V557M1104.5 549V551M1107.5 549V552M1122.5 549V554" stroke="#e0a840" stroke-width="1.02" fill="none" shape-rendering="crispEdges"/>
<path d="M770.5 549V553M771.5 549V557M778.5 549V563M789.5 549V562M793.5 549V562M795.5 549V552M807.5 549V556M810.5 549V552M815.5 549V559M816.5 549V552M825.5 549V552M834.5 549V551M835.5 549V560M836.5 549V558M846.5 549V556M861.5 549V579M869.5 549V562M877.5 549V576M881.5 549V552M885.5 549V550M886.5 549V563M894.5 549V554M896.5 549V551M897.5 549V559M905.5 549V550M906.5 549V550M923.5 549V550M924.5 549V551M936.5 549V557M938.5 549V553M940.5 549V553M948.5 549V551M958.5 549V554M972.5 549V550M982.5 549V551M985.5 549V557M988.5 549V551M989.5 549V551M990.5 549V550M991.5 549V552M1019.5 549V567M1032.5 549V560M1033.5 549V559M1047.5 549V552M1080.5 549V553M1088.5 549V554M1119.5 549V552" stroke="#c8c030" stroke-width="1.02" fill="none" shape-rendering="crispEdges"/>
<path d="M772.5 549V675M795.5 549V627M818.5 549V613M1066.5 549V629M1071.5 549V697" stroke="#c8a040" stroke-width="1.02" fill="none" shape-rendering="crispEdges"/>
<path d="M826.5 549V586M918.5 549V694M920.5 549V584M946.5 549V654M950.5 549V661M1017.5 549V610M1028.5 549V636" stroke="#d89a50" stroke-width="1.02" fill="none" shape-rendering="crispEdges"/>
<path d="M902.5 549V635M1070.5 549V585M1099.5 549V698" stroke="#c07070" stroke-width="1.02" fill="none" shape-rendering="crispEdges"/>
<path d="M250.5 549V564M251.5 549V557M257.5 549V559M260.5 549V565M262.5 549V556M264.5 549V552M272.5 549V552M274.5 549V555M278.5 549V555M286.5 549V553M290.5 549V553M299.5 549V555M302.5 549V557M312.5 549V552M314.5 549V550M318.5 549V550M339.5 549V553M343.5 549V552M344.5 549V550M347.5 549V553M349.5 549V563M350.5 549V552M357.5 549V553M358.5 549V551M362.5 549V551M372.5 549V555M390.5 549V561M391.5 549V551M393.5 549V550M397.5 549V551M404.5 549V556M407.5 549V550M408.5 549V552M419.5 549V556M427.5 549V552M433.5 549V562M435.5 549V554M437.5 549V552M449.5 549V551M459.5 549V561M466.5 549V551M476.5 549V553M477.5 549V551M497.5 549V550M499.5 549V561M507.5 549V558M512.5 549V551M520.5 549V550M521.5 549V551M525.5 549V552M544.5 549V553M548.5 549V550M552.5 549V552M554.5 549V553M557.5 549V554M567.5 549V551M572.5 549V550M573.5 549V552M575.5 549V556M580.5 549V553M583.5 549V551M587.5 549V554M589.5 549V552M594.5 549V553M601.5 549V551M602.5 549V556M606.5 549V564M607.5 549V550M612.5 549V551M614.5 549V555M617.5 549V554M618.5 549V552M620.5 549V573M627.5 549V550M634.5 549V552M635.5 549V552M658.5 549V551M661.5 549V553M672.5 549V554M678.5 549V557M684.5 549V554M688.5 549V551M689.5 549V551M690.5 549V563M698.5 549V551M709.5 549V550M710.5 549V551M715.5 549V553M720.5 549V556M723.5 549V552M727.5 549V551M730.5 549V554M737.5 549V554M748.5 549V551M761.5 549V558" stroke="#c8c830" stroke-width="1.02" fill="none" shape-rendering="crispEdges"/>
<path d="M258.5 549V553M268.5 549V561M275.5 549V558M277.5 549V552M284.5 549V554M296.5 549V551M304.5 549V551M308.5 549V550M319.5 549V552M320.5 549V556M324.5 549V561M325.5 549V550M331.5 549V550M348.5 549V556M355.5 549V551M359.5 549V552M368.5 549V557M405.5 549V551M410.5 549V552M421.5 549V552M434.5 549V553M439.5 549V551M453.5 549V554M454.5 549V551M483.5 549V556M486.5 549V551M488.5 549V552M491.5 549V553M494.5 549V551M509.5 549V551M517.5 549V553M533.5 549V551M534.5 549V562M547.5 549V550M549.5 549V553M559.5 549V550M560.5 549V550M577.5 549V550M578.5 549V554M581.5 549V559M588.5 549V562M604.5 549V551M610.5 549V557M623.5 549V554M628.5 549V550M633.5 549V551M637.5 549V556M648.5 549V561M649.5 549V550M666.5 549V553M675.5 549V554M683.5 549V564M703.5 549V552M711.5 549V565M712.5 549V558M734.5 549V554M735.5 549V560M749.5 549V573M750.5 549V551M751.5 549V565M753.5 549V551M759.5 549V550M762.5 549V552M764.5 549V553" stroke="#d8c828" stroke-width="1.02" fill="none" shape-rendering="crispEdges"/>
<path d="M270.5 549V562M280.5 549V554M281.5 549V554M289.5 549V550M294.5 549V551M315.5 549V551M330.5 549V554M336.5 549V550M338.5 549V562M340.5 549V552M342.5 549V551M345.5 549V550M351.5 549V551M352.5 549V552M361.5 549V556M363.5 549V554M366.5 549V555M374.5 549V552M380.5 549V553M381.5 549V552M403.5 549V550M406.5 549V551M413.5 549V551M425.5 549V551M432.5 549V550M442.5 549V555M444.5 549V553M445.5 549V557M447.5 549V553M458.5 549V555M464.5 549V552M467.5 549V552M473.5 549V553M475.5 549V557M493.5 549V551M498.5 549V551M502.5 549V551M511.5 549V554M519.5 549V553M530.5 549V553M531.5 549V550M536.5 549V551M541.5 549V557M543.5 549V554M545.5 549V550M550.5 549V552M551.5 549V556M555.5 549V551M563.5 549V550M568.5 549V555M569.5 549V558M579.5 549V559M582.5 549V555M585.5 549V562M593.5 549V562M596.5 549V556M597.5 549V550M629.5 549V551M636.5 549V556M641.5 549V553M643.5 549V551M644.5 549V565M659.5 549V557M662.5 549V559M663.5 549V556M668.5 549V557M671.5 549V553M685.5 549V550M691.5 549V558M702.5 549V550M705.5 549V550M706.5 549V553M708.5 549V551M728.5 549V560M732.5 549V552M741.5 549V550M744.5 549V550M746.5 549V557M755.5 549V555M758.5 549V551M765.5 549V553" stroke="#a8c038" stroke-width="1.02" fill="none" shape-rendering="crispEdges"/>
</g>
<line x1="193.9" y1="548.7" x2="193.9" y2="816.5999999999999" stroke="#000" stroke-width="1.6"/>
<line x1="187.1" y1="549.5" x2="193.9" y2="549.5" stroke="#000" stroke-width="1.6"/>
<text x="181.7" y="559.4" font-size="25.5" text-anchor="end" font-weight="normal" >1.00</text>
<line x1="187.1" y1="616.1" x2="193.9" y2="616.1" stroke="#000" stroke-width="1.6"/>
<text x="181.7" y="626.0" font-size="25.5" text-anchor="end" font-weight="normal" >0.75</text>
<line x1="187.1" y1="682.7" x2="193.9" y2="682.7" stroke="#000" stroke-width="1.6"/>
<text x="181.7" y="692.6" font-size="25.5" text-anchor="end" font-weight="normal" >0.50</text>
<line x1="187.1" y1="749.2" x2="193.9" y2="749.2" stroke="#000" stroke-width="1.6"/>
<text x="181.7" y="759.1" font-size="25.5" text-anchor="end" font-weight="normal" >0.25</text>
<line x1="187.1" y1="815.8" x2="193.9" y2="815.8" stroke="#000" stroke-width="1.6"/>
<text x="181.7" y="825.7" font-size="25.5" text-anchor="end" font-weight="normal" >0.00</text>
<line x1="197.89999999999998" y1="822" x2="1415" y2="822" stroke="#000" stroke-width="1.6"/>
<line x1="198.7" y1="822" x2="198.7" y2="829.3" stroke="#000" stroke-width="1.6"/>
<text x="198.7" y="855.6" font-size="25.5" text-anchor="middle" font-weight="normal" >0</text>
<line x1="444.6" y1="822" x2="444.6" y2="829.3" stroke="#000" stroke-width="1.6"/>
<text x="444.6" y="855.6" font-size="25.5" text-anchor="middle" font-weight="normal" >500</text>
<line x1="690.5" y1="822" x2="690.5" y2="829.3" stroke="#000" stroke-width="1.6"/>
<text x="690.5" y="855.6" font-size="25.5" text-anchor="middle" font-weight="normal" >1,000</text>
<line x1="936.4" y1="822" x2="936.4" y2="829.3" stroke="#000" stroke-width="1.6"/>
<text x="936.4" y="855.6" font-size="25.5" text-anchor="middle" font-weight="normal" >1,500</text>
<line x1="1182.3" y1="822" x2="1182.3" y2="829.3" stroke="#000" stroke-width="1.6"/>
<text x="1182.3" y="855.6" font-size="25.5" text-anchor="middle" font-weight="normal" >2,000</text>
<text x="806.3" y="887.3" font-size="31" text-anchor="middle" font-weight="normal" >Number of participants</text>
<text transform="translate(85.3,687.2) rotate(-90)" font-size="31" text-anchor="middle">Proportion of genetic</text>
<text transform="translate(111.6,682.9) rotate(-90)" font-size="31" text-anchor="middle">ancestry</text>
<text x="-1.0" y="541.5" font-size="46" text-anchor="start" font-weight="bold" >b</text>
<rect x="209" y="909.4" width="1183.8" height="76.20000000000005" fill="none" stroke="#000" stroke-width="1.5"/>
<rect x="264.4" y="921" width="59" height="27.299999999999955" fill="#d1bf16" stroke="#000" stroke-width="1.3"/>
<text x="293.9" y="978.6" font-size="25.5" text-anchor="middle" font-weight="normal" >Austronesian</text>
<rect x="459.7" y="921" width="59" height="27.299999999999955" fill="#bce3f5" stroke="#000" stroke-width="1.3"/>
<text x="489.2" y="978.6" font-size="25.5" text-anchor="middle" font-weight="normal" >Japanese</text>
<rect x="655.4" y="921" width="59" height="27.299999999999955" fill="#2f2b7a" stroke="#000" stroke-width="1.3"/>
<text x="684.9" y="978.6" font-size="25.5" text-anchor="middle" font-weight="normal" >Korean</text>
<rect x="850.7" y="921" width="59" height="27.299999999999955" fill="#8bc70a" stroke="#000" stroke-width="1.3"/>
<text x="880.2" y="978.6" font-size="25.5" text-anchor="middle" font-weight="normal" >Northern Han</text>
<rect x="1046.0" y="921" width="59" height="27.299999999999955" fill="#ab2a92" stroke="#000" stroke-width="1.3"/>
<text x="1075.5" y="978.6" font-size="25.5" text-anchor="middle" font-weight="normal" >Southern Han</text>
<rect x="1241.7" y="922.0" width="59" height="27.299999999999955" fill="#1f7332" stroke="#000" stroke-width="1.3"/>
<text x="1271.2" y="979.6" font-size="25.5" text-anchor="middle" font-weight="normal" >Southeast Asian</text>
<g>
<rect x="195.6" y="1063.0" width="1219.8" height="269.0" fill="#2b318a" />
<polygon points="195.6,1332.0 196.0,1063.0 197.0,1063.0 197.0,1063.0 198.0,1063.0 198.0,1063.0 199.0,1063.0 199.0,1063.0 200.0,1063.0 200.0,1063.0 201.0,1063.0 201.0,1063.0 202.0,1063.0 202.0,1063.0 203.0,1063.0 203.0,1063.0 204.0,1063.0 204.0,1063.0 205.0,1063.0 205.0,1063.0 206.0,1063.0 206.0,1063.0 207.0,1063.0 207.0,1063.0 208.0,1063.0 208.0,1063.0 209.0,1063.0 209.0,1063.0 210.0,1063.0 210.0,1063.0 211.0,1063.0 211.0,1063.0 212.0,1063.0 212.0,1063.0 213.0,1063.0 213.0,1063.0 214.0,1063.0 214.0,1063.0 215.0,1063.0 215.0,1063.0 216.0,1063.0 216.0,1063.0 217.0,1063.0 217.0,1063.0 218.0,1063.0 218.0,1063.0 219.0,1063.0 219.0,1063.0 220.0,1063.0 220.0,1063.0 221.0,1063.0 221.0,1063.0 222.0,1063.0 222.0,1063.0 223.0,1063.0 223.0,1063.0 224.0,1063.0 224.0,1063.0 225.0,1063.0 225.0,1063.0 226.0,1063.0 226.0,1063.0 227.0,1063.0 227.0,1063.0 228.0,1063.0 228.0,1063.0 229.0,1063.0 229.0,1063.0 230.0,1063.0 230.0,1063.0 231.0,1063.0 231.0,1063.0 232.0,1063.0 232.0,1063.0 233.0,1063.0 233.0,1063.0 234.0,1063.0 234.0,1063.0 235.0,1063.0 235.0,1063.0 236.0,1063.0 236.0,1063.0 237.0,1063.0 237.0,1063.0 238.0,1063.0 238.0,1063.0 239.0,1063.0 239.0,1063.0 240.0,1063.0 240.0,1063.0 241.0,1063.0 241.0,1063.0 242.0,1063.0 242.0,1063.0 243.0,1063.0 243.0,1063.0 244.0,1063.0 244.0,1063.0 245.0,1063.0 245.0,1063.0 246.0,1063.0 246.0,1063.0 247.0,1063.0 247.0,1063.0 248.0,1063.0 248.0,1063.0 249.0,1063.0 249.0,1063.0 250.0,1063.0 250.0,1063.0 251.0,1063.0 251.0,1063.0 252.0,1063.0 252.0,1063.0 253.0,1063.0 253.0,1063.0 254.0,1063.0 254.0,1063.0 255.0,1063.0 255.0,1063.0 256.0,1063.0 256.0,1063.0 257.0,1063.0 257.0,1063.0 258.0,1063.0 258.0,1063.0 259.0,1063.0 259.0,1063.0 260.0,1063.0 260.0,1063.0 261.0,1063.0 261.0,1063.0 262.0,1063.0 262.0,1063.0 263.0,1063.0 263.0,1063.0 264.0,1063.0 264.0,1063.0 265.0,1063.0 265.0,1063.0 266.0,1063.0 266.0,1063.0 267.0,1063.0 267.0,1063.0 268.0,1063.0 268.0,1063.0 269.0,1063.0 269.0,1063.0 270.0,1063.0 270.0,1063.0 271.0,1063.0 271.0,1063.0 272.0,1063.0 272.0,1063.0 273.0,1063.0 273.0,1063.0 274.0,1063.0 274.0,1063.0 275.0,1063.0 275.0,1063.0 276.0,1063.0 276.0,1063.0 277.0,1063.0 277.0,1063.0 278.0,1063.0 278.0,1063.0 279.0,1063.0 279.0,1063.0 280.0,1063.0 280.0,1063.0 281.0,1063.0 281.0,1063.0 282.0,1063.0 282.0,1063.0 283.0,1063.0 283.0,1063.0 284.0,1063.0 284.0,1063.0 285.0,1063.0 285.0,1063.0 286.0,1063.0 286.0,1063.0 287.0,1063.0 287.0,1063.0 288.0,1063.0 288.0,1063.0 289.0,1063.0 289.0,1063.0 290.0,1063.0 290.0,1063.0 291.0,1063.0 291.0,1063.0 292.0,1063.0 292.0,1063.0 293.0,1063.0 293.0,1063.0 294.0,1063.0 294.0,1063.0 295.0,1063.0 295.0,1063.0 296.0,1063.0 296.0,1063.0 297.0,1063.0 297.0,1063.0 298.0,1063.0 298.0,1063.0 299.0,1063.0 299.0,1063.0 300.0,1063.0 300.0,1063.0 301.0,1063.0 301.0,1063.0 302.0,1063.0 302.0,1063.0 303.0,1063.0 303.0,1063.0 304.0,1063.0 304.0,1063.0 305.0,1063.0 305.0,1063.0 306.0,1063.0 306.0,1063.0 307.0,1063.0 307.0,1063.0 308.0,1063.0 308.0,1063.0 309.0,1063.0 309.0,1063.0 310.0,1063.0 310.0,1063.0 311.0,1063.0 311.0,1063.0 312.0,1063.0 312.0,1063.0 313.0,1063.0 313.0,1063.0 314.0,1063.0 314.0,1063.0 315.0,1063.0 315.0,1063.0 316.0,1063.0 316.0,1063.0 317.0,1063.0 317.0,1063.0 318.0,1063.0 318.0,1063.0 319.0,1063.0 319.0,1063.0 320.0,1063.0 320.0,1063.0 321.0,1063.0 321.0,1063.1 322.0,1063.1 322.0,1063.1 323.0,1063.1 323.0,1063.2 324.0,1063.2 324.0,1063.2 325.0,1063.2 325.0,1063.3 326.0,1063.3 326.0,1063.4 327.0,1063.4 327.0,1063.4 328.0,1063.4 328.0,1063.0 329.0,1063.0 329.0,1063.5 330.0,1063.5 330.0,1063.5 331.0,1063.5 331.0,1063.9 332.0,1063.9 332.0,1063.8 333.0,1063.8 333.0,1063.0 334.0,1063.0 334.0,1063.0 335.0,1063.0 335.0,1063.0 336.0,1063.0 336.0,1063.0 337.0,1063.0 337.0,1064.3 338.0,1064.3 338.0,1063.0 339.0,1063.0 339.0,1063.0 340.0,1063.0 340.0,1065.0 341.0,1065.0 341.0,1063.0 342.0,1063.0 342.0,1065.1 343.0,1065.1 343.0,1063.0 344.0,1063.0 344.0,1065.1 345.0,1065.1 345.0,1064.0 346.0,1064.0 346.0,1063.0 347.0,1063.0 347.0,1063.6 348.0,1063.6 348.0,1063.0 349.0,1063.0 349.0,1065.2 350.0,1065.2 350.0,1063.0 351.0,1063.0 351.0,1066.1 352.0,1066.1 352.0,1065.8 353.0,1065.8 353.0,1063.4 354.0,1063.4 354.0,1063.9 355.0,1063.9 355.0,1064.9 356.0,1064.9 356.0,1066.5 357.0,1066.5 357.0,1064.8 358.0,1064.8 358.0,1064.4 359.0,1064.4 359.0,1063.0 360.0,1063.0 360.0,1063.0 361.0,1063.0 361.0,1064.3 362.0,1064.3 362.0,1068.1 363.0,1068.1 363.0,1063.0 364.0,1063.0 364.0,1063.0 365.0,1063.0 365.0,1064.1 366.0,1064.1 366.0,1068.2 367.0,1068.2 367.0,1066.0 368.0,1066.0 368.0,1067.9 369.0,1067.9 369.0,1063.3 370.0,1063.3 370.0,1063.0 371.0,1063.0 371.0,1065.6 372.0,1065.6 372.0,1063.1 373.0,1063.1 373.0,1065.1 374.0,1065.1 374.0,1069.4 375.0,1069.4 375.0,1064.9 376.0,1064.9 376.0,1063.0 377.0,1063.0 377.0,1063.1 378.0,1063.1 378.0,1064.3 379.0,1064.3 379.0,1068.3 380.0,1068.3 380.0,1066.4 381.0,1066.4 381.0,1069.0 382.0,1069.0 382.0,1069.0 383.0,1069.0 383.0,1063.6 384.0,1063.6 384.0,1063.8 385.0,1063.8 385.0,1063.0 386.0,1063.0 386.0,1068.0 387.0,1068.0 387.0,1064.5 388.0,1064.5 388.0,1071.8 389.0,1071.8 389.0,1063.0 390.0,1063.0 390.0,1069.3 391.0,1069.3 391.0,1063.0 392.0,1063.0 392.0,1063.0 393.0,1063.0 393.0,1063.0 394.0,1063.0 394.0,1063.0 395.0,1063.0 395.0,1072.3 396.0,1072.3 396.0,1063.0 397.0,1063.0 397.0,1063.8 398.0,1063.8 398.0,1069.8 399.0,1069.8 399.0,1073.4 400.0,1073.4 400.0,1067.7 401.0,1067.7 401.0,1065.2 402.0,1065.2 402.0,1063.7 403.0,1063.7 403.0,1063.0 404.0,1063.0 404.0,1063.0 405.0,1063.0 405.0,1065.9 406.0,1065.9 406.0,1069.9 407.0,1069.9 407.0,1067.1 408.0,1067.1 408.0,1063.8 409.0,1063.8 409.0,1065.5 410.0,1065.5 410.0,1066.5 411.0,1066.5 411.0,1072.2 412.0,1072.2 412.0,1065.6 413.0,1065.6 413.0,1073.6 414.0,1073.6 414.0,1063.0 415.0,1063.0 415.0,1072.0 416.0,1072.0 416.0,1065.2 417.0,1065.2 417.0,1068.6 418.0,1068.6 418.0,1063.0 419.0,1063.0 419.0,1070.0 420.0,1070.0 420.0,1070.6 421.0,1070.6 421.0,1066.6 422.0,1066.6 422.0,1069.5 423.0,1069.5 423.0,1071.0 424.0,1071.0 424.0,1065.2 425.0,1065.2 425.0,1071.5 426.0,1071.5 426.0,1067.4 427.0,1067.4 427.0,1075.9 428.0,1075.9 428.0,1076.4 429.0,1076.4 429.0,1076.1 430.0,1076.1 430.0,1066.3 431.0,1066.3 431.0,1072.3 432.0,1072.3 432.0,1066.8 433.0,1066.8 433.0,1077.1 434.0,1077.1 434.0,1063.0 435.0,1063.0 435.0,1063.0 436.0,1063.0 436.0,1068.9 437.0,1068.9 437.0,1074.6 438.0,1074.6 438.0,1078.4 439.0,1078.4 439.0,1068.8 440.0,1068.8 440.0,1067.5 441.0,1067.5 441.0,1066.5 442.0,1066.5 442.0,1074.7 443.0,1074.7 443.0,1076.8 444.0,1076.8 444.0,1076.6 445.0,1076.6 445.0,1072.0 446.0,1072.0 446.0,1065.6 447.0,1065.6 447.0,1075.0 448.0,1075.0 448.0,1077.5 449.0,1077.5 449.0,1065.0 450.0,1065.0 450.0,1078.4 451.0,1078.4 451.0,1073.0 452.0,1073.0 452.0,1077.8 453.0,1077.8 453.0,1069.4 454.0,1069.4 454.0,1066.7 455.0,1066.7 455.0,1069.4 456.0,1069.4 456.0,1068.7 457.0,1068.7 457.0,1065.1 458.0,1065.1 458.0,1069.7 459.0,1069.7 459.0,1066.1 460.0,1066.1 460.0,1080.4 461.0,1080.4 461.0,1067.4 462.0,1067.4 462.0,1071.8 463.0,1071.8 463.0,1072.7 464.0,1072.7 464.0,1071.9 465.0,1071.9 465.0,1072.6 466.0,1072.6 466.0,1072.4 467.0,1072.4 467.0,1069.6 468.0,1069.6 468.0,1066.2 469.0,1066.2 469.0,1076.0 470.0,1076.0 470.0,1076.9 471.0,1076.9 471.0,1075.4 472.0,1075.4 472.0,1070.6 473.0,1070.6 473.0,1076.9 474.0,1076.9 474.0,1079.6 475.0,1079.6 475.0,1072.2 476.0,1072.2 476.0,1080.7 477.0,1080.7 477.0,1079.2 478.0,1079.2 478.0,1077.7 479.0,1077.7 479.0,1070.3 480.0,1070.3 480.0,1083.2 481.0,1083.2 481.0,1069.8 482.0,1069.8 482.0,1070.7 483.0,1070.7 483.0,1067.9 484.0,1067.9 484.0,1072.4 485.0,1072.4 485.0,1075.7 486.0,1075.7 486.0,1076.6 487.0,1076.6 487.0,1083.4 488.0,1083.4 488.0,1073.3 489.0,1073.3 489.0,1074.0 490.0,1074.0 490.0,1071.2 491.0,1071.2 491.0,1075.3 492.0,1075.3 492.0,1074.2 493.0,1074.2 493.0,1084.3 494.0,1084.3 494.0,1083.2 495.0,1083.2 495.0,1072.4 496.0,1072.4 496.0,1074.3 497.0,1074.3 497.0,1069.3 498.0,1069.3 498.0,1076.8 499.0,1076.8 499.0,1077.1 500.0,1077.1 500.0,1070.2 501.0,1070.2 501.0,1071.1 502.0,1071.1 502.0,1077.4 503.0,1077.4 503.0,1070.6 504.0,1070.6 504.0,1084.7 505.0,1084.7 505.0,1082.9 506.0,1082.9 506.0,1079.3 507.0,1079.3 507.0,1078.1 508.0,1078.1 508.0,1082.7 509.0,1082.7 509.0,1076.7 510.0,1076.7 510.0,1077.8 511.0,1077.8 511.0,1086.2 512.0,1086.2 512.0,1079.9 513.0,1079.9 513.0,1080.8 514.0,1080.8 514.0,1080.8 515.0,1080.8 515.0,1082.5 516.0,1082.5 516.0,1071.0 517.0,1071.0 517.0,1071.2 518.0,1071.2 518.0,1071.3 519.0,1071.3 519.0,1073.7 520.0,1073.7 520.0,1072.5 521.0,1072.5 521.0,1087.1 522.0,1087.1 522.0,1074.3 523.0,1074.3 523.0,1074.3 524.0,1074.3 524.0,1086.7 525.0,1086.7 525.0,1084.1 526.0,1084.1 526.0,1074.5 527.0,1074.5 527.0,1073.3 528.0,1073.3 528.0,1081.5 529.0,1081.5 529.0,1083.8 530.0,1083.8 530.0,1076.9 531.0,1076.9 531.0,1076.1 532.0,1076.1 532.0,1078.7 533.0,1078.7 533.0,1080.4 534.0,1080.4 534.0,1080.0 535.0,1080.0 535.0,1074.2 536.0,1074.2 536.0,1078.6 537.0,1078.6 537.0,1079.9 538.0,1079.9 538.0,1081.4 539.0,1081.4 539.0,1086.7 540.0,1086.7 540.0,1083.0 541.0,1083.0 541.0,1079.3 542.0,1079.3 542.0,1088.9 543.0,1088.9 543.0,1075.2 544.0,1075.2 544.0,1076.4 545.0,1076.4 545.0,1087.7 546.0,1087.7 546.0,1076.8 547.0,1076.8 547.0,1085.0 548.0,1085.0 548.0,1088.8 549.0,1088.8 549.0,1087.4 550.0,1087.4 550.0,1083.0 551.0,1083.0 551.0,1079.2 552.0,1079.2 552.0,1089.9 553.0,1089.9 553.0,1075.3 554.0,1075.3 554.0,1079.6 555.0,1079.6 555.0,1079.9 556.0,1079.9 556.0,1076.7 557.0,1076.7 557.0,1085.5 558.0,1085.5 558.0,1087.2 559.0,1087.2 559.0,1080.1 560.0,1080.1 560.0,1087.5 561.0,1087.5 561.0,1077.1 562.0,1077.1 562.0,1087.6 563.0,1087.6 563.0,1083.5 564.0,1083.5 564.0,1085.4 565.0,1085.4 565.0,1087.1 566.0,1087.1 566.0,1086.4 567.0,1086.4 567.0,1083.1 568.0,1083.1 568.0,1087.5 569.0,1087.5 569.0,1083.5 570.0,1083.5 570.0,1085.4 571.0,1085.4 571.0,1076.5 572.0,1076.5 572.0,1080.2 573.0,1080.2 573.0,1088.4 574.0,1088.4 574.0,1077.6 575.0,1077.6 575.0,1085.3 576.0,1085.3 576.0,1087.8 577.0,1087.8 577.0,1077.9 578.0,1077.9 578.0,1089.2 579.0,1089.2 579.0,1079.2 580.0,1079.2 580.0,1088.9 581.0,1088.9 581.0,1088.3 582.0,1088.3 582.0,1088.1 583.0,1088.1 583.0,1088.5 584.0,1088.5 584.0,1089.1 585.0,1089.1 585.0,1089.9 586.0,1089.9 586.0,1084.5 587.0,1084.5 587.0,1086.9 588.0,1086.9 588.0,1088.7 589.0,1088.7 589.0,1087.0 590.0,1087.0 590.0,1085.6 591.0,1085.6 591.0,1089.6 592.0,1089.6 592.0,1085.4 593.0,1085.4 593.0,1084.2 594.0,1084.2 594.0,1088.7 595.0,1088.7 595.0,1088.0 596.0,1088.0 596.0,1090.1 597.0,1090.1 597.0,1089.0 598.0,1089.0 598.0,1081.8 599.0,1081.8 599.0,1078.4 600.0,1078.4 600.0,1082.4 601.0,1082.4 601.0,1090.0 602.0,1090.0 602.0,1090.3 603.0,1090.3 603.0,1091.5 604.0,1091.5 604.0,1092.1 605.0,1092.1 605.0,1090.5 606.0,1090.5 606.0,1092.0 607.0,1092.0 607.0,1083.8 608.0,1083.8 608.0,1084.4 609.0,1084.4 609.0,1092.5 610.0,1092.5 610.0,1091.1 611.0,1091.1 611.0,1092.4 612.0,1092.4 612.0,1090.9 613.0,1090.9 613.0,1080.3 614.0,1080.3 614.0,1086.6 615.0,1086.6 615.0,1092.9 616.0,1092.9 616.0,1081.8 617.0,1081.8 617.0,1093.2 618.0,1093.2 618.0,1081.5 619.0,1081.5 619.0,1091.6 620.0,1091.6 620.0,1093.8 621.0,1093.8 621.0,1092.5 622.0,1092.5 622.0,1088.5 623.0,1088.5 623.0,1093.7 624.0,1093.7 624.0,1086.3 625.0,1086.3 625.0,1084.8 626.0,1084.8 626.0,1086.7 627.0,1086.7 627.0,1094.7 628.0,1094.7 628.0,1095.1 629.0,1095.1 629.0,1093.6 630.0,1093.6 630.0,1093.9 631.0,1093.9 631.0,1089.1 632.0,1089.1 632.0,1094.4 633.0,1094.4 633.0,1086.4 634.0,1086.4 634.0,1094.1 635.0,1094.1 635.0,1094.3 636.0,1094.3 636.0,1090.0 637.0,1090.0 637.0,1088.3 638.0,1088.3 638.0,1095.2 639.0,1095.2 639.0,1093.8 640.0,1093.8 640.0,1094.1 641.0,1094.1 641.0,1094.1 642.0,1094.1 642.0,1095.8 643.0,1095.8 643.0,1097.1 644.0,1097.1 644.0,1096.8 645.0,1096.8 645.0,1096.4 646.0,1096.4 646.0,1092.0 647.0,1092.0 647.0,1096.2 648.0,1096.2 648.0,1095.0 649.0,1095.0 649.0,1096.5 650.0,1096.5 650.0,1095.8 651.0,1095.8 651.0,1090.1 652.0,1090.1 652.0,1097.6 653.0,1097.6 653.0,1091.9 654.0,1091.9 654.0,1097.4 655.0,1097.4 655.0,1098.6 656.0,1098.6 656.0,1097.2 657.0,1097.2 657.0,1096.3 658.0,1096.3 658.0,1087.9 659.0,1087.9 659.0,1099.2 660.0,1099.2 660.0,1098.6 661.0,1098.6 661.0,1098.9 662.0,1098.9 662.0,1098.3 663.0,1098.3 663.0,1099.2 664.0,1099.2 664.0,1099.0 665.0,1099.0 665.0,1097.8 666.0,1097.8 666.0,1099.6 667.0,1099.6 667.0,1090.3 668.0,1090.3 668.0,1099.5 669.0,1099.5 669.0,1100.4 670.0,1100.4 670.0,1093.1 671.0,1093.1 671.0,1093.0 672.0,1093.0 672.0,1098.3 673.0,1098.3 673.0,1099.1 674.0,1099.1 674.0,1099.2 675.0,1099.2 675.0,1099.3 676.0,1099.3 676.0,1099.1 677.0,1099.1 677.0,1088.4 678.0,1088.4 678.0,1090.9 679.0,1090.9 679.0,1099.1 680.0,1099.1 680.0,1088.4 681.0,1088.4 681.0,1096.3 682.0,1096.3 682.0,1101.3 683.0,1101.3 683.0,1100.1 684.0,1100.1 684.0,1101.8 685.0,1101.8 685.0,1101.1 686.0,1101.1 686.0,1089.9 687.0,1089.9 687.0,1102.1 688.0,1102.1 688.0,1102.2 689.0,1102.2 689.0,1099.0 690.0,1099.0 690.0,1102.0 691.0,1102.0 691.0,1102.4 692.0,1102.4 692.0,1099.1 693.0,1099.1 693.0,1100.7 694.0,1100.7 694.0,1095.3 695.0,1095.3 695.0,1092.5 696.0,1092.5 696.0,1097.6 697.0,1097.6 697.0,1101.9 698.0,1101.9 698.0,1098.0 699.0,1098.0 699.0,1100.8 700.0,1100.8 700.0,1093.3 701.0,1093.3 701.0,1103.5 702.0,1103.5 702.0,1095.0 703.0,1095.0 703.0,1099.7 704.0,1099.7 704.0,1102.7 705.0,1102.7 705.0,1097.0 706.0,1097.0 706.0,1091.4 707.0,1091.4 707.0,1102.8 708.0,1102.8 708.0,1104.4 709.0,1104.4 709.0,1103.9 710.0,1103.9 710.0,1102.6 711.0,1102.6 711.0,1103.0 712.0,1103.0 712.0,1102.4 713.0,1102.4 713.0,1104.3 714.0,1104.3 714.0,1097.9 715.0,1097.9 715.0,1105.0 716.0,1105.0 716.0,1104.3 717.0,1104.3 717.0,1104.3 718.0,1104.3 718.0,1103.9 719.0,1103.9 719.0,1095.8 720.0,1095.8 720.0,1102.5 721.0,1102.5 721.0,1097.6 722.0,1097.6 722.0,1099.2 723.0,1099.2 723.0,1106.2 724.0,1106.2 724.0,1104.1 725.0,1104.1 725.0,1092.9 726.0,1092.9 726.0,1105.1 727.0,1105.1 727.0,1094.7 728.0,1094.7 728.0,1098.0 729.0,1098.0 729.0,1105.2 730.0,1105.2 730.0,1096.1 731.0,1096.1 731.0,1106.6 732.0,1106.6 732.0,1105.0 733.0,1105.0 733.0,1107.0 734.0,1107.0 734.0,1105.9 735.0,1105.9 735.0,1103.6 736.0,1103.6 736.0,1105.8 737.0,1105.8 737.0,1106.8 738.0,1106.8 738.0,1101.7 739.0,1101.7 739.0,1105.6 740.0,1105.6 740.0,1094.4 741.0,1094.4 741.0,1105.7 742.0,1105.7 742.0,1108.0 743.0,1108.0 743.0,1105.7 744.0,1105.7 744.0,1107.3 745.0,1107.3 745.0,1106.4 746.0,1106.4 746.0,1107.6 747.0,1107.6 747.0,1105.3 748.0,1105.3 748.0,1101.3 749.0,1101.3 749.0,1108.5 750.0,1108.5 750.0,1106.1 751.0,1106.1 751.0,1106.6 752.0,1106.6 752.0,1106.2 753.0,1106.2 753.0,1107.5 754.0,1107.5 754.0,1108.7 755.0,1108.7 755.0,1108.5 756.0,1108.5 756.0,1108.6 757.0,1108.6 757.0,1108.5 758.0,1108.5 758.0,1108.4 759.0,1108.4 759.0,1108.0 760.0,1108.0 760.0,1109.8 761.0,1109.8 761.0,1109.3 762.0,1109.3 762.0,1101.5 763.0,1101.5 763.0,1104.5 764.0,1104.5 764.0,1107.8 765.0,1107.8 765.0,1102.5 766.0,1102.5 766.0,1107.8 767.0,1107.8 767.0,1108.2 768.0,1108.2 768.0,1108.5 769.0,1108.5 769.0,1100.7 770.0,1100.7 770.0,1108.0 771.0,1108.0 771.0,1109.2 772.0,1109.2 772.0,1109.6 773.0,1109.6 773.0,1103.7 774.0,1103.7 774.0,1109.4 775.0,1109.4 775.0,1099.2 776.0,1099.2 776.0,1111.0 777.0,1111.0 777.0,1099.6 778.0,1099.6 778.0,1111.0 779.0,1111.0 779.0,1110.8 780.0,1110.8 780.0,1110.1 781.0,1110.1 781.0,1109.4 782.0,1109.4 782.0,1103.8 783.0,1103.8 783.0,1109.4 784.0,1109.4 784.0,1109.9 785.0,1109.9 785.0,1109.4 786.0,1109.4 786.0,1111.4 787.0,1111.4 787.0,1102.0 788.0,1102.0 788.0,1110.6 789.0,1110.6 789.0,1102.0 790.0,1102.0 790.0,1107.3 791.0,1107.3 791.0,1110.3 792.0,1110.3 792.0,1111.3 793.0,1111.3 793.0,1112.1 794.0,1112.1 794.0,1101.9 795.0,1101.9 795.0,1112.5 796.0,1112.5 796.0,1110.6 797.0,1110.6 797.0,1110.5 798.0,1110.5 798.0,1101.4 799.0,1101.4 799.0,1108.4 800.0,1108.4 800.0,1107.3 801.0,1107.3 801.0,1110.9 802.0,1110.9 802.0,1108.4 803.0,1108.4 803.0,1105.6 804.0,1105.6 804.0,1110.5 805.0,1110.5 805.0,1104.4 806.0,1104.4 806.0,1113.5 807.0,1113.5 807.0,1112.8 808.0,1112.8 808.0,1112.6 809.0,1112.6 809.0,1112.2 810.0,1112.2 810.0,1113.9 811.0,1113.9 811.0,1114.4 812.0,1114.4 812.0,1112.0 813.0,1112.0 813.0,1113.8 814.0,1113.8 814.0,1112.1 815.0,1112.1 815.0,1104.6 816.0,1104.6 816.0,1103.4 817.0,1103.4 817.0,1114.3 818.0,1114.3 818.0,1102.8 819.0,1102.8 819.0,1114.9 820.0,1114.9 820.0,1113.7 821.0,1113.7 821.0,1110.8 822.0,1110.8 822.0,1112.3 823.0,1112.3 823.0,1104.4 824.0,1104.4 824.0,1113.6 825.0,1113.6 825.0,1115.2 826.0,1115.2 826.0,1104.8 827.0,1104.8 827.0,1115.5 828.0,1115.5 828.0,1115.9 829.0,1115.9 829.0,1112.3 830.0,1112.3 830.0,1114.0 831.0,1114.0 831.0,1104.6 832.0,1104.6 832.0,1103.8 833.0,1103.8 833.0,1114.1 834.0,1114.1 834.0,1116.5 835.0,1116.5 835.0,1116.0 836.0,1116.0 836.0,1105.0 837.0,1105.0 837.0,1104.5 838.0,1104.5 838.0,1113.3 839.0,1113.3 839.0,1116.3 840.0,1116.3 840.0,1115.7 841.0,1115.7 841.0,1109.3 842.0,1109.3 842.0,1107.0 843.0,1107.0 843.0,1116.4 844.0,1116.4 844.0,1116.2 845.0,1116.2 845.0,1116.4 846.0,1116.4 846.0,1116.4 847.0,1116.4 847.0,1117.7 848.0,1117.7 848.0,1117.4 849.0,1117.4 849.0,1117.4 850.0,1117.4 850.0,1117.9 851.0,1117.9 851.0,1117.9 852.0,1117.9 852.0,1116.5 853.0,1116.5 853.0,1106.0 854.0,1106.0 854.0,1116.1 855.0,1116.1 855.0,1117.7 856.0,1117.7 856.0,1116.0 857.0,1116.0 857.0,1117.3 858.0,1117.3 858.0,1117.6 859.0,1117.6 859.0,1112.2 860.0,1112.2 860.0,1113.0 861.0,1113.0 861.0,1118.1 862.0,1118.1 862.0,1118.3 863.0,1118.3 863.0,1108.4 864.0,1108.4 864.0,1119.2 865.0,1119.2 865.0,1117.6 866.0,1117.6 866.0,1116.9 867.0,1116.9 867.0,1119.0 868.0,1119.0 868.0,1114.0 869.0,1114.0 869.0,1117.6 870.0,1117.6 870.0,1120.2 871.0,1120.2 871.0,1119.1 872.0,1119.1 872.0,1120.3 873.0,1120.3 873.0,1110.1 874.0,1110.1 874.0,1113.5 875.0,1113.5 875.0,1118.6 876.0,1118.6 876.0,1113.6 877.0,1113.6 877.0,1117.1 878.0,1117.1 878.0,1108.6 879.0,1108.6 879.0,1118.9 880.0,1118.9 880.0,1120.4 881.0,1120.4 881.0,1121.1 882.0,1121.1 882.0,1118.6 883.0,1118.6 883.0,1119.2 884.0,1119.2 884.0,1120.2 885.0,1120.2 885.0,1120.3 886.0,1120.3 886.0,1120.1 887.0,1120.1 887.0,1119.7 888.0,1119.7 888.0,1118.9 889.0,1118.9 889.0,1112.4 890.0,1112.4 890.0,1119.2 891.0,1119.2 891.0,1109.7 892.0,1109.7 892.0,1116.1 893.0,1116.1 893.0,1121.7 894.0,1121.7 894.0,1120.3 895.0,1120.3 895.0,1113.8 896.0,1113.8 896.0,1115.4 897.0,1115.4 897.0,1120.2 898.0,1120.2 898.0,1121.2 899.0,1121.2 899.0,1122.4 900.0,1122.4 900.0,1112.3 901.0,1112.3 901.0,1122.7 902.0,1122.7 902.0,1123.1 903.0,1123.1 903.0,1123.3 904.0,1123.3 904.0,1120.5 905.0,1120.5 905.0,1111.9 906.0,1111.9 906.0,1121.8 907.0,1121.8 907.0,1120.8 908.0,1120.8 908.0,1110.7 909.0,1110.7 909.0,1122.3 910.0,1122.3 910.0,1113.7 911.0,1113.7 911.0,1123.7 912.0,1123.7 912.0,1123.9 913.0,1123.9 913.0,1123.4 914.0,1123.4 914.0,1123.7 915.0,1123.7 915.0,1122.8 916.0,1122.8 916.0,1123.5 917.0,1123.5 917.0,1119.1 918.0,1119.1 918.0,1122.8 919.0,1122.8 919.0,1123.6 920.0,1123.6 920.0,1124.9 921.0,1124.9 921.0,1123.1 922.0,1123.1 922.0,1124.1 923.0,1124.1 923.0,1115.0 924.0,1115.0 924.0,1116.9 925.0,1116.9 925.0,1123.1 926.0,1123.1 926.0,1123.4 927.0,1123.4 927.0,1115.9 928.0,1115.9 928.0,1123.7 929.0,1123.7 929.0,1118.2 930.0,1118.2 930.0,1118.9 931.0,1118.9 931.0,1119.4 932.0,1119.4 932.0,1115.2 933.0,1115.2 933.0,1124.8 934.0,1124.8 934.0,1124.6 935.0,1124.6 935.0,1126.4 936.0,1126.4 936.0,1125.3 937.0,1125.3 937.0,1124.7 938.0,1124.7 938.0,1124.9 939.0,1124.9 939.0,1117.8 940.0,1117.8 940.0,1126.8 941.0,1126.8 941.0,1126.8 942.0,1126.8 942.0,1126.8 943.0,1126.8 943.0,1121.3 944.0,1121.3 944.0,1120.1 945.0,1120.1 945.0,1127.2 946.0,1127.2 946.0,1127.3 947.0,1127.3 947.0,1127.2 948.0,1127.2 948.0,1127.1 949.0,1127.1 949.0,1116.2 950.0,1116.2 950.0,1114.6 951.0,1114.6 951.0,1126.5 952.0,1126.5 952.0,1114.8 953.0,1114.8 953.0,1127.3 954.0,1127.3 954.0,1127.3 955.0,1127.3 955.0,1127.4 956.0,1127.4 956.0,1125.0 957.0,1125.0 957.0,1117.7 958.0,1117.7 958.0,1126.5 959.0,1126.5 959.0,1127.8 960.0,1127.8 960.0,1128.1 961.0,1128.1 961.0,1116.6 962.0,1116.6 962.0,1127.8 963.0,1127.8 963.0,1128.1 964.0,1128.1 964.0,1121.3 965.0,1121.3 965.0,1128.9 966.0,1128.9 966.0,1122.2 967.0,1122.2 967.0,1128.9 968.0,1128.9 968.0,1122.4 969.0,1122.4 969.0,1129.5 970.0,1129.5 970.0,1128.3 971.0,1128.3 971.0,1130.1 972.0,1130.1 972.0,1128.7 973.0,1128.7 973.0,1127.8 974.0,1127.8 974.0,1127.8 975.0,1127.8 975.0,1129.9 976.0,1129.9 976.0,1127.9 977.0,1127.9 977.0,1130.4 978.0,1130.4 978.0,1127.9 979.0,1127.9 979.0,1125.8 980.0,1125.8 980.0,1129.1 981.0,1129.1 981.0,1131.2 982.0,1131.2 982.0,1130.3 983.0,1130.3 983.0,1128.6 984.0,1128.6 984.0,1129.0 985.0,1129.0 985.0,1121.4 986.0,1121.4 986.0,1123.0 987.0,1123.0 987.0,1129.3 988.0,1129.3 988.0,1127.0 989.0,1127.0 989.0,1130.1 990.0,1130.1 990.0,1128.5 991.0,1128.5 991.0,1130.8 992.0,1130.8 992.0,1124.1 993.0,1124.1 993.0,1130.8 994.0,1130.8 994.0,1131.9 995.0,1131.9 995.0,1118.9 996.0,1118.9 996.0,1125.9 997.0,1125.9 997.0,1130.2 998.0,1130.2 998.0,1128.9 999.0,1128.9 999.0,1131.3 1000.0,1131.3 1000.0,1132.9 1001.0,1132.9 1001.0,1132.2 1002.0,1132.2 1002.0,1132.8 1003.0,1132.8 1003.0,1127.5 1004.0,1127.5 1004.0,1126.2 1005.0,1126.2 1005.0,1130.0 1006.0,1130.0 1006.0,1131.3 1007.0,1131.3 1007.0,1132.4 1008.0,1132.4 1008.0,1126.9 1009.0,1126.9 1009.0,1126.2 1010.0,1126.2 1010.0,1126.6 1011.0,1126.6 1011.0,1132.2 1012.0,1132.2 1012.0,1132.6 1013.0,1132.6 1013.0,1127.9 1014.0,1127.9 1014.0,1133.4 1015.0,1133.4 1015.0,1130.2 1016.0,1130.2 1016.0,1123.0 1017.0,1123.0 1017.0,1129.7 1018.0,1129.7 1018.0,1128.7 1019.0,1128.7 1019.0,1132.6 1020.0,1132.6 1020.0,1127.8 1021.0,1127.8 1021.0,1132.6 1022.0,1132.6 1022.0,1134.9 1023.0,1134.9 1023.0,1124.1 1024.0,1124.1 1024.0,1133.1 1025.0,1133.1 1025.0,1133.3 1026.0,1133.3 1026.0,1125.8 1027.0,1125.8 1027.0,1132.6 1028.0,1132.6 1028.0,1134.9 1029.0,1134.9 1029.0,1134.6 1030.0,1134.6 1030.0,1126.1 1031.0,1126.1 1031.0,1132.9 1032.0,1132.9 1032.0,1134.2 1033.0,1134.2 1033.0,1133.8 1034.0,1133.8 1034.0,1135.7 1035.0,1135.7 1035.0,1123.3 1036.0,1123.3 1036.0,1131.4 1037.0,1131.4 1037.0,1126.8 1038.0,1126.8 1038.0,1135.6 1039.0,1135.6 1039.0,1129.9 1040.0,1129.9 1040.0,1124.4 1041.0,1124.4 1041.0,1134.5 1042.0,1134.5 1042.0,1134.0 1043.0,1134.0 1043.0,1135.2 1044.0,1135.2 1044.0,1134.8 1045.0,1134.8 1045.0,1134.2 1046.0,1134.2 1046.0,1136.6 1047.0,1136.6 1047.0,1127.1 1048.0,1127.1 1048.0,1136.6 1049.0,1136.6 1049.0,1136.5 1050.0,1136.5 1050.0,1134.7 1051.0,1134.7 1051.0,1136.5 1052.0,1136.5 1052.0,1136.7 1053.0,1136.7 1053.0,1135.9 1054.0,1135.9 1054.0,1134.2 1055.0,1134.2 1055.0,1137.4 1056.0,1137.4 1056.0,1137.3 1057.0,1137.3 1057.0,1135.1 1058.0,1135.1 1058.0,1137.4 1059.0,1137.4 1059.0,1137.4 1060.0,1137.4 1060.0,1135.7 1061.0,1135.7 1061.0,1125.0 1062.0,1125.0 1062.0,1137.5 1063.0,1137.5 1063.0,1137.0 1064.0,1137.0 1064.0,1137.3 1065.0,1137.3 1065.0,1134.7 1066.0,1134.7 1066.0,1136.1 1067.0,1136.1 1067.0,1138.2 1068.0,1138.2 1068.0,1130.4 1069.0,1130.4 1069.0,1137.4 1070.0,1137.4 1070.0,1133.0 1071.0,1133.0 1071.0,1138.5 1072.0,1138.5 1072.0,1136.4 1073.0,1136.4 1073.0,1137.4 1074.0,1137.4 1074.0,1134.1 1075.0,1134.1 1075.0,1132.0 1076.0,1132.0 1076.0,1131.4 1077.0,1131.4 1077.0,1137.7 1078.0,1137.7 1078.0,1137.1 1079.0,1137.1 1079.0,1137.3 1080.0,1137.3 1080.0,1126.6 1081.0,1126.6 1081.0,1135.0 1082.0,1135.0 1082.0,1137.5 1083.0,1137.5 1083.0,1139.2 1084.0,1139.2 1084.0,1140.0 1085.0,1140.0 1085.0,1139.2 1086.0,1139.2 1086.0,1131.0 1087.0,1131.0 1087.0,1140.7 1088.0,1140.7 1088.0,1138.1 1089.0,1138.1 1089.0,1136.5 1090.0,1136.5 1090.0,1140.9 1091.0,1140.9 1091.0,1138.6 1092.0,1138.6 1092.0,1138.8 1093.0,1138.8 1093.0,1132.0 1094.0,1132.0 1094.0,1140.2 1095.0,1140.2 1095.0,1137.7 1096.0,1137.7 1096.0,1140.2 1097.0,1140.2 1097.0,1140.6 1098.0,1140.6 1098.0,1139.1 1099.0,1139.1 1099.0,1129.5 1100.0,1129.5 1100.0,1140.0 1101.0,1140.0 1101.0,1142.0 1102.0,1142.0 1102.0,1139.8 1103.0,1139.8 1103.0,1139.6 1104.0,1139.6 1104.0,1140.4 1105.0,1140.4 1105.0,1142.5 1106.0,1142.5 1106.0,1129.8 1107.0,1129.8 1107.0,1129.8 1108.0,1129.8 1108.0,1142.2 1109.0,1142.2 1109.0,1142.2 1110.0,1142.2 1110.0,1142.2 1111.0,1142.2 1111.0,1140.5 1112.0,1140.5 1112.0,1142.1 1113.0,1142.1 1113.0,1140.9 1114.0,1140.9 1114.0,1131.4 1115.0,1131.4 1115.0,1141.7 1116.0,1141.7 1116.0,1141.9 1117.0,1141.9 1117.0,1141.4 1118.0,1141.4 1118.0,1132.3 1119.0,1132.3 1119.0,1138.2 1120.0,1138.2 1120.0,1136.8 1121.0,1136.8 1121.0,1143.2 1122.0,1143.2 1122.0,1143.8 1123.0,1143.8 1123.0,1143.2 1124.0,1143.2 1124.0,1142.6 1125.0,1142.6 1125.0,1143.9 1126.0,1143.9 1126.0,1145.5 1127.0,1145.5 1127.0,1138.9 1128.0,1138.9 1128.0,1137.8 1129.0,1137.8 1129.0,1135.8 1130.0,1135.8 1130.0,1144.1 1131.0,1144.1 1131.0,1145.0 1132.0,1145.0 1132.0,1144.3 1133.0,1144.3 1133.0,1143.9 1134.0,1143.9 1134.0,1133.9 1135.0,1133.9 1135.0,1138.4 1136.0,1138.4 1136.0,1145.5 1137.0,1145.5 1137.0,1138.4 1138.0,1138.4 1138.0,1147.2 1139.0,1147.2 1139.0,1147.3 1140.0,1147.3 1140.0,1135.1 1141.0,1135.1 1141.0,1148.1 1142.0,1148.1 1142.0,1139.2 1143.0,1139.2 1143.0,1147.5 1144.0,1147.5 1144.0,1146.0 1145.0,1146.0 1145.0,1148.1 1146.0,1148.1 1146.0,1147.1 1147.0,1147.1 1147.0,1147.1 1148.0,1147.1 1148.0,1146.3 1149.0,1146.3 1149.0,1148.4 1150.0,1148.4 1150.0,1149.1 1151.0,1149.1 1151.0,1147.8 1152.0,1147.8 1152.0,1149.7 1153.0,1149.7 1153.0,1145.4 1154.0,1145.4 1154.0,1149.3 1155.0,1149.3 1155.0,1149.2 1156.0,1149.2 1156.0,1150.3 1157.0,1150.3 1157.0,1150.8 1158.0,1150.8 1158.0,1147.0 1159.0,1147.0 1159.0,1151.2 1160.0,1151.2 1160.0,1151.3 1161.0,1151.3 1161.0,1149.6 1162.0,1149.6 1162.0,1150.3 1163.0,1150.3 1163.0,1151.6 1164.0,1151.6 1164.0,1151.4 1165.0,1151.4 1165.0,1147.9 1166.0,1147.9 1166.0,1152.6 1167.0,1152.6 1167.0,1149.1 1168.0,1149.1 1168.0,1154.7 1169.0,1154.7 1169.0,1154.1 1170.0,1154.1 1170.0,1155.7 1171.0,1155.7 1171.0,1156.3 1172.0,1156.3 1172.0,1156.5 1173.0,1156.5 1173.0,1156.1 1174.0,1156.1 1174.0,1158.6 1175.0,1158.6 1175.0,1158.1 1176.0,1158.1 1176.0,1158.1 1177.0,1158.1 1177.0,1153.3 1178.0,1153.3 1178.0,1160.9 1179.0,1160.9 1179.0,1161.1 1180.0,1161.1 1180.0,1162.7 1181.0,1162.7 1181.0,1161.9 1182.0,1161.9 1182.0,1158.5 1183.0,1158.5 1183.0,1164.3 1184.0,1164.3 1184.0,1165.4 1185.0,1165.4 1185.0,1162.3 1186.0,1162.3 1186.0,1165.6 1187.0,1165.6 1187.0,1166.7 1188.0,1166.7 1188.0,1168.0 1189.0,1168.0 1189.0,1163.7 1190.0,1163.7 1190.0,1168.8 1191.0,1168.8 1191.0,1171.1 1192.0,1171.1 1192.0,1171.5 1193.0,1171.5 1193.0,1171.9 1194.0,1171.9 1194.0,1174.1 1195.0,1174.1 1195.0,1170.2 1196.0,1170.2 1196.0,1167.6 1197.0,1167.6 1197.0,1176.3 1198.0,1176.3 1198.0,1173.6 1199.0,1173.6 1199.0,1178.8 1200.0,1178.8 1200.0,1179.6 1201.0,1179.6 1201.0,1180.3 1202.0,1180.3 1202.0,1180.8 1203.0,1180.8 1203.0,1182.3 1204.0,1182.3 1204.0,1179.1 1205.0,1179.1 1205.0,1183.6 1206.0,1183.6 1206.0,1184.8 1207.0,1184.8 1207.0,1186.7 1208.0,1186.7 1208.0,1182.6 1209.0,1182.6 1209.0,1188.3 1210.0,1188.3 1210.0,1191.2 1211.0,1191.2 1211.0,1192.3 1212.0,1192.3 1212.0,1193.5 1213.0,1193.5 1213.0,1188.0 1214.0,1188.0 1214.0,1193.4 1215.0,1193.4 1215.0,1198.0 1216.0,1198.0 1216.0,1200.2 1217.0,1200.2 1217.0,1201.6 1218.0,1201.6 1218.0,1203.1 1219.0,1203.1 1219.0,1203.9 1220.0,1203.9 1220.0,1197.6 1221.0,1197.6 1221.0,1207.1 1222.0,1207.1 1222.0,1206.3 1223.0,1206.3 1223.0,1206.1 1224.0,1206.1 1224.0,1204.4 1225.0,1204.4 1225.0,1212.5 1226.0,1212.5 1226.0,1213.9 1227.0,1213.9 1227.0,1215.0 1228.0,1215.0 1228.0,1213.1 1229.0,1213.1 1229.0,1217.6 1230.0,1217.6 1230.0,1218.3 1231.0,1218.3 1231.0,1218.2 1232.0,1218.2 1232.0,1219.2 1233.0,1219.2 1233.0,1220.0 1234.0,1220.0 1234.0,1222.2 1235.0,1222.2 1235.0,1221.3 1236.0,1221.3 1236.0,1223.7 1237.0,1223.7 1237.0,1225.3 1238.0,1225.3 1238.0,1224.9 1239.0,1224.9 1239.0,1226.0 1240.0,1226.0 1240.0,1227.3 1241.0,1227.3 1241.0,1227.4 1242.0,1227.4 1242.0,1228.2 1243.0,1228.2 1243.0,1230.2 1244.0,1230.2 1244.0,1229.5 1245.0,1229.5 1245.0,1229.8 1246.0,1229.8 1246.0,1228.4 1247.0,1228.4 1247.0,1231.8 1248.0,1231.8 1248.0,1229.5 1249.0,1229.5 1249.0,1234.4 1250.0,1234.4 1250.0,1234.8 1251.0,1234.8 1251.0,1235.8 1252.0,1235.8 1252.0,1232.8 1253.0,1232.8 1253.0,1235.9 1254.0,1235.9 1254.0,1233.4 1255.0,1233.4 1255.0,1235.9 1256.0,1235.9 1256.0,1237.3 1257.0,1237.3 1257.0,1237.6 1258.0,1237.6 1258.0,1237.8 1259.0,1237.8 1259.0,1238.8 1260.0,1238.8 1260.0,1238.9 1261.0,1238.9 1261.0,1239.2 1262.0,1239.2 1262.0,1239.0 1263.0,1239.0 1263.0,1239.6 1264.0,1239.6 1264.0,1240.0 1265.0,1240.0 1265.0,1241.5 1266.0,1241.5 1266.0,1242.2 1267.0,1242.2 1267.0,1238.1 1268.0,1238.1 1268.0,1242.5 1269.0,1242.5 1269.0,1237.2 1270.0,1237.2 1270.0,1240.8 1271.0,1240.8 1271.0,1238.7 1272.0,1238.7 1272.0,1237.1 1273.0,1237.1 1273.0,1244.7 1274.0,1244.7 1274.0,1244.8 1275.0,1244.8 1275.0,1239.6 1276.0,1239.6 1276.0,1240.3 1277.0,1240.3 1277.0,1248.0 1278.0,1248.0 1278.0,1247.8 1279.0,1247.8 1279.0,1242.5 1280.0,1242.5 1280.0,1244.6 1281.0,1244.6 1281.0,1249.5 1282.0,1249.5 1282.0,1243.6 1283.0,1243.6 1283.0,1246.5 1284.0,1246.5 1284.0,1250.9 1285.0,1250.9 1285.0,1250.7 1286.0,1250.7 1286.0,1252.5 1287.0,1252.5 1287.0,1251.6 1288.0,1251.6 1288.0,1252.1 1289.0,1252.1 1289.0,1252.6 1290.0,1252.6 1290.0,1251.3 1291.0,1251.3 1291.0,1253.0 1292.0,1253.0 1292.0,1252.4 1293.0,1252.4 1293.0,1254.8 1294.0,1254.8 1294.0,1253.4 1295.0,1253.4 1295.0,1254.5 1296.0,1254.5 1296.0,1254.4 1297.0,1254.4 1297.0,1254.8 1298.0,1254.8 1298.0,1255.9 1299.0,1255.9 1299.0,1256.1 1300.0,1256.1 1300.0,1250.1 1301.0,1250.1 1301.0,1252.7 1302.0,1252.7 1302.0,1253.8 1303.0,1253.8 1303.0,1256.5 1304.0,1256.5 1304.0,1257.7 1305.0,1257.7 1305.0,1257.2 1306.0,1257.2 1306.0,1258.1 1307.0,1258.1 1307.0,1258.8 1308.0,1258.8 1308.0,1258.8 1309.0,1258.8 1309.0,1252.6 1310.0,1252.6 1310.0,1253.8 1311.0,1253.8 1311.0,1259.9 1312.0,1259.9 1312.0,1258.5 1313.0,1258.5 1313.0,1259.5 1314.0,1259.5 1314.0,1260.1 1315.0,1260.1 1315.0,1259.7 1316.0,1259.7 1316.0,1259.9 1317.0,1259.9 1317.0,1253.0 1318.0,1253.0 1318.0,1261.1 1319.0,1261.1 1319.0,1260.7 1320.0,1260.7 1320.0,1261.4 1321.0,1261.4 1321.0,1261.6 1322.0,1261.6 1322.0,1255.9 1323.0,1255.9 1323.0,1263.1 1324.0,1263.1 1324.0,1262.9 1325.0,1262.9 1325.0,1262.8 1326.0,1262.8 1326.0,1263.0 1327.0,1263.0 1327.0,1263.8 1328.0,1263.8 1328.0,1257.0 1329.0,1257.0 1329.0,1263.1 1330.0,1263.1 1330.0,1260.4 1331.0,1260.4 1331.0,1264.6 1332.0,1264.6 1332.0,1260.8 1333.0,1260.8 1333.0,1260.7 1334.0,1260.7 1334.0,1264.6 1335.0,1264.6 1335.0,1264.5 1336.0,1264.5 1336.0,1264.3 1337.0,1264.3 1337.0,1265.7 1338.0,1265.7 1338.0,1259.6 1339.0,1259.6 1339.0,1260.3 1340.0,1260.3 1340.0,1263.6 1341.0,1263.6 1341.0,1260.0 1342.0,1260.0 1342.0,1266.7 1343.0,1266.7 1343.0,1267.6 1344.0,1267.6 1344.0,1266.9 1345.0,1266.9 1345.0,1267.8 1346.0,1267.8 1346.0,1267.8 1347.0,1267.8 1347.0,1268.6 1348.0,1268.6 1348.0,1267.7 1349.0,1267.7 1349.0,1268.0 1350.0,1268.0 1350.0,1269.1 1351.0,1269.1 1351.0,1269.5 1352.0,1269.5 1352.0,1269.8 1353.0,1269.8 1353.0,1270.0 1354.0,1270.0 1354.0,1269.2 1355.0,1269.2 1355.0,1263.5 1356.0,1263.5 1356.0,1271.3 1357.0,1271.3 1357.0,1264.6 1358.0,1264.6 1358.0,1271.6 1359.0,1271.6 1359.0,1272.1 1360.0,1272.1 1360.0,1271.4 1361.0,1271.4 1361.0,1272.8 1362.0,1272.8 1362.0,1273.2 1363.0,1273.2 1363.0,1268.0 1364.0,1268.0 1364.0,1272.8 1365.0,1272.8 1365.0,1272.1 1366.0,1272.1 1366.0,1274.5 1367.0,1274.5 1367.0,1270.4 1368.0,1270.4 1368.0,1275.5 1369.0,1275.5 1369.0,1273.2 1370.0,1273.2 1370.0,1275.7 1371.0,1275.7 1371.0,1276.6 1372.0,1276.6 1372.0,1275.5 1373.0,1275.5 1373.0,1276.8 1374.0,1276.8 1374.0,1274.3 1375.0,1274.3 1375.0,1271.2 1376.0,1271.2 1376.0,1272.6 1377.0,1272.6 1377.0,1278.7 1378.0,1278.7 1378.0,1274.9 1379.0,1274.9 1379.0,1278.7 1380.0,1278.7 1380.0,1278.9 1381.0,1278.9 1381.0,1280.7 1382.0,1280.7 1382.0,1281.5 1383.0,1281.5 1383.0,1281.6 1384.0,1281.6 1384.0,1281.2 1385.0,1281.2 1385.0,1280.2 1386.0,1280.2 1386.0,1282.9 1387.0,1282.9 1387.0,1276.7 1388.0,1276.7 1388.0,1284.9 1389.0,1284.9 1389.0,1280.2 1390.0,1280.2 1390.0,1286.8 1391.0,1286.8 1391.0,1283.8 1392.0,1283.8 1392.0,1290.1 1393.0,1290.1 1393.0,1283.5 1394.0,1283.5 1394.0,1292.5 1395.0,1292.5 1395.0,1294.9 1396.0,1294.9 1396.0,1296.0 1397.0,1296.0 1397.0,1295.4 1398.0,1295.4 1398.0,1302.7 1399.0,1302.7 1399.0,1301.7 1400.0,1301.7 1400.0,1312.2 1401.0,1312.2 1401.0,1320.1 1402.0,1320.1 1402.0,1328.8 1403.0,1328.8 1403.0,1332.0 1404.0,1332.0 1404.0,1332.0 1405.0,1332.0 1405.0,1332.0 1406.0,1332.0 1406.0,1332.0 1407.0,1332.0 1407.0,1332.0 1408.0,1332.0 1408.0,1332.0 1409.0,1332.0 1409.0,1332.0 1410.0,1332.0 1410.0,1332.0 1411.0,1332.0 1411.0,1332.0 1412.0,1332.0 1412.0,1332.0 1413.0,1332.0 1413.0,1332.0 1414.0,1332.0 1414.0,1332.0 1415.0,1332.0 1415.0,1332.0 1416.0,1332.0 1416.0,1332.0" fill="#b94396" />
<polygon points="195.6,1332.0 196.0,1332.0 197.0,1332.0 197.0,1332.0 198.0,1332.0 198.0,1332.0 199.0,1332.0 199.0,1332.0 200.0,1332.0 200.0,1332.0 201.0,1332.0 201.0,1332.0 202.0,1332.0 202.0,1332.0 203.0,1332.0 203.0,1332.0 204.0,1332.0 204.0,1332.0 205.0,1332.0 205.0,1332.0 206.0,1332.0 206.0,1332.0 207.0,1332.0 207.0,1332.0 208.0,1332.0 208.0,1332.0 209.0,1332.0 209.0,1332.0 210.0,1332.0 210.0,1332.0 211.0,1332.0 211.0,1332.0 212.0,1332.0 212.0,1332.0 213.0,1332.0 213.0,1332.0 214.0,1332.0 214.0,1332.0 215.0,1332.0 215.0,1332.0 216.0,1332.0 216.0,1332.0 217.0,1332.0 217.0,1332.0 218.0,1332.0 218.0,1332.0 219.0,1332.0 219.0,1332.0 220.0,1332.0 220.0,1332.0 221.0,1332.0 221.0,1332.0 222.0,1332.0 222.0,1332.0 223.0,1332.0 223.0,1332.0 224.0,1332.0 224.0,1332.0 225.0,1332.0 225.0,1332.0 226.0,1332.0 226.0,1332.0 227.0,1332.0 227.0,1332.0 228.0,1332.0 228.0,1332.0 229.0,1332.0 229.0,1332.0 230.0,1332.0 230.0,1332.0 231.0,1332.0 231.0,1332.0 232.0,1332.0 232.0,1332.0 233.0,1332.0 233.0,1332.0 234.0,1332.0 234.0,1332.0 235.0,1332.0 235.0,1332.0 236.0,1332.0 236.0,1332.0 237.0,1332.0 237.0,1332.0 238.0,1332.0 238.0,1332.0 239.0,1332.0 239.0,1332.0 240.0,1332.0 240.0,1332.0 241.0,1332.0 241.0,1332.0 242.0,1332.0 242.0,1332.0 243.0,1332.0 243.0,1332.0 244.0,1332.0 244.0,1332.0 245.0,1332.0 245.0,1332.0 246.0,1332.0 246.0,1332.0 247.0,1332.0 247.0,1332.0 248.0,1332.0 248.0,1332.0 249.0,1332.0 249.0,1332.0 250.0,1332.0 250.0,1332.0 251.0,1332.0 251.0,1332.0 252.0,1332.0 252.0,1332.0 253.0,1332.0 253.0,1332.0 254.0,1332.0 254.0,1332.0 255.0,1332.0 255.0,1332.0 256.0,1332.0 256.0,1332.0 257.0,1332.0 257.0,1332.0 258.0,1332.0 258.0,1332.0 259.0,1332.0 259.0,1332.0 260.0,1332.0 260.0,1332.0 261.0,1332.0 261.0,1332.0 262.0,1332.0 262.0,1332.0 263.0,1332.0 263.0,1332.0 264.0,1332.0 264.0,1332.0 265.0,1332.0 265.0,1332.0 266.0,1332.0 266.0,1332.0 267.0,1332.0 267.0,1332.0 268.0,1332.0 268.0,1332.0 269.0,1332.0 269.0,1332.0 270.0,1332.0 270.0,1332.0 271.0,1332.0 271.0,1332.0 272.0,1332.0 272.0,1332.0 273.0,1332.0 273.0,1332.0 274.0,1332.0 274.0,1332.0 275.0,1332.0 275.0,1332.0 276.0,1332.0 276.0,1332.0 277.0,1332.0 277.0,1332.0 278.0,1332.0 278.0,1332.0 279.0,1332.0 279.0,1332.0 280.0,1332.0 280.0,1332.0 281.0,1332.0 281.0,1332.0 282.0,1332.0 282.0,1332.0 283.0,1332.0 283.0,1332.0 284.0,1332.0 284.0,1332.0 285.0,1332.0 285.0,1332.0 286.0,1332.0 286.0,1332.0 287.0,1332.0 287.0,1332.0 288.0,1332.0 288.0,1332.0 289.0,1332.0 289.0,1332.0 290.0,1332.0 290.0,1332.0 291.0,1332.0 291.0,1332.0 292.0,1332.0 292.0,1332.0 293.0,1332.0 293.0,1332.0 294.0,1332.0 294.0,1332.0 295.0,1332.0 295.0,1332.0 296.0,1332.0 296.0,1332.0 297.0,1332.0 297.0,1332.0 298.0,1332.0 298.0,1332.0 299.0,1332.0 299.0,1332.0 300.0,1332.0 300.0,1332.0 301.0,1332.0 301.0,1332.0 302.0,1332.0 302.0,1332.0 303.0,1332.0 303.0,1332.0 304.0,1332.0 304.0,1332.0 305.0,1332.0 305.0,1332.0 306.0,1332.0 306.0,1332.0 307.0,1332.0 307.0,1332.0 308.0,1332.0 308.0,1332.0 309.0,1332.0 309.0,1332.0 310.0,1332.0 310.0,1332.0 311.0,1332.0 311.0,1332.0 312.0,1332.0 312.0,1332.0 313.0,1332.0 313.0,1332.0 314.0,1332.0 314.0,1332.0 315.0,1332.0 315.0,1332.0 316.0,1332.0 316.0,1332.0 317.0,1332.0 317.0,1332.0 318.0,1332.0 318.0,1332.0 319.0,1332.0 319.0,1332.0 320.0,1332.0 320.0,1332.0 321.0,1332.0 321.0,1332.0 322.0,1332.0 322.0,1332.0 323.0,1332.0 323.0,1332.0 324.0,1332.0 324.0,1332.0 325.0,1332.0 325.0,1332.0 326.0,1332.0 326.0,1332.0 327.0,1332.0 327.0,1332.0 328.0,1332.0 328.0,1332.0 329.0,1332.0 329.0,1332.0 330.0,1332.0 330.0,1332.0 331.0,1332.0 331.0,1332.0 332.0,1332.0 332.0,1332.0 333.0,1332.0 333.0,1332.0 334.0,1332.0 334.0,1332.0 335.0,1332.0 335.0,1332.0 336.0,1332.0 336.0,1332.0 337.0,1332.0 337.0,1332.0 338.0,1332.0 338.0,1332.0 339.0,1332.0 339.0,1332.0 340.0,1332.0 340.0,1332.0 341.0,1332.0 341.0,1332.0 342.0,1332.0 342.0,1332.0 343.0,1332.0 343.0,1332.0 344.0,1332.0 344.0,1332.0 345.0,1332.0 345.0,1332.0 346.0,1332.0 346.0,1332.0 347.0,1332.0 347.0,1332.0 348.0,1332.0 348.0,1332.0 349.0,1332.0 349.0,1332.0 350.0,1332.0 350.0,1324.3 351.0,1324.3 351.0,1325.9 352.0,1325.9 352.0,1329.1 353.0,1329.1 353.0,1328.3 354.0,1328.3 354.0,1326.7 355.0,1326.7 355.0,1327.8 356.0,1327.8 356.0,1332.0 357.0,1332.0 357.0,1332.0 358.0,1332.0 358.0,1325.8 359.0,1325.8 359.0,1332.0 360.0,1332.0 360.0,1330.2 361.0,1330.2 361.0,1328.8 362.0,1328.8 362.0,1331.1 363.0,1331.1 363.0,1329.2 364.0,1329.2 364.0,1329.5 365.0,1329.5 365.0,1327.6 366.0,1327.6 366.0,1331.8 367.0,1331.8 367.0,1325.7 368.0,1325.7 368.0,1329.6 369.0,1329.6 369.0,1327.4 370.0,1327.4 370.0,1331.7 371.0,1331.7 371.0,1318.8 372.0,1318.8 372.0,1325.6 373.0,1325.6 373.0,1329.0 374.0,1329.0 374.0,1330.1 375.0,1330.1 375.0,1326.8 376.0,1326.8 376.0,1329.4 377.0,1329.4 377.0,1330.3 378.0,1330.3 378.0,1329.0 379.0,1329.0 379.0,1326.9 380.0,1326.9 380.0,1318.0 381.0,1318.0 381.0,1329.9 382.0,1329.9 382.0,1330.9 383.0,1330.9 383.0,1331.6 384.0,1331.6 384.0,1329.9 385.0,1329.9 385.0,1329.6 386.0,1329.6 386.0,1329.1 387.0,1329.1 387.0,1326.4 388.0,1326.4 388.0,1330.3 389.0,1330.3 389.0,1331.0 390.0,1331.0 390.0,1328.1 391.0,1328.1 391.0,1331.7 392.0,1331.7 392.0,1327.4 393.0,1327.4 393.0,1324.7 394.0,1324.7 394.0,1328.1 395.0,1328.1 395.0,1327.1 396.0,1327.1 396.0,1329.3 397.0,1329.3 397.0,1326.7 398.0,1326.7 398.0,1328.2 399.0,1328.2 399.0,1331.1 400.0,1331.1 400.0,1330.4 401.0,1330.4 401.0,1327.8 402.0,1327.8 402.0,1326.8 403.0,1326.8 403.0,1317.0 404.0,1317.0 404.0,1327.3 405.0,1327.3 405.0,1327.0 406.0,1327.0 406.0,1327.4 407.0,1327.4 407.0,1318.9 408.0,1318.9 408.0,1329.1 409.0,1329.1 409.0,1327.7 410.0,1327.7 410.0,1316.4 411.0,1316.4 411.0,1324.3 412.0,1324.3 412.0,1326.3 413.0,1326.3 413.0,1329.0 414.0,1329.0 414.0,1328.2 415.0,1328.2 415.0,1316.9 416.0,1316.9 416.0,1328.0 417.0,1328.0 417.0,1326.1 418.0,1326.1 418.0,1324.1 419.0,1324.1 419.0,1326.2 420.0,1326.2 420.0,1325.8 421.0,1325.8 421.0,1328.7 422.0,1328.7 422.0,1327.8 423.0,1327.8 423.0,1326.5 424.0,1326.5 424.0,1325.2 425.0,1325.2 425.0,1329.1 426.0,1329.1 426.0,1325.8 427.0,1325.8 427.0,1327.3 428.0,1327.3 428.0,1324.8 429.0,1324.8 429.0,1325.7 430.0,1325.7 430.0,1319.1 431.0,1319.1 431.0,1324.3 432.0,1324.3 432.0,1325.5 433.0,1325.5 433.0,1325.4 434.0,1325.4 434.0,1324.1 435.0,1324.1 435.0,1315.2 436.0,1315.2 436.0,1324.0 437.0,1324.0 437.0,1323.9 438.0,1323.9 438.0,1325.3 439.0,1325.3 439.0,1327.0 440.0,1327.0 440.0,1323.9 441.0,1323.9 441.0,1324.3 442.0,1324.3 442.0,1324.8 443.0,1324.8 443.0,1326.9 444.0,1326.9 444.0,1324.1 445.0,1324.1 445.0,1326.7 446.0,1326.7 446.0,1324.4 447.0,1324.4 447.0,1324.2 448.0,1324.2 448.0,1326.4 449.0,1326.4 449.0,1325.9 450.0,1325.9 450.0,1325.6 451.0,1325.6 451.0,1321.6 452.0,1321.6 452.0,1326.0 453.0,1326.0 453.0,1326.2 454.0,1326.2 454.0,1321.9 455.0,1321.9 455.0,1325.1 456.0,1325.1 456.0,1323.6 457.0,1323.6 457.0,1319.3 458.0,1319.3 458.0,1323.4 459.0,1323.4 459.0,1323.5 460.0,1323.5 460.0,1321.0 461.0,1321.0 461.0,1323.1 462.0,1323.1 462.0,1322.5 463.0,1322.5 463.0,1323.1 464.0,1323.1 464.0,1320.1 465.0,1320.1 465.0,1312.8 466.0,1312.8 466.0,1321.9 467.0,1321.9 467.0,1320.3 468.0,1320.3 468.0,1325.4 469.0,1325.4 469.0,1321.8 470.0,1321.8 470.0,1322.3 471.0,1322.3 471.0,1323.8 472.0,1323.8 472.0,1322.5 473.0,1322.5 473.0,1322.1 474.0,1322.1 474.0,1322.6 475.0,1322.6 475.0,1320.3 476.0,1320.3 476.0,1321.0 477.0,1321.0 477.0,1323.9 478.0,1323.9 478.0,1319.8 479.0,1319.8 479.0,1321.4 480.0,1321.4 480.0,1324.4 481.0,1324.4 481.0,1320.1 482.0,1320.1 482.0,1325.4 483.0,1325.4 483.0,1323.0 484.0,1323.0 484.0,1324.2 485.0,1324.2 485.0,1321.7 486.0,1321.7 486.0,1322.1 487.0,1322.1 487.0,1322.2 488.0,1322.2 488.0,1322.7 489.0,1322.7 489.0,1319.5 490.0,1319.5 490.0,1322.8 491.0,1322.8 491.0,1322.7 492.0,1322.7 492.0,1319.4 493.0,1319.4 493.0,1322.8 494.0,1322.8 494.0,1315.7 495.0,1315.7 495.0,1321.5 496.0,1321.5 496.0,1321.9 497.0,1321.9 497.0,1320.1 498.0,1320.1 498.0,1321.3 499.0,1321.3 499.0,1322.2 500.0,1322.2 500.0,1321.9 501.0,1321.9 501.0,1322.9 502.0,1322.9 502.0,1320.1 503.0,1320.1 503.0,1319.0 504.0,1319.0 504.0,1320.0 505.0,1320.0 505.0,1321.3 506.0,1321.3 506.0,1313.3 507.0,1313.3 507.0,1324.1 508.0,1324.1 508.0,1324.9 509.0,1324.9 509.0,1323.6 510.0,1323.6 510.0,1323.5 511.0,1323.5 511.0,1321.5 512.0,1321.5 512.0,1318.8 513.0,1318.8 513.0,1322.0 514.0,1322.0 514.0,1318.6 515.0,1318.6 515.0,1321.5 516.0,1321.5 516.0,1319.7 517.0,1319.7 517.0,1319.2 518.0,1319.2 518.0,1320.6 519.0,1320.6 519.0,1319.7 520.0,1319.7 520.0,1321.7 521.0,1321.7 521.0,1321.9 522.0,1321.9 522.0,1325.5 523.0,1325.5 523.0,1319.2 524.0,1319.2 524.0,1322.4 525.0,1322.4 525.0,1321.7 526.0,1321.7 526.0,1321.5 527.0,1321.5 527.0,1322.9 528.0,1322.9 528.0,1320.7 529.0,1320.7 529.0,1318.2 530.0,1318.2 530.0,1314.7 531.0,1314.7 531.0,1319.6 532.0,1319.6 532.0,1324.2 533.0,1324.2 533.0,1320.9 534.0,1320.9 534.0,1320.1 535.0,1320.1 535.0,1322.4 536.0,1322.4 536.0,1321.8 537.0,1321.8 537.0,1316.9 538.0,1316.9 538.0,1318.6 539.0,1318.6 539.0,1313.7 540.0,1313.7 540.0,1322.8 541.0,1322.8 541.0,1322.5 542.0,1322.5 542.0,1324.6 543.0,1324.6 543.0,1316.2 544.0,1316.2 544.0,1321.5 545.0,1321.5 545.0,1319.0 546.0,1319.0 546.0,1318.7 547.0,1318.7 547.0,1321.6 548.0,1321.6 548.0,1321.9 549.0,1321.9 549.0,1317.8 550.0,1317.8 550.0,1322.0 551.0,1322.0 551.0,1322.1 552.0,1322.1 552.0,1323.2 553.0,1323.2 553.0,1323.5 554.0,1323.5 554.0,1322.0 555.0,1322.0 555.0,1321.2 556.0,1321.2 556.0,1320.2 557.0,1320.2 557.0,1323.4 558.0,1323.4 558.0,1322.7 559.0,1322.7 559.0,1323.6 560.0,1323.6 560.0,1322.4 561.0,1322.4 561.0,1321.0 562.0,1321.0 562.0,1317.1 563.0,1317.1 563.0,1321.4 564.0,1321.4 564.0,1323.8 565.0,1323.8 565.0,1317.5 566.0,1317.5 566.0,1317.3 567.0,1317.3 567.0,1323.8 568.0,1323.8 568.0,1321.6 569.0,1321.6 569.0,1319.4 570.0,1319.4 570.0,1319.4 571.0,1319.4 571.0,1319.5 572.0,1319.5 572.0,1321.9 573.0,1321.9 573.0,1319.3 574.0,1319.3 574.0,1319.8 575.0,1319.8 575.0,1321.5 576.0,1321.5 576.0,1318.5 577.0,1318.5 577.0,1325.1 578.0,1325.1 578.0,1323.6 579.0,1323.6 579.0,1314.4 580.0,1314.4 580.0,1322.4 581.0,1322.4 581.0,1322.3 582.0,1322.3 582.0,1314.1 583.0,1314.1 583.0,1322.8 584.0,1322.8 584.0,1311.9 585.0,1311.9 585.0,1321.0 586.0,1321.0 586.0,1322.4 587.0,1322.4 587.0,1315.5 588.0,1315.5 588.0,1322.1 589.0,1322.1 589.0,1319.5 590.0,1319.5 590.0,1310.9 591.0,1310.9 591.0,1323.7 592.0,1323.7 592.0,1322.1 593.0,1322.1 593.0,1323.2 594.0,1323.2 594.0,1323.4 595.0,1323.4 595.0,1323.1 596.0,1323.1 596.0,1323.3 597.0,1323.3 597.0,1321.0 598.0,1321.0 598.0,1322.6 599.0,1322.6 599.0,1321.5 600.0,1321.5 600.0,1314.8 601.0,1314.8 601.0,1319.8 602.0,1319.8 602.0,1315.6 603.0,1315.6 603.0,1320.1 604.0,1320.1 604.0,1319.0 605.0,1319.0 605.0,1319.3 606.0,1319.3 606.0,1321.2 607.0,1321.2 607.0,1323.9 608.0,1323.9 608.0,1322.1 609.0,1322.1 609.0,1324.4 610.0,1324.4 610.0,1320.7 611.0,1320.7 611.0,1319.7 612.0,1319.7 612.0,1319.3 613.0,1319.3 613.0,1312.0 614.0,1312.0 614.0,1317.3 615.0,1317.3 615.0,1324.5 616.0,1324.5 616.0,1315.1 617.0,1315.1 617.0,1323.0 618.0,1323.0 618.0,1321.6 619.0,1321.6 619.0,1322.3 620.0,1322.3 620.0,1317.9 621.0,1317.9 621.0,1314.7 622.0,1314.7 622.0,1312.7 623.0,1312.7 623.0,1309.4 624.0,1309.4 624.0,1315.9 625.0,1315.9 625.0,1325.4 626.0,1325.4 626.0,1321.2 627.0,1321.2 627.0,1324.0 628.0,1324.0 628.0,1320.3 629.0,1320.3 629.0,1320.6 630.0,1320.6 630.0,1320.2 631.0,1320.2 631.0,1322.5 632.0,1322.5 632.0,1312.3 633.0,1312.3 633.0,1322.5 634.0,1322.5 634.0,1320.7 635.0,1320.7 635.0,1318.7 636.0,1318.7 636.0,1320.9 637.0,1320.9 637.0,1322.3 638.0,1322.3 638.0,1321.4 639.0,1321.4 639.0,1320.7 640.0,1320.7 640.0,1321.1 641.0,1321.1 641.0,1321.3 642.0,1321.3 642.0,1322.2 643.0,1322.2 643.0,1322.2 644.0,1322.2 644.0,1324.7 645.0,1324.7 645.0,1319.8 646.0,1319.8 646.0,1322.4 647.0,1322.4 647.0,1325.3 648.0,1325.3 648.0,1321.6 649.0,1321.6 649.0,1322.6 650.0,1322.6 650.0,1321.4 651.0,1321.4 651.0,1320.5 652.0,1320.5 652.0,1322.0 653.0,1322.0 653.0,1321.9 654.0,1321.9 654.0,1322.2 655.0,1322.2 655.0,1321.7 656.0,1321.7 656.0,1319.7 657.0,1319.7 657.0,1320.3 658.0,1320.3 658.0,1322.7 659.0,1322.7 659.0,1321.7 660.0,1321.7 660.0,1321.8 661.0,1321.8 661.0,1323.6 662.0,1323.6 662.0,1320.7 663.0,1320.7 663.0,1323.2 664.0,1323.2 664.0,1313.9 665.0,1313.9 665.0,1315.1 666.0,1315.1 666.0,1319.2 667.0,1319.2 667.0,1314.7 668.0,1314.7 668.0,1321.3 669.0,1321.3 669.0,1315.9 670.0,1315.9 670.0,1324.1 671.0,1324.1 671.0,1325.6 672.0,1325.6 672.0,1316.9 673.0,1316.9 673.0,1322.9 674.0,1322.9 674.0,1326.1 675.0,1326.1 675.0,1316.7 676.0,1316.7 676.0,1323.6 677.0,1323.6 677.0,1311.2 678.0,1311.2 678.0,1322.0 679.0,1322.0 679.0,1321.4 680.0,1321.4 680.0,1320.3 681.0,1320.3 681.0,1321.5 682.0,1321.5 682.0,1313.7 683.0,1313.7 683.0,1324.1 684.0,1324.1 684.0,1320.7 685.0,1320.7 685.0,1322.3 686.0,1322.3 686.0,1318.5 687.0,1318.5 687.0,1321.5 688.0,1321.5 688.0,1321.1 689.0,1321.1 689.0,1322.0 690.0,1322.0 690.0,1321.9 691.0,1321.9 691.0,1321.8 692.0,1321.8 692.0,1323.5 693.0,1323.5 693.0,1322.9 694.0,1322.9 694.0,1324.3 695.0,1324.3 695.0,1323.2 696.0,1323.2 696.0,1320.4 697.0,1320.4 697.0,1313.9 698.0,1313.9 698.0,1321.6 699.0,1321.6 699.0,1322.0 700.0,1322.0 700.0,1322.5 701.0,1322.5 701.0,1322.1 702.0,1322.1 702.0,1323.1 703.0,1323.1 703.0,1321.8 704.0,1321.8 704.0,1321.6 705.0,1321.6 705.0,1323.1 706.0,1323.1 706.0,1314.9 707.0,1314.9 707.0,1322.8 708.0,1322.8 708.0,1322.7 709.0,1322.7 709.0,1321.9 710.0,1321.9 710.0,1323.6 711.0,1323.6 711.0,1321.6 712.0,1321.6 712.0,1321.3 713.0,1321.3 713.0,1323.4 714.0,1323.4 714.0,1323.5 715.0,1323.5 715.0,1322.6 716.0,1322.6 716.0,1314.9 717.0,1314.9 717.0,1320.0 718.0,1320.0 718.0,1320.9 719.0,1320.9 719.0,1323.6 720.0,1323.6 720.0,1323.1 721.0,1323.1 721.0,1318.5 722.0,1318.5 722.0,1324.2 723.0,1324.2 723.0,1321.4 724.0,1321.4 724.0,1321.2 725.0,1321.2 725.0,1322.3 726.0,1322.3 726.0,1321.9 727.0,1321.9 727.0,1321.6 728.0,1321.6 728.0,1321.6 729.0,1321.6 729.0,1323.2 730.0,1323.2 730.0,1321.7 731.0,1321.7 731.0,1323.2 732.0,1323.2 732.0,1322.8 733.0,1322.8 733.0,1322.7 734.0,1322.7 734.0,1321.3 735.0,1321.3 735.0,1321.3 736.0,1321.3 736.0,1323.0 737.0,1323.0 737.0,1320.6 738.0,1320.6 738.0,1323.6 739.0,1323.6 739.0,1311.6 740.0,1311.6 740.0,1322.9 741.0,1322.9 741.0,1321.1 742.0,1321.1 742.0,1322.7 743.0,1322.7 743.0,1323.9 744.0,1323.9 744.0,1324.3 745.0,1324.3 745.0,1317.2 746.0,1317.2 746.0,1322.8 747.0,1322.8 747.0,1323.3 748.0,1323.3 748.0,1324.7 749.0,1324.7 749.0,1323.3 750.0,1323.3 750.0,1320.2 751.0,1320.2 751.0,1322.2 752.0,1322.2 752.0,1323.1 753.0,1323.1 753.0,1320.4 754.0,1320.4 754.0,1322.3 755.0,1322.3 755.0,1320.1 756.0,1320.1 756.0,1311.3 757.0,1311.3 757.0,1320.9 758.0,1320.9 758.0,1323.6 759.0,1323.6 759.0,1322.8 760.0,1322.8 760.0,1322.7 761.0,1322.7 761.0,1322.4 762.0,1322.4 762.0,1323.3 763.0,1323.3 763.0,1322.8 764.0,1322.8 764.0,1322.0 765.0,1322.0 765.0,1322.2 766.0,1322.2 766.0,1321.7 767.0,1321.7 767.0,1321.0 768.0,1321.0 768.0,1321.3 769.0,1321.3 769.0,1321.6 770.0,1321.6 770.0,1319.0 771.0,1319.0 771.0,1322.2 772.0,1322.2 772.0,1322.3 773.0,1322.3 773.0,1322.9 774.0,1322.9 774.0,1316.9 775.0,1316.9 775.0,1322.3 776.0,1322.3 776.0,1317.8 777.0,1317.8 777.0,1320.3 778.0,1320.3 778.0,1319.3 779.0,1319.3 779.0,1323.1 780.0,1323.1 780.0,1324.9 781.0,1324.9 781.0,1323.6 782.0,1323.6 782.0,1322.7 783.0,1322.7 783.0,1325.2 784.0,1325.2 784.0,1321.6 785.0,1321.6 785.0,1324.2 786.0,1324.2 786.0,1321.8 787.0,1321.8 787.0,1324.1 788.0,1324.1 788.0,1320.7 789.0,1320.7 789.0,1322.9 790.0,1322.9 790.0,1320.3 791.0,1320.3 791.0,1320.5 792.0,1320.5 792.0,1323.8 793.0,1323.8 793.0,1320.9 794.0,1320.9 794.0,1321.7 795.0,1321.7 795.0,1315.6 796.0,1315.6 796.0,1321.5 797.0,1321.5 797.0,1323.0 798.0,1323.0 798.0,1321.9 799.0,1321.9 799.0,1321.9 800.0,1321.9 800.0,1323.1 801.0,1323.1 801.0,1323.2 802.0,1323.2 802.0,1321.0 803.0,1321.0 803.0,1323.2 804.0,1323.2 804.0,1318.8 805.0,1318.8 805.0,1320.6 806.0,1320.6 806.0,1322.0 807.0,1322.0 807.0,1319.7 808.0,1319.7 808.0,1317.3 809.0,1317.3 809.0,1324.7 810.0,1324.7 810.0,1323.9 811.0,1323.9 811.0,1323.6 812.0,1323.6 812.0,1324.3 813.0,1324.3 813.0,1321.3 814.0,1321.3 814.0,1322.2 815.0,1322.2 815.0,1321.4 816.0,1321.4 816.0,1322.7 817.0,1322.7 817.0,1325.2 818.0,1325.2 818.0,1324.8 819.0,1324.8 819.0,1322.2 820.0,1322.2 820.0,1321.3 821.0,1321.3 821.0,1322.2 822.0,1322.2 822.0,1320.0 823.0,1320.0 823.0,1325.0 824.0,1325.0 824.0,1326.7 825.0,1326.7 825.0,1320.5 826.0,1320.5 826.0,1312.8 827.0,1312.8 827.0,1320.2 828.0,1320.2 828.0,1318.8 829.0,1318.8 829.0,1320.5 830.0,1320.5 830.0,1322.8 831.0,1322.8 831.0,1322.8 832.0,1322.8 832.0,1324.2 833.0,1324.2 833.0,1322.7 834.0,1322.7 834.0,1321.5 835.0,1321.5 835.0,1321.9 836.0,1321.9 836.0,1320.6 837.0,1320.6 837.0,1314.1 838.0,1314.1 838.0,1319.3 839.0,1319.3 839.0,1323.1 840.0,1323.1 840.0,1322.0 841.0,1322.0 841.0,1319.4 842.0,1319.4 842.0,1319.3 843.0,1319.3 843.0,1320.5 844.0,1320.5 844.0,1319.3 845.0,1319.3 845.0,1322.6 846.0,1322.6 846.0,1316.8 847.0,1316.8 847.0,1323.1 848.0,1323.1 848.0,1322.0 849.0,1322.0 849.0,1324.4 850.0,1324.4 850.0,1324.0 851.0,1324.0 851.0,1313.5 852.0,1313.5 852.0,1324.8 853.0,1324.8 853.0,1318.4 854.0,1318.4 854.0,1321.0 855.0,1321.0 855.0,1318.2 856.0,1318.2 856.0,1323.0 857.0,1323.0 857.0,1318.4 858.0,1318.4 858.0,1322.4 859.0,1322.4 859.0,1322.6 860.0,1322.6 860.0,1320.4 861.0,1320.4 861.0,1324.7 862.0,1324.7 862.0,1323.0 863.0,1323.0 863.0,1324.3 864.0,1324.3 864.0,1320.5 865.0,1320.5 865.0,1322.5 866.0,1322.5 866.0,1326.6 867.0,1326.6 867.0,1321.8 868.0,1321.8 868.0,1322.1 869.0,1322.1 869.0,1324.0 870.0,1324.0 870.0,1320.6 871.0,1320.6 871.0,1319.6 872.0,1319.6 872.0,1323.9 873.0,1323.9 873.0,1321.7 874.0,1321.7 874.0,1321.7 875.0,1321.7 875.0,1321.0 876.0,1321.0 876.0,1323.0 877.0,1323.0 877.0,1323.7 878.0,1323.7 878.0,1325.7 879.0,1325.7 879.0,1320.8 880.0,1320.8 880.0,1321.2 881.0,1321.2 881.0,1323.2 882.0,1323.2 882.0,1323.9 883.0,1323.9 883.0,1321.4 884.0,1321.4 884.0,1315.7 885.0,1315.7 885.0,1320.8 886.0,1320.8 886.0,1323.6 887.0,1323.6 887.0,1320.2 888.0,1320.2 888.0,1320.7 889.0,1320.7 889.0,1321.0 890.0,1321.0 890.0,1322.7 891.0,1322.7 891.0,1323.9 892.0,1323.9 892.0,1325.4 893.0,1325.4 893.0,1322.7 894.0,1322.7 894.0,1324.3 895.0,1324.3 895.0,1322.5 896.0,1322.5 896.0,1322.5 897.0,1322.5 897.0,1322.6 898.0,1322.6 898.0,1321.2 899.0,1321.2 899.0,1324.5 900.0,1324.5 900.0,1317.3 901.0,1317.3 901.0,1323.2 902.0,1323.2 902.0,1320.1 903.0,1320.1 903.0,1325.4 904.0,1325.4 904.0,1323.8 905.0,1323.8 905.0,1317.2 906.0,1317.2 906.0,1318.1 907.0,1318.1 907.0,1324.3 908.0,1324.3 908.0,1320.1 909.0,1320.1 909.0,1323.5 910.0,1323.5 910.0,1320.8 911.0,1320.8 911.0,1325.4 912.0,1325.4 912.0,1322.4 913.0,1322.4 913.0,1321.3 914.0,1321.3 914.0,1319.0 915.0,1319.0 915.0,1316.0 916.0,1316.0 916.0,1323.6 917.0,1323.6 917.0,1314.5 918.0,1314.5 918.0,1312.3 919.0,1312.3 919.0,1325.7 920.0,1325.7 920.0,1321.4 921.0,1321.4 921.0,1315.3 922.0,1315.3 922.0,1320.1 923.0,1320.1 923.0,1322.6 924.0,1322.6 924.0,1322.1 925.0,1322.1 925.0,1315.1 926.0,1315.1 926.0,1322.1 927.0,1322.1 927.0,1317.2 928.0,1317.2 928.0,1320.4 929.0,1320.4 929.0,1318.7 930.0,1318.7 930.0,1312.3 931.0,1312.3 931.0,1323.3 932.0,1323.3 932.0,1321.3 933.0,1321.3 933.0,1322.4 934.0,1322.4 934.0,1321.3 935.0,1321.3 935.0,1322.5 936.0,1322.5 936.0,1324.1 937.0,1324.1 937.0,1325.3 938.0,1325.3 938.0,1324.2 939.0,1324.2 939.0,1319.0 940.0,1319.0 940.0,1324.0 941.0,1324.0 941.0,1323.5 942.0,1323.5 942.0,1324.5 943.0,1324.5 943.0,1324.4 944.0,1324.4 944.0,1320.8 945.0,1320.8 945.0,1318.3 946.0,1318.3 946.0,1324.1 947.0,1324.1 947.0,1322.2 948.0,1322.2 948.0,1322.4 949.0,1322.4 949.0,1318.1 950.0,1318.1 950.0,1325.3 951.0,1325.3 951.0,1323.2 952.0,1323.2 952.0,1323.2 953.0,1323.2 953.0,1321.7 954.0,1321.7 954.0,1320.9 955.0,1320.9 955.0,1321.3 956.0,1321.3 956.0,1320.6 957.0,1320.6 957.0,1317.3 958.0,1317.3 958.0,1320.5 959.0,1320.5 959.0,1314.4 960.0,1314.4 960.0,1321.3 961.0,1321.3 961.0,1322.3 962.0,1322.3 962.0,1322.0 963.0,1322.0 963.0,1317.6 964.0,1317.6 964.0,1322.7 965.0,1322.7 965.0,1322.4 966.0,1322.4 966.0,1318.5 967.0,1318.5 967.0,1321.9 968.0,1321.9 968.0,1319.6 969.0,1319.6 969.0,1322.7 970.0,1322.7 970.0,1318.1 971.0,1318.1 971.0,1324.3 972.0,1324.3 972.0,1313.1 973.0,1313.1 973.0,1321.0 974.0,1321.0 974.0,1318.6 975.0,1318.6 975.0,1319.3 976.0,1319.3 976.0,1321.6 977.0,1321.6 977.0,1321.7 978.0,1321.7 978.0,1314.1 979.0,1314.1 979.0,1324.6 980.0,1324.6 980.0,1323.5 981.0,1323.5 981.0,1322.2 982.0,1322.2 982.0,1319.9 983.0,1319.9 983.0,1319.8 984.0,1319.8 984.0,1320.9 985.0,1320.9 985.0,1323.4 986.0,1323.4 986.0,1323.8 987.0,1323.8 987.0,1321.3 988.0,1321.3 988.0,1324.1 989.0,1324.1 989.0,1319.3 990.0,1319.3 990.0,1321.1 991.0,1321.1 991.0,1317.6 992.0,1317.6 992.0,1318.1 993.0,1318.1 993.0,1320.9 994.0,1320.9 994.0,1324.0 995.0,1324.0 995.0,1320.5 996.0,1320.5 996.0,1320.3 997.0,1320.3 997.0,1318.2 998.0,1318.2 998.0,1323.8 999.0,1323.8 999.0,1322.2 1000.0,1322.2 1000.0,1318.5 1001.0,1318.5 1001.0,1320.6 1002.0,1320.6 1002.0,1320.8 1003.0,1320.8 1003.0,1322.0 1004.0,1322.0 1004.0,1322.5 1005.0,1322.5 1005.0,1321.4 1006.0,1321.4 1006.0,1320.7 1007.0,1320.7 1007.0,1312.5 1008.0,1312.5 1008.0,1320.5 1009.0,1320.5 1009.0,1318.9 1010.0,1318.9 1010.0,1323.0 1011.0,1323.0 1011.0,1326.1 1012.0,1326.1 1012.0,1323.4 1013.0,1323.4 1013.0,1319.8 1014.0,1319.8 1014.0,1323.0 1015.0,1323.0 1015.0,1317.7 1016.0,1317.7 1016.0,1320.0 1017.0,1320.0 1017.0,1321.4 1018.0,1321.4 1018.0,1322.6 1019.0,1322.6 1019.0,1321.6 1020.0,1321.6 1020.0,1315.6 1021.0,1315.6 1021.0,1319.5 1022.0,1319.5 1022.0,1320.6 1023.0,1320.6 1023.0,1321.7 1024.0,1321.7 1024.0,1322.0 1025.0,1322.0 1025.0,1310.9 1026.0,1310.9 1026.0,1322.3 1027.0,1322.3 1027.0,1321.6 1028.0,1321.6 1028.0,1320.9 1029.0,1320.9 1029.0,1319.1 1030.0,1319.1 1030.0,1317.0 1031.0,1317.0 1031.0,1323.3 1032.0,1323.3 1032.0,1320.2 1033.0,1320.2 1033.0,1314.7 1034.0,1314.7 1034.0,1321.7 1035.0,1321.7 1035.0,1317.4 1036.0,1317.4 1036.0,1320.6 1037.0,1320.6 1037.0,1319.9 1038.0,1319.9 1038.0,1324.3 1039.0,1324.3 1039.0,1320.1 1040.0,1320.1 1040.0,1310.0 1041.0,1310.0 1041.0,1316.4 1042.0,1316.4 1042.0,1321.5 1043.0,1321.5 1043.0,1323.5 1044.0,1323.5 1044.0,1324.0 1045.0,1324.0 1045.0,1321.1 1046.0,1321.1 1046.0,1317.6 1047.0,1317.6 1047.0,1322.0 1048.0,1322.0 1048.0,1322.8 1049.0,1322.8 1049.0,1320.8 1050.0,1320.8 1050.0,1320.6 1051.0,1320.6 1051.0,1320.8 1052.0,1320.8 1052.0,1323.1 1053.0,1323.1 1053.0,1318.7 1054.0,1318.7 1054.0,1322.8 1055.0,1322.8 1055.0,1320.7 1056.0,1320.7 1056.0,1318.7 1057.0,1318.7 1057.0,1322.9 1058.0,1322.9 1058.0,1320.9 1059.0,1320.9 1059.0,1318.5 1060.0,1318.5 1060.0,1316.1 1061.0,1316.1 1061.0,1321.2 1062.0,1321.2 1062.0,1315.0 1063.0,1315.0 1063.0,1319.2 1064.0,1319.2 1064.0,1320.4 1065.0,1320.4 1065.0,1318.5 1066.0,1318.5 1066.0,1318.8 1067.0,1318.8 1067.0,1322.2 1068.0,1322.2 1068.0,1319.3 1069.0,1319.3 1069.0,1321.9 1070.0,1321.9 1070.0,1321.6 1071.0,1321.6 1071.0,1320.5 1072.0,1320.5 1072.0,1320.4 1073.0,1320.4 1073.0,1322.5 1074.0,1322.5 1074.0,1321.3 1075.0,1321.3 1075.0,1311.2 1076.0,1311.2 1076.0,1317.8 1077.0,1317.8 1077.0,1319.5 1078.0,1319.5 1078.0,1314.8 1079.0,1314.8 1079.0,1321.6 1080.0,1321.6 1080.0,1318.1 1081.0,1318.1 1081.0,1320.9 1082.0,1320.9 1082.0,1322.6 1083.0,1322.6 1083.0,1313.8 1084.0,1313.8 1084.0,1318.3 1085.0,1318.3 1085.0,1320.1 1086.0,1320.1 1086.0,1319.6 1087.0,1319.6 1087.0,1320.0 1088.0,1320.0 1088.0,1321.1 1089.0,1321.1 1089.0,1323.9 1090.0,1323.9 1090.0,1319.3 1091.0,1319.3 1091.0,1320.6 1092.0,1320.6 1092.0,1314.6 1093.0,1314.6 1093.0,1321.6 1094.0,1321.6 1094.0,1319.4 1095.0,1319.4 1095.0,1320.3 1096.0,1320.3 1096.0,1319.4 1097.0,1319.4 1097.0,1314.9 1098.0,1314.9 1098.0,1322.3 1099.0,1322.3 1099.0,1315.2 1100.0,1315.2 1100.0,1316.2 1101.0,1316.2 1101.0,1317.3 1102.0,1317.3 1102.0,1320.5 1103.0,1320.5 1103.0,1319.2 1104.0,1319.2 1104.0,1314.4 1105.0,1314.4 1105.0,1321.4 1106.0,1321.4 1106.0,1317.0 1107.0,1317.0 1107.0,1316.4 1108.0,1316.4 1108.0,1318.1 1109.0,1318.1 1109.0,1317.2 1110.0,1317.2 1110.0,1311.8 1111.0,1311.8 1111.0,1320.7 1112.0,1320.7 1112.0,1320.4 1113.0,1320.4 1113.0,1318.2 1114.0,1318.2 1114.0,1318.9 1115.0,1318.9 1115.0,1318.9 1116.0,1318.9 1116.0,1315.8 1117.0,1315.8 1117.0,1314.4 1118.0,1314.4 1118.0,1315.5 1119.0,1315.5 1119.0,1320.2 1120.0,1320.2 1120.0,1309.7 1121.0,1309.7 1121.0,1320.8 1122.0,1320.8 1122.0,1315.5 1123.0,1315.5 1123.0,1319.3 1124.0,1319.3 1124.0,1318.4 1125.0,1318.4 1125.0,1319.3 1126.0,1319.3 1126.0,1311.7 1127.0,1311.7 1127.0,1318.8 1128.0,1318.8 1128.0,1317.6 1129.0,1317.6 1129.0,1318.4 1130.0,1318.4 1130.0,1315.5 1131.0,1315.5 1131.0,1315.1 1132.0,1315.1 1132.0,1318.0 1133.0,1318.0 1133.0,1317.4 1134.0,1317.4 1134.0,1317.4 1135.0,1317.4 1135.0,1316.8 1136.0,1316.8 1136.0,1316.3 1137.0,1316.3 1137.0,1314.7 1138.0,1314.7 1138.0,1318.0 1139.0,1318.0 1139.0,1317.8 1140.0,1317.8 1140.0,1317.3 1141.0,1317.3 1141.0,1315.6 1142.0,1315.6 1142.0,1317.0 1143.0,1317.0 1143.0,1319.3 1144.0,1319.3 1144.0,1317.8 1145.0,1317.8 1145.0,1318.8 1146.0,1318.8 1146.0,1313.7 1147.0,1313.7 1147.0,1313.8 1148.0,1313.8 1148.0,1313.3 1149.0,1313.3 1149.0,1316.1 1150.0,1316.1 1150.0,1310.8 1151.0,1310.8 1151.0,1316.8 1152.0,1316.8 1152.0,1314.5 1153.0,1314.5 1153.0,1315.6 1154.0,1315.6 1154.0,1315.6 1155.0,1315.6 1155.0,1315.6 1156.0,1315.6 1156.0,1314.6 1157.0,1314.6 1157.0,1317.0 1158.0,1317.0 1158.0,1315.5 1159.0,1315.5 1159.0,1313.8 1160.0,1313.8 1160.0,1313.9 1161.0,1313.9 1161.0,1315.0 1162.0,1315.0 1162.0,1318.3 1163.0,1318.3 1163.0,1311.0 1164.0,1311.0 1164.0,1315.6 1165.0,1315.6 1165.0,1313.8 1166.0,1313.8 1166.0,1316.5 1167.0,1316.5 1167.0,1314.0 1168.0,1314.0 1168.0,1308.0 1169.0,1308.0 1169.0,1317.8 1170.0,1317.8 1170.0,1315.8 1171.0,1315.8 1171.0,1313.4 1172.0,1313.4 1172.0,1312.0 1173.0,1312.0 1173.0,1314.5 1174.0,1314.5 1174.0,1308.8 1175.0,1308.8 1175.0,1315.4 1176.0,1315.4 1176.0,1314.6 1177.0,1314.6 1177.0,1312.5 1178.0,1312.5 1178.0,1315.2 1179.0,1315.2 1179.0,1312.2 1180.0,1312.2 1180.0,1314.6 1181.0,1314.6 1181.0,1314.1 1182.0,1314.1 1182.0,1312.5 1183.0,1312.5 1183.0,1314.7 1184.0,1314.7 1184.0,1314.3 1185.0,1314.3 1185.0,1313.6 1186.0,1313.6 1186.0,1316.3 1187.0,1316.3 1187.0,1308.4 1188.0,1308.4 1188.0,1314.5 1189.0,1314.5 1189.0,1313.8 1190.0,1313.8 1190.0,1310.8 1191.0,1310.8 1191.0,1313.2 1192.0,1313.2 1192.0,1314.0 1193.0,1314.0 1193.0,1308.2 1194.0,1308.2 1194.0,1310.5 1195.0,1310.5 1195.0,1313.0 1196.0,1313.0 1196.0,1313.5 1197.0,1313.5 1197.0,1312.2 1198.0,1312.2 1198.0,1314.3 1199.0,1314.3 1199.0,1313.4 1200.0,1313.4 1200.0,1300.8 1201.0,1300.8 1201.0,1314.1 1202.0,1314.1 1202.0,1313.6 1203.0,1313.6 1203.0,1314.6 1204.0,1314.6 1204.0,1315.3 1205.0,1315.3 1205.0,1312.3 1206.0,1312.3 1206.0,1312.5 1207.0,1312.5 1207.0,1313.0 1208.0,1313.0 1208.0,1315.9 1209.0,1315.9 1209.0,1312.7 1210.0,1312.7 1210.0,1308.5 1211.0,1308.5 1211.0,1312.7 1212.0,1312.7 1212.0,1313.0 1213.0,1313.0 1213.0,1312.4 1214.0,1312.4 1214.0,1313.2 1215.0,1313.2 1215.0,1313.0 1216.0,1313.0 1216.0,1311.9 1217.0,1311.9 1217.0,1314.1 1218.0,1314.1 1218.0,1310.6 1219.0,1310.6 1219.0,1310.9 1220.0,1310.9 1220.0,1305.7 1221.0,1305.7 1221.0,1312.5 1222.0,1312.5 1222.0,1307.2 1223.0,1307.2 1223.0,1313.1 1224.0,1313.1 1224.0,1309.3 1225.0,1309.3 1225.0,1311.0 1226.0,1311.0 1226.0,1310.3 1227.0,1310.3 1227.0,1306.3 1228.0,1306.3 1228.0,1313.3 1229.0,1313.3 1229.0,1309.5 1230.0,1309.5 1230.0,1312.5 1231.0,1312.5 1231.0,1310.9 1232.0,1310.9 1232.0,1312.5 1233.0,1312.5 1233.0,1313.9 1234.0,1313.9 1234.0,1311.4 1235.0,1311.4 1235.0,1311.2 1236.0,1311.2 1236.0,1309.2 1237.0,1309.2 1237.0,1308.5 1238.0,1308.5 1238.0,1311.3 1239.0,1311.3 1239.0,1312.5 1240.0,1312.5 1240.0,1308.2 1241.0,1308.2 1241.0,1310.1 1242.0,1310.1 1242.0,1311.4 1243.0,1311.4 1243.0,1311.3 1244.0,1311.3 1244.0,1306.5 1245.0,1306.5 1245.0,1314.5 1246.0,1314.5 1246.0,1300.4 1247.0,1300.4 1247.0,1312.9 1248.0,1312.9 1248.0,1311.8 1249.0,1311.8 1249.0,1312.0 1250.0,1312.0 1250.0,1308.5 1251.0,1308.5 1251.0,1312.6 1252.0,1312.6 1252.0,1310.8 1253.0,1310.8 1253.0,1311.0 1254.0,1311.0 1254.0,1307.6 1255.0,1307.6 1255.0,1304.1 1256.0,1304.1 1256.0,1305.4 1257.0,1305.4 1257.0,1310.9 1258.0,1310.9 1258.0,1310.7 1259.0,1310.7 1259.0,1309.5 1260.0,1309.5 1260.0,1308.9 1261.0,1308.9 1261.0,1310.1 1262.0,1310.1 1262.0,1308.8 1263.0,1308.8 1263.0,1307.7 1264.0,1307.7 1264.0,1311.5 1265.0,1311.5 1265.0,1312.1 1266.0,1312.1 1266.0,1309.3 1267.0,1309.3 1267.0,1311.7 1268.0,1311.7 1268.0,1308.9 1269.0,1308.9 1269.0,1310.9 1270.0,1310.9 1270.0,1309.0 1271.0,1309.0 1271.0,1310.8 1272.0,1310.8 1272.0,1308.4 1273.0,1308.4 1273.0,1310.5 1274.0,1310.5 1274.0,1302.7 1275.0,1302.7 1275.0,1308.2 1276.0,1308.2 1276.0,1308.6 1277.0,1308.6 1277.0,1308.2 1278.0,1308.2 1278.0,1308.3 1279.0,1308.3 1279.0,1308.9 1280.0,1308.9 1280.0,1311.4 1281.0,1311.4 1281.0,1310.7 1282.0,1310.7 1282.0,1308.1 1283.0,1308.1 1283.0,1304.0 1284.0,1304.0 1284.0,1307.8 1285.0,1307.8 1285.0,1307.2 1286.0,1307.2 1286.0,1299.8 1287.0,1299.8 1287.0,1311.1 1288.0,1311.1 1288.0,1311.1 1289.0,1311.1 1289.0,1309.0 1290.0,1309.0 1290.0,1310.7 1291.0,1310.7 1291.0,1298.8 1292.0,1298.8 1292.0,1311.3 1293.0,1311.3 1293.0,1310.4 1294.0,1310.4 1294.0,1308.7 1295.0,1308.7 1295.0,1307.9 1296.0,1307.9 1296.0,1311.1 1297.0,1311.1 1297.0,1307.6 1298.0,1307.6 1298.0,1306.2 1299.0,1306.2 1299.0,1307.5 1300.0,1307.5 1300.0,1309.9 1301.0,1309.9 1301.0,1309.6 1302.0,1309.6 1302.0,1309.1 1303.0,1309.1 1303.0,1309.3 1304.0,1309.3 1304.0,1307.6 1305.0,1307.6 1305.0,1308.3 1306.0,1308.3 1306.0,1308.5 1307.0,1308.5 1307.0,1302.8 1308.0,1302.8 1308.0,1298.6 1309.0,1298.6 1309.0,1310.3 1310.0,1310.3 1310.0,1306.9 1311.0,1306.9 1311.0,1308.3 1312.0,1308.3 1312.0,1306.5 1313.0,1306.5 1313.0,1306.5 1314.0,1306.5 1314.0,1308.9 1315.0,1308.9 1315.0,1307.9 1316.0,1307.9 1316.0,1310.3 1317.0,1310.3 1317.0,1307.1 1318.0,1307.1 1318.0,1305.6 1319.0,1305.6 1319.0,1305.8 1320.0,1305.8 1320.0,1300.1 1321.0,1300.1 1321.0,1307.8 1322.0,1307.8 1322.0,1308.9 1323.0,1308.9 1323.0,1310.2 1324.0,1310.2 1324.0,1309.2 1325.0,1309.2 1325.0,1307.3 1326.0,1307.3 1326.0,1310.0 1327.0,1310.0 1327.0,1307.9 1328.0,1307.9 1328.0,1308.0 1329.0,1308.0 1329.0,1308.3 1330.0,1308.3 1330.0,1301.8 1331.0,1301.8 1331.0,1308.2 1332.0,1308.2 1332.0,1306.1 1333.0,1306.1 1333.0,1307.4 1334.0,1307.4 1334.0,1304.6 1335.0,1304.6 1335.0,1306.0 1336.0,1306.0 1336.0,1309.3 1337.0,1309.3 1337.0,1307.5 1338.0,1307.5 1338.0,1308.6 1339.0,1308.6 1339.0,1306.5 1340.0,1306.5 1340.0,1306.2 1341.0,1306.2 1341.0,1301.9 1342.0,1301.9 1342.0,1303.7 1343.0,1303.7 1343.0,1306.8 1344.0,1306.8 1344.0,1306.9 1345.0,1306.9 1345.0,1306.2 1346.0,1306.2 1346.0,1305.4 1347.0,1305.4 1347.0,1305.4 1348.0,1305.4 1348.0,1308.4 1349.0,1308.4 1349.0,1306.6 1350.0,1306.6 1350.0,1307.2 1351.0,1307.2 1351.0,1306.0 1352.0,1306.0 1352.0,1303.8 1353.0,1303.8 1353.0,1304.7 1354.0,1304.7 1354.0,1305.4 1355.0,1305.4 1355.0,1303.2 1356.0,1303.2 1356.0,1305.7 1357.0,1305.7 1357.0,1306.1 1358.0,1306.1 1358.0,1304.8 1359.0,1304.8 1359.0,1306.0 1360.0,1306.0 1360.0,1307.2 1361.0,1307.2 1361.0,1299.9 1362.0,1299.9 1362.0,1305.4 1363.0,1305.4 1363.0,1306.7 1364.0,1306.7 1364.0,1305.2 1365.0,1305.2 1365.0,1296.6 1366.0,1296.6 1366.0,1308.3 1367.0,1308.3 1367.0,1304.6 1368.0,1304.6 1368.0,1305.6 1369.0,1305.6 1369.0,1301.9 1370.0,1301.9 1370.0,1304.0 1371.0,1304.0 1371.0,1306.8 1372.0,1306.8 1372.0,1305.7 1373.0,1305.7 1373.0,1297.6 1374.0,1297.6 1374.0,1307.0 1375.0,1307.0 1375.0,1307.4 1376.0,1307.4 1376.0,1306.7 1377.0,1306.7 1377.0,1304.5 1378.0,1304.5 1378.0,1306.3 1379.0,1306.3 1379.0,1306.9 1380.0,1306.9 1380.0,1308.0 1381.0,1308.0 1381.0,1303.9 1382.0,1303.9 1382.0,1308.1 1383.0,1308.1 1383.0,1307.2 1384.0,1307.2 1384.0,1304.8 1385.0,1304.8 1385.0,1303.3 1386.0,1303.3 1386.0,1305.8 1387.0,1305.8 1387.0,1307.3 1388.0,1307.3 1388.0,1300.1 1389.0,1300.1 1389.0,1308.4 1390.0,1308.4 1390.0,1306.7 1391.0,1306.7 1391.0,1296.0 1392.0,1296.0 1392.0,1303.0 1393.0,1303.0 1393.0,1303.9 1394.0,1303.9 1394.0,1293.0 1395.0,1293.0 1395.0,1305.9 1396.0,1305.9 1396.0,1303.1 1397.0,1303.1 1397.0,1303.6 1398.0,1303.6 1398.0,1302.0 1399.0,1302.0 1399.0,1303.5 1400.0,1303.5 1400.0,1307.6 1401.0,1307.6 1401.0,1306.3 1402.0,1306.3 1402.0,1306.1 1403.0,1306.1 1403.0,1307.0 1404.0,1307.0 1404.0,1309.4 1405.0,1309.4 1405.0,1311.6 1406.0,1311.6 1406.0,1309.4 1407.0,1309.4 1407.0,1309.1 1408.0,1309.1 1408.0,1312.4 1409.0,1312.4 1409.0,1302.6 1410.0,1302.6 1410.0,1312.0 1411.0,1312.0 1411.0,1310.4 1412.0,1310.4 1412.0,1311.9 1413.0,1311.9 1413.0,1314.5 1414.0,1314.5 1414.0,1316.2 1415.0,1316.2 1415.0,1317.4 1416.0,1317.4 1416.0,1332.0" fill="#1a8241" />
<path d="M1395.5 1298V1332M1397.5 1315V1332M1404.5 1308V1332" stroke="#5a6aa0" stroke-width="1.02" fill="none" shape-rendering="crispEdges"/>
<path d="M1400.5 1292V1332M1402.5 1305V1332M1403.5 1291V1332M1407.5 1312V1332M1409.5 1316V1332M1410.5 1309V1332M1413.5 1293V1332M1415.5 1293V1332" stroke="#1a8241" stroke-width="1.02" fill="none" shape-rendering="crispEdges"/>
</g>
<line x1="192.3" y1="1062.7" x2="192.3" y2="1330.3999999999999" stroke="#000" stroke-width="1.6"/>
<line x1="185.5" y1="1063.5" x2="192.3" y2="1063.5" stroke="#000" stroke-width="1.6"/>
<text x="180.1" y="1073.4" font-size="25.5" text-anchor="end" font-weight="normal" >1.00</text>
<line x1="185.5" y1="1130.0" x2="192.3" y2="1130.0" stroke="#000" stroke-width="1.6"/>
<text x="180.1" y="1139.9" font-size="25.5" text-anchor="end" font-weight="normal" >0.75</text>
<line x1="185.5" y1="1196.6" x2="192.3" y2="1196.6" stroke="#000" stroke-width="1.6"/>
<text x="180.1" y="1206.5" font-size="25.5" text-anchor="end" font-weight="normal" >0.50</text>
<line x1="185.5" y1="1263.1" x2="192.3" y2="1263.1" stroke="#000" stroke-width="1.6"/>
<text x="180.1" y="1273.0" font-size="25.5" text-anchor="end" font-weight="normal" >0.25</text>
<line x1="185.5" y1="1329.6" x2="192.3" y2="1329.6" stroke="#000" stroke-width="1.6"/>
<text x="180.1" y="1339.5" font-size="25.5" text-anchor="end" font-weight="normal" >0.00</text>
<line x1="197.0" y1="1337.6" x2="1414" y2="1337.6" stroke="#000" stroke-width="1.6"/>
<line x1="197.8" y1="1337.6" x2="197.8" y2="1344.8999999999999" stroke="#000" stroke-width="1.6"/>
<text x="197.8" y="1371.2" font-size="25.5" text-anchor="middle" font-weight="normal" >0</text>
<line x1="444.6" y1="1337.6" x2="444.6" y2="1344.8999999999999" stroke="#000" stroke-width="1.6"/>
<text x="444.6" y="1371.2" font-size="25.5" text-anchor="middle" font-weight="normal" >500</text>
<line x1="690.4" y1="1337.6" x2="690.4" y2="1344.8999999999999" stroke="#000" stroke-width="1.6"/>
<text x="690.4" y="1371.2" font-size="25.5" text-anchor="middle" font-weight="normal" >1,000</text>
<line x1="937.3" y1="1337.6" x2="937.3" y2="1344.8999999999999" stroke="#000" stroke-width="1.6"/>
<text x="937.3" y="1371.2" font-size="25.5" text-anchor="middle" font-weight="normal" >1,500</text>
<line x1="1183.8" y1="1337.6" x2="1183.8" y2="1344.8999999999999" stroke="#000" stroke-width="1.6"/>
<text x="1183.8" y="1371.2" font-size="25.5" text-anchor="middle" font-weight="normal" >2,000</text>
<text x="806.3" y="1402.9" font-size="31" text-anchor="middle" font-weight="normal" >Number of participants</text>
<text transform="translate(85.3,1201.7) rotate(-90)" font-size="31" text-anchor="middle">Proportion of genetic</text>
<text transform="translate(111.6,1197.4) rotate(-90)" font-size="31" text-anchor="middle">ancestry</text>
<text x="-1.0" y="1058.2" font-size="46" text-anchor="start" font-weight="bold" >c</text>
<rect x="196.7" y="1423.5" width="616.5999999999999" height="83.0" fill="none" stroke="#000" stroke-width="1.5"/>
<rect x="262.7" y="1433.8" width="59" height="27.799999999999955" fill="#1f7332" stroke="#000" stroke-width="1.3"/>
<text x="292.2" y="1490.0" font-size="25.5" text-anchor="middle" font-weight="normal" >Central Asian</text>
<rect x="477.9" y="1433.8" width="59" height="27.799999999999955" fill="#2f2b7a" stroke="#000" stroke-width="1.3"/>
<text x="507.4" y="1490.0" font-size="25.5" text-anchor="middle" font-weight="normal" >North Indian</text>
<rect x="695.1" y="1433.8" width="59" height="27.799999999999955" fill="#ab2a92" stroke="#000" stroke-width="1.3"/>
<text x="724.6" y="1490.0" font-size="25.5" text-anchor="middle" font-weight="normal" >South Indian</text>
<g>
<rect x="193.0" y="1583.0" width="1219.6" height="269.0" fill="#e98f24" />
<path d="M196.5 1583V1584M199.5 1583V1584M205.5 1583V1584M207.5 1583V1584M214.5 1583V1584M236.5 1583V1584M250.5 1583V1584M260.5 1583V1584M270.5 1583V1584M274.5 1583V1584M283.5 1583V1584M288.5 1583V1584M292.5 1583V1584M298.5 1583V1585M301.5 1583V1584M303.5 1583V1584M313.5 1583V1585M315.5 1583V1584M316.5 1583V1585M322.5 1583V1585M324.5 1583V1584M325.5 1583V1584M335.5 1583V1585M341.5 1583V1584M343.5 1583V1585M349.5 1583V1584M354.5 1583V1585M364.5 1583V1585M366.5 1583V1586M370.5 1583V1584M371.5 1583V1585M375.5 1583V1586M381.5 1583V1584M383.5 1583V1584M395.5 1583V1584M397.5 1583V1586M398.5 1583V1586M405.5 1583V1585M408.5 1583V1586M410.5 1583V1586M411.5 1583V1586M413.5 1583V1585M417.5 1583V1586M418.5 1583V1585M419.5 1583V1585M427.5 1583V1586M434.5 1583V1587M437.5 1583V1587M438.5 1583V1587M443.5 1583V1587M445.5 1583V1586M446.5 1583V1585M447.5 1583V1586M449.5 1583V1585M451.5 1583V1588M452.5 1583V1585M454.5 1583V1587M455.5 1583V1587M467.5 1583V1587M468.5 1583V1588M469.5 1583V1588M471.5 1583V1587M472.5 1583V1587M473.5 1583V1588M477.5 1583V1586M478.5 1583V1588M480.5 1583V1586M484.5 1583V1586M488.5 1583V1587M490.5 1583V1588M491.5 1583V1587M496.5 1583V1587M497.5 1583V1587M498.5 1583V1587M500.5 1583V1587M504.5 1583V1589M510.5 1583V1589M518.5 1583V1588M520.5 1583V1587M521.5 1583V1588M524.5 1583V1587M526.5 1583V1588M527.5 1583V1589M533.5 1583V1589M534.5 1583V1589M543.5 1583V1591M544.5 1583V1590M545.5 1583V1590M549.5 1583V1590M550.5 1583V1588M551.5 1583V1590M557.5 1583V1591M559.5 1583V1589M561.5 1583V1591M563.5 1583V1590M570.5 1583V1590M577.5 1583V1589M579.5 1583V1591M583.5 1583V1591M586.5 1583V1589M587.5 1583V1590M588.5 1583V1591M591.5 1583V1590M597.5 1583V1592M599.5 1583V1591M604.5 1583V1592M605.5 1583V1591M606.5 1583V1592M609.5 1583V1590M611.5 1583V1592M614.5 1583V1592M616.5 1583V1591M621.5 1583V1593M625.5 1583V1593M630.5 1583V1591M637.5 1583V1593M638.5 1583V1591M641.5 1583V1593M645.5 1583V1594M647.5 1583V1592M651.5 1583V1593M653.5 1583V1594M656.5 1583V1594M660.5 1583V1593M662.5 1583V1594M663.5 1583V1593M664.5 1583V1592M667.5 1583V1593M679.5 1583V1594M686.5 1583V1594M690.5 1583V1594M691.5 1583V1593M693.5 1583V1594M695.5 1583V1594M697.5 1583V1595M702.5 1583V1595M703.5 1583V1595M705.5 1583V1594M706.5 1583V1595M707.5 1583V1594M708.5 1583V1595M709.5 1583V1594M711.5 1583V1595M712.5 1583V1596M714.5 1583V1594M723.5 1583V1596M727.5 1583V1596M728.5 1583V1596M729.5 1583V1597M731.5 1583V1596M736.5 1583V1597M739.5 1583V1596M740.5 1583V1596M749.5 1583V1597M750.5 1583V1597M751.5 1583V1597M759.5 1583V1598M761.5 1583V1597M767.5 1583V1596M768.5 1583V1597M771.5 1583V1597M772.5 1583V1597M776.5 1583V1597M780.5 1583V1597M781.5 1583V1598M784.5 1583V1597M785.5 1583V1597M786.5 1583V1599M787.5 1583V1599M789.5 1583V1599M790.5 1583V1597M793.5 1583V1598M794.5 1583V1599M796.5 1583V1598M798.5 1583V1597M802.5 1583V1599M805.5 1583V1597M810.5 1583V1598M813.5 1583V1599M815.5 1583V1599M819.5 1583V1601M820.5 1583V1599M822.5 1583V1599M824.5 1583V1598M825.5 1583V1598M826.5 1583V1599M831.5 1583V1600M834.5 1583V1599M838.5 1583V1600M841.5 1583V1601M846.5 1583V1601M847.5 1583V1601M852.5 1583V1601M853.5 1583V1602M855.5 1583V1602M859.5 1583V1600M860.5 1583V1601M862.5 1583V1602M864.5 1583V1602M867.5 1583V1601M871.5 1583V1601M873.5 1583V1602M875.5 1583V1603M877.5 1583V1602M878.5 1583V1602M879.5 1583V1602M885.5 1583V1604M887.5 1583V1601M897.5 1583V1605M898.5 1583V1603M902.5 1583V1604M903.5 1583V1604M904.5 1583V1604M906.5 1583V1605M907.5 1583V1604M909.5 1583V1602M910.5 1583V1604M913.5 1583V1603M914.5 1583V1604M917.5 1583V1605M919.5 1583V1604M923.5 1583V1605M926.5 1583V1604M928.5 1583V1604M930.5 1583V1606M932.5 1583V1606M936.5 1583V1604M937.5 1583V1604M939.5 1583V1605M941.5 1583V1605M942.5 1583V1605M947.5 1583V1606M948.5 1583V1607M949.5 1583V1607M952.5 1583V1607M954.5 1583V1605M955.5 1583V1606M956.5 1583V1605M959.5 1583V1607M969.5 1583V1607M970.5 1583V1608M975.5 1583V1609M979.5 1583V1609M982.5 1583V1608M984.5 1583V1608M985.5 1583V1608M986.5 1583V1607M993.5 1583V1608M994.5 1583V1610M995.5 1583V1609M997.5 1583V1608M999.5 1583V1608M1000.5 1583V1610M1001.5 1583V1609M1002.5 1583V1610M1006.5 1583V1610M1010.5 1583V1611M1011.5 1583V1610M1014.5 1583V1611M1015.5 1583V1611M1016.5 1583V1611M1017.5 1583V1610M1022.5 1583V1611M1024.5 1583V1610M1025.5 1583V1610M1027.5 1583V1611M1030.5 1583V1612M1032.5 1583V1611M1036.5 1583V1613M1038.5 1583V1612M1040.5 1583V1612M1043.5 1583V1613M1046.5 1583V1612M1047.5 1583V1613M1050.5 1583V1612M1051.5 1583V1613M1053.5 1583V1614M1055.5 1583V1613M1056.5 1583V1612M1057.5 1583V1613M1058.5 1583V1613M1064.5 1583V1613M1065.5 1583V1615M1069.5 1583V1613M1070.5 1583V1613M1071.5 1583V1614M1075.5 1583V1616M1077.5 1583V1616M1081.5 1583V1617M1087.5 1583V1615M1088.5 1583V1617M1089.5 1583V1615M1090.5 1583V1616M1092.5 1583V1615M1095.5 1583V1616M1097.5 1583V1616M1099.5 1583V1616M1103.5 1583V1618M1109.5 1583V1616M1112.5 1583V1619M1114.5 1583V1618M1116.5 1583V1617M1120.5 1583V1618M1121.5 1583V1619M1123.5 1583V1618M1124.5 1583V1617M1125.5 1583V1620M1132.5 1583V1618M1137.5 1583V1621M1139.5 1583V1620M1141.5 1583V1620M1144.5 1583V1619M1145.5 1583V1622M1147.5 1583V1621M1148.5 1583V1622M1150.5 1583V1621M1153.5 1583V1622M1158.5 1583V1622M1160.5 1583V1623M1163.5 1583V1623M1166.5 1583V1624M1170.5 1583V1622M1174.5 1583V1624M1177.5 1583V1625M1178.5 1583V1626M1179.5 1583V1624M1183.5 1583V1625M1186.5 1583V1624M1187.5 1583V1625M1188.5 1583V1624M1192.5 1583V1625M1197.5 1583V1628M1198.5 1583V1627M1199.5 1583V1626M1200.5 1583V1628M1202.5 1583V1627M1204.5 1583V1628M1206.5 1583V1630M1207.5 1583V1630M1215.5 1583V1630M1217.5 1583V1631M1219.5 1583V1630M1222.5 1583V1630M1223.5 1583V1631M1224.5 1583V1631M1225.5 1583V1631M1227.5 1583V1633M1229.5 1583V1631M1230.5 1583V1634M1231.5 1583V1632M1233.5 1583V1634M1235.5 1583V1635M1237.5 1583V1636M1240.5 1583V1637M1241.5 1583V1637M1244.5 1583V1636M1248.5 1583V1640M1252.5 1583V1641M1254.5 1583V1641M1257.5 1583V1643M1258.5 1583V1644M1260.5 1583V1646M1261.5 1583V1646M1262.5 1583V1645M1263.5 1583V1647M1267.5 1583V1648M1270.5 1583V1650M1272.5 1583V1650M1273.5 1583V1651M1276.5 1583V1652M1278.5 1583V1655M1279.5 1583V1656M1288.5 1583V1665M1289.5 1583V1665M1291.5 1583V1668M1292.5 1583V1670M1294.5 1583V1672M1295.5 1583V1674M1300.5 1583V1683M1304.5 1583V1688M1309.5 1583V1699M1312.5 1583V1718M1315.5 1583V1712M1316.5 1583V1710M1320.5 1583V1704M1322.5 1583V1698M1323.5 1583V1698M1325.5 1583V1694M1329.5 1583V1688M1330.5 1583V1689M1331.5 1583V1688M1332.5 1583V1685M1333.5 1583V1685M1334.5 1583V1685M1336.5 1583V1683M1337.5 1583V1679M1339.5 1583V1679M1342.5 1583V1674M1344.5 1583V1674M1345.5 1583V1671M1346.5 1583V1670M1347.5 1583V1670M1350.5 1583V1663M1358.5 1583V1650M1359.5 1583V1647M1360.5 1583V1645M1361.5 1583V1643M1363.5 1583V1637M1366.5 1583V1631M1367.5 1583V1626M1368.5 1583V1624M1370.5 1583V1619M1371.5 1583V1617M1372.5 1583V1616M1374.5 1583V1611M1375.5 1583V1609M1377.5 1583V1603M1380.5 1583V1596M1382.5 1583V1593M1383.5 1583V1589M1384.5 1583V1587" stroke="#f3921f" stroke-width="1.02" fill="none" shape-rendering="crispEdges"/>
<path d="M198.5 1583V1584M200.5 1583V1584M202.5 1583V1584M211.5 1583V1584M212.5 1583V1584M230.5 1583V1584M232.5 1583V1584M251.5 1583V1585M256.5 1583V1584M258.5 1583V1584M259.5 1583V1585M265.5 1583V1585M267.5 1583V1585M271.5 1583V1584M284.5 1583V1585M290.5 1583V1584M302.5 1583V1584M304.5 1583V1584M305.5 1583V1584M309.5 1583V1584M312.5 1583V1584M314.5 1583V1585M317.5 1583V1585M319.5 1583V1584M321.5 1583V1584M328.5 1583V1585M330.5 1583V1585M331.5 1583V1585M332.5 1583V1585M334.5 1583V1584M336.5 1583V1584M338.5 1583V1585M339.5 1583V1585M340.5 1583V1585M342.5 1583V1584M351.5 1583V1584M355.5 1583V1586M358.5 1583V1584M368.5 1583V1585M373.5 1583V1585M377.5 1583V1585M378.5 1583V1584M384.5 1583V1584M385.5 1583V1585M386.5 1583V1584M387.5 1583V1586M389.5 1583V1586M390.5 1583V1586M392.5 1583V1585M393.5 1583V1585M394.5 1583V1584M399.5 1583V1585M400.5 1583V1584M403.5 1583V1584M404.5 1583V1586M412.5 1583V1587M416.5 1583V1587M422.5 1583V1585M425.5 1583V1585M428.5 1583V1587M431.5 1583V1587M435.5 1583V1586M436.5 1583V1586M440.5 1583V1586M442.5 1583V1586M450.5 1583V1586M453.5 1583V1588M456.5 1583V1587M459.5 1583V1586M461.5 1583V1585M463.5 1583V1587M464.5 1583V1585M465.5 1583V1587M466.5 1583V1587M470.5 1583V1588M474.5 1583V1586M475.5 1583V1586M483.5 1583V1586M485.5 1583V1588M486.5 1583V1587M489.5 1583V1587M492.5 1583V1588M493.5 1583V1588M494.5 1583V1588M495.5 1583V1588M501.5 1583V1589M502.5 1583V1587M503.5 1583V1589M506.5 1583V1588M508.5 1583V1588M512.5 1583V1588M513.5 1583V1588M514.5 1583V1587M516.5 1583V1587M519.5 1583V1589M522.5 1583V1589M523.5 1583V1590M525.5 1583V1590M528.5 1583V1589M531.5 1583V1589M532.5 1583V1588M535.5 1583V1588M536.5 1583V1589M537.5 1583V1589M538.5 1583V1589M541.5 1583V1590M546.5 1583V1590M548.5 1583V1588M552.5 1583V1588M556.5 1583V1589M558.5 1583V1588M562.5 1583V1589M565.5 1583V1590M568.5 1583V1591M569.5 1583V1589M572.5 1583V1589M573.5 1583V1590M574.5 1583V1589M575.5 1583V1591M576.5 1583V1591M578.5 1583V1592M584.5 1583V1590M585.5 1583V1589M589.5 1583V1589M590.5 1583V1590M592.5 1583V1592M601.5 1583V1590M612.5 1583V1592M615.5 1583V1592M618.5 1583V1593M619.5 1583V1592M620.5 1583V1592M622.5 1583V1592M623.5 1583V1591M624.5 1583V1593M626.5 1583V1593M628.5 1583V1592M632.5 1583V1592M635.5 1583V1591M636.5 1583V1593M639.5 1583V1594M640.5 1583V1594M642.5 1583V1594M643.5 1583V1593M646.5 1583V1593M648.5 1583V1593M650.5 1583V1592M652.5 1583V1592M657.5 1583V1592M658.5 1583V1593M659.5 1583V1592M661.5 1583V1592M665.5 1583V1594M670.5 1583V1594M672.5 1583V1593M673.5 1583V1593M674.5 1583V1592M675.5 1583V1593M677.5 1583V1595M678.5 1583V1594M681.5 1583V1594M683.5 1583V1594M685.5 1583V1595M687.5 1583V1595M688.5 1583V1596M689.5 1583V1593M692.5 1583V1595M694.5 1583V1596M696.5 1583V1594M699.5 1583V1595M704.5 1583V1594M710.5 1583V1594M713.5 1583V1594M716.5 1583V1595M718.5 1583V1595M720.5 1583V1594M721.5 1583V1595M722.5 1583V1594M726.5 1583V1596M730.5 1583V1597M734.5 1583V1594M735.5 1583V1597M737.5 1583V1595M738.5 1583V1595M741.5 1583V1597M742.5 1583V1596M744.5 1583V1597M745.5 1583V1596M747.5 1583V1596M756.5 1583V1598M760.5 1583V1598M762.5 1583V1598M763.5 1583V1596M764.5 1583V1599M765.5 1583V1597M766.5 1583V1597M769.5 1583V1598M773.5 1583V1598M777.5 1583V1597M779.5 1583V1597M782.5 1583V1596M783.5 1583V1598M795.5 1583V1597M797.5 1583V1599M799.5 1583V1598M801.5 1583V1598M803.5 1583V1598M804.5 1583V1599M806.5 1583V1599M807.5 1583V1598M808.5 1583V1598M809.5 1583V1599M811.5 1583V1598M812.5 1583V1600M823.5 1583V1598M827.5 1583V1599M829.5 1583V1601M832.5 1583V1600M835.5 1583V1600M836.5 1583V1601M837.5 1583V1601M839.5 1583V1601M840.5 1583V1600M842.5 1583V1599M844.5 1583V1600M850.5 1583V1601M851.5 1583V1601M854.5 1583V1600M856.5 1583V1602M857.5 1583V1600M858.5 1583V1600M865.5 1583V1600M868.5 1583V1602M872.5 1583V1602M874.5 1583V1601M876.5 1583V1603M881.5 1583V1603M882.5 1583V1603M884.5 1583V1601M888.5 1583V1602M893.5 1583V1604M894.5 1583V1602M895.5 1583V1604M905.5 1583V1605M920.5 1583V1603M921.5 1583V1606M922.5 1583V1604M927.5 1583V1605M929.5 1583V1605M931.5 1583V1606M935.5 1583V1607M940.5 1583V1605M943.5 1583V1605M946.5 1583V1607M950.5 1583V1606M953.5 1583V1606M958.5 1583V1607M961.5 1583V1606M964.5 1583V1607M967.5 1583V1609M968.5 1583V1606M971.5 1583V1609M972.5 1583V1609M977.5 1583V1609M978.5 1583V1608M980.5 1583V1608M981.5 1583V1607M983.5 1583V1610M987.5 1583V1608M988.5 1583V1607M990.5 1583V1608M996.5 1583V1610M998.5 1583V1610M1003.5 1583V1610M1004.5 1583V1611M1007.5 1583V1611M1012.5 1583V1611M1013.5 1583V1609M1019.5 1583V1610M1020.5 1583V1610M1021.5 1583V1610M1023.5 1583V1610M1026.5 1583V1612M1028.5 1583V1611M1029.5 1583V1612M1031.5 1583V1613M1034.5 1583V1611M1039.5 1583V1614M1042.5 1583V1611M1044.5 1583V1614M1049.5 1583V1614M1054.5 1583V1614M1061.5 1583V1614M1062.5 1583V1613M1063.5 1583V1614M1067.5 1583V1616M1068.5 1583V1613M1072.5 1583V1616M1073.5 1583V1616M1076.5 1583V1616M1078.5 1583V1616M1080.5 1583V1614M1082.5 1583V1616M1083.5 1583V1615M1085.5 1583V1615M1091.5 1583V1616M1093.5 1583V1617M1094.5 1583V1615M1102.5 1583V1618M1104.5 1583V1617M1105.5 1583V1617M1106.5 1583V1618M1107.5 1583V1618M1108.5 1583V1617M1113.5 1583V1618M1115.5 1583V1618M1118.5 1583V1618M1119.5 1583V1618M1122.5 1583V1619M1126.5 1583V1619M1128.5 1583V1618M1129.5 1583V1618M1130.5 1583V1618M1131.5 1583V1620M1133.5 1583V1619M1134.5 1583V1618M1135.5 1583V1619M1138.5 1583V1621M1140.5 1583V1619M1142.5 1583V1621M1146.5 1583V1622M1149.5 1583V1620M1152.5 1583V1621M1156.5 1583V1620M1157.5 1583V1623M1161.5 1583V1621M1162.5 1583V1621M1164.5 1583V1623M1167.5 1583V1624M1168.5 1583V1623M1169.5 1583V1622M1171.5 1583V1622M1172.5 1583V1624M1173.5 1583V1623M1180.5 1583V1626M1181.5 1583V1625M1182.5 1583V1626M1184.5 1583V1626M1190.5 1583V1625M1191.5 1583V1627M1195.5 1583V1627M1201.5 1583V1629M1209.5 1583V1630M1211.5 1583V1629M1213.5 1583V1631M1216.5 1583V1629M1220.5 1583V1630M1226.5 1583V1631M1236.5 1583V1635M1239.5 1583V1636M1245.5 1583V1638M1246.5 1583V1639M1247.5 1583V1639M1249.5 1583V1641M1251.5 1583V1639M1253.5 1583V1641M1259.5 1583V1644M1264.5 1583V1648M1265.5 1583V1648M1269.5 1583V1649M1275.5 1583V1652M1280.5 1583V1655M1281.5 1583V1658M1282.5 1583V1657M1286.5 1583V1662M1290.5 1583V1665M1296.5 1583V1675M1297.5 1583V1678M1299.5 1583V1680M1303.5 1583V1687M1317.5 1583V1707M1319.5 1583V1705M1324.5 1583V1697M1328.5 1583V1690M1335.5 1583V1683M1343.5 1583V1673M1353.5 1583V1660M1354.5 1583V1659M1356.5 1583V1654M1357.5 1583V1652M1362.5 1583V1641M1364.5 1583V1634M1365.5 1583V1632M1373.5 1583V1613M1378.5 1583V1601M1381.5 1583V1595M1385.5 1583V1586" stroke="#a8822c" stroke-width="1.02" fill="none" shape-rendering="crispEdges"/>
<path d="M220.5 1583V1584M231.5 1583V1584M233.5 1583V1584M242.5 1583V1584M247.5 1583V1584M264.5 1583V1585M275.5 1583V1584M282.5 1583V1585M329.5 1583V1584M346.5 1583V1585M350.5 1583V1584M362.5 1583V1585M374.5 1583V1585M379.5 1583V1585M409.5 1583V1585M415.5 1583V1585M420.5 1583V1585M424.5 1583V1585M432.5 1583V1585M448.5 1583V1586M479.5 1583V1586M505.5 1583V1589M511.5 1583V1587M515.5 1583V1587M529.5 1583V1588M530.5 1583V1590M539.5 1583V1590M540.5 1583V1589M542.5 1583V1588M553.5 1583V1590M554.5 1583V1588M560.5 1583V1588M567.5 1583V1589M596.5 1583V1592M600.5 1583V1593M607.5 1583V1592M608.5 1583V1590M666.5 1583V1594M668.5 1583V1592M671.5 1583V1592M717.5 1583V1594M724.5 1583V1597M733.5 1583V1596M752.5 1583V1598M758.5 1583V1597M774.5 1583V1597M778.5 1583V1597M788.5 1583V1598M821.5 1583V1598M830.5 1583V1600M843.5 1583V1600M849.5 1583V1599M863.5 1583V1600M886.5 1583V1602M918.5 1583V1604M925.5 1583V1606M944.5 1583V1606M945.5 1583V1605M951.5 1583V1606M957.5 1583V1608M966.5 1583V1608M976.5 1583V1608M989.5 1583V1608M1005.5 1583V1611M1008.5 1583V1611M1009.5 1583V1610M1084.5 1583V1616M1086.5 1583V1616M1101.5 1583V1616M1110.5 1583V1616M1127.5 1583V1620M1154.5 1583V1620M1155.5 1583V1622M1193.5 1583V1627M1196.5 1583V1627M1205.5 1583V1629M1212.5 1583V1630M1221.5 1583V1630M1268.5 1583V1648M1277.5 1583V1652M1283.5 1583V1657M1301.5 1583V1684M1302.5 1583V1686M1305.5 1583V1690M1307.5 1583V1693M1308.5 1583V1697M1313.5 1583V1717M1318.5 1583V1707M1321.5 1583V1700M1340.5 1583V1678M1341.5 1583V1676M1348.5 1583V1668M1352.5 1583V1662M1369.5 1583V1624M1376.5 1583V1607M1379.5 1583V1599" stroke="#3a7e3a" stroke-width="1.02" fill="none" shape-rendering="crispEdges"/>
<path d="M268.5 1583V1585M273.5 1583V1584M286.5 1583V1585M287.5 1583V1584M300.5 1583V1585M345.5 1583V1584M348.5 1583V1584M357.5 1583V1584M359.5 1583V1585M365.5 1583V1585M367.5 1583V1586M372.5 1583V1584M376.5 1583V1585M380.5 1583V1584M391.5 1583V1586M396.5 1583V1584M401.5 1583V1585M402.5 1583V1585M406.5 1583V1586M407.5 1583V1584M414.5 1583V1585M421.5 1583V1585M423.5 1583V1587M426.5 1583V1586M429.5 1583V1584M430.5 1583V1586M433.5 1583V1587M439.5 1583V1585M441.5 1583V1585M457.5 1583V1587M458.5 1583V1585M462.5 1583V1588M476.5 1583V1588M481.5 1583V1587M482.5 1583V1588M487.5 1583V1588M499.5 1583V1589M507.5 1583V1587M509.5 1583V1588M517.5 1583V1589M547.5 1583V1590M564.5 1583V1588M566.5 1583V1589M571.5 1583V1590M580.5 1583V1589M581.5 1583V1589M593.5 1583V1591M594.5 1583V1591M595.5 1583V1591M598.5 1583V1590M602.5 1583V1592M603.5 1583V1591M617.5 1583V1590M627.5 1583V1593M629.5 1583V1592M631.5 1583V1593M633.5 1583V1593M634.5 1583V1593M644.5 1583V1594M649.5 1583V1593M654.5 1583V1593M655.5 1583V1594M676.5 1583V1592M680.5 1583V1594M682.5 1583V1594M684.5 1583V1593M698.5 1583V1596M700.5 1583V1595M701.5 1583V1595M715.5 1583V1595M719.5 1583V1595M725.5 1583V1596M732.5 1583V1596M743.5 1583V1597M753.5 1583V1596M754.5 1583V1597M755.5 1583V1595M757.5 1583V1596M775.5 1583V1599M800.5 1583V1597M814.5 1583V1599M817.5 1583V1598M818.5 1583V1599M828.5 1583V1601M833.5 1583V1599M845.5 1583V1600M861.5 1583V1601M866.5 1583V1601M869.5 1583V1602M870.5 1583V1600M880.5 1583V1603M883.5 1583V1603M889.5 1583V1601M890.5 1583V1603M891.5 1583V1602M892.5 1583V1603M896.5 1583V1603M899.5 1583V1603M900.5 1583V1603M901.5 1583V1602M908.5 1583V1604M911.5 1583V1604M912.5 1583V1603M915.5 1583V1604M916.5 1583V1605M924.5 1583V1604M933.5 1583V1605M934.5 1583V1606M938.5 1583V1606M960.5 1583V1606M962.5 1583V1607M963.5 1583V1607M965.5 1583V1606M973.5 1583V1607M974.5 1583V1607M991.5 1583V1608M992.5 1583V1610M1018.5 1583V1612M1033.5 1583V1613M1035.5 1583V1613M1037.5 1583V1611M1041.5 1583V1614M1045.5 1583V1612M1048.5 1583V1613M1052.5 1583V1613M1060.5 1583V1615M1074.5 1583V1615M1079.5 1583V1614M1096.5 1583V1617M1098.5 1583V1617M1100.5 1583V1617M1111.5 1583V1618M1117.5 1583V1617M1136.5 1583V1618M1143.5 1583V1620M1151.5 1583V1622M1159.5 1583V1622M1165.5 1583V1624M1185.5 1583V1624M1189.5 1583V1626M1194.5 1583V1626M1208.5 1583V1627M1210.5 1583V1628M1214.5 1583V1631M1218.5 1583V1632M1228.5 1583V1632M1232.5 1583V1634M1234.5 1583V1633M1238.5 1583V1634M1242.5 1583V1636M1243.5 1583V1638M1250.5 1583V1638M1255.5 1583V1642M1256.5 1583V1644M1266.5 1583V1647M1271.5 1583V1651M1274.5 1583V1652M1287.5 1583V1663M1293.5 1583V1671M1298.5 1583V1679M1306.5 1583V1692M1311.5 1583V1704M1314.5 1583V1715M1326.5 1583V1693M1338.5 1583V1681M1349.5 1583V1667M1355.5 1583V1656" stroke="#8a8438" stroke-width="1.02" fill="none" shape-rendering="crispEdges"/>
<path d="M289.5 1583V1584M311.5 1583V1585M318.5 1583V1585M320.5 1583V1584M347.5 1583V1585M444.5 1583V1585M460.5 1583V1587M555.5 1583V1589M582.5 1583V1589M610.5 1583V1592M613.5 1583V1591M669.5 1583V1594M746.5 1583V1595M748.5 1583V1597M770.5 1583V1597M791.5 1583V1598M792.5 1583V1598M816.5 1583V1598M848.5 1583V1602M1059.5 1583V1614M1066.5 1583V1614M1175.5 1583V1625M1176.5 1583V1623M1203.5 1583V1628M1284.5 1583V1658M1285.5 1583V1660M1310.5 1583V1702M1327.5 1583V1693M1351.5 1583V1663" stroke="#187444" stroke-width="1.02" fill="none" shape-rendering="crispEdges"/>
<path d="M295.5 1850V1852M299.5 1850V1852M305.5 1850V1852M320.5 1850V1852M322.5 1850V1852M327.5 1850V1852M329.5 1850V1852M333.5 1850V1852M334.5 1850V1852M343.5 1850V1852M349.5 1849V1852M357.5 1849V1852M359.5 1850V1852M360.5 1850V1852M378.5 1849V1852M382.5 1849V1852M383.5 1849V1852M384.5 1849V1852M387.5 1850V1852M388.5 1849V1852M389.5 1849V1852M390.5 1849V1852M395.5 1848V1852M396.5 1849V1852M397.5 1848V1852M399.5 1848V1852M400.5 1850V1852M405.5 1848V1852M406.5 1848V1852M409.5 1848V1852M410.5 1849V1852M415.5 1850V1852M416.5 1849V1852M417.5 1849V1852M426.5 1848V1852M427.5 1847V1852M430.5 1849V1852M433.5 1850V1852M434.5 1847V1852M441.5 1848V1852M444.5 1848V1852M445.5 1849V1852M447.5 1847V1852M448.5 1849V1852M449.5 1849V1852M450.5 1849V1852M451.5 1850V1852M452.5 1847V1852M453.5 1847V1852M455.5 1848V1852M459.5 1848V1852M465.5 1849V1852M473.5 1847V1852M478.5 1847V1852M479.5 1847V1852M481.5 1846V1852M482.5 1846V1852M491.5 1846V1852M497.5 1847V1852M505.5 1847V1852M509.5 1848V1852M510.5 1845V1852M511.5 1847V1852M512.5 1845V1852M513.5 1847V1852M521.5 1847V1852M523.5 1846V1852M524.5 1846V1852M526.5 1847V1852M528.5 1847V1852M530.5 1845V1852M534.5 1846V1852M536.5 1844V1852M538.5 1847V1852M539.5 1844V1852M540.5 1846V1852M545.5 1845V1852M549.5 1846V1852M551.5 1844V1852M557.5 1844V1852M559.5 1845V1852M564.5 1844V1852M569.5 1845V1852M579.5 1845V1852M583.5 1843V1852M584.5 1843V1852M587.5 1842V1852M598.5 1843V1852M600.5 1845V1852M602.5 1843V1852M604.5 1844V1852M606.5 1845V1852M609.5 1844V1852M612.5 1842V1852M616.5 1843V1852M617.5 1843V1852M621.5 1842V1852M623.5 1842V1852M628.5 1842V1852M629.5 1842V1852M641.5 1842V1852M642.5 1842V1852M650.5 1840V1852M651.5 1841V1852M654.5 1841V1852M655.5 1841V1852M656.5 1842V1852M659.5 1841V1852M664.5 1841V1852M667.5 1840V1852M668.5 1840V1852M669.5 1840V1852M675.5 1840V1852M684.5 1842V1852M686.5 1840V1852M688.5 1841V1852M689.5 1839V1852M692.5 1841V1852M693.5 1838V1852M695.5 1840V1852M697.5 1841V1852M703.5 1840V1852M707.5 1838V1852M710.5 1838V1852M711.5 1840V1852M712.5 1840V1852M714.5 1838V1852M719.5 1839V1852M727.5 1838V1852M730.5 1838V1852M731.5 1837V1852M740.5 1838V1852M741.5 1837V1852M745.5 1838V1852M747.5 1837V1852M752.5 1836V1852M753.5 1836V1852M757.5 1837V1852M759.5 1836V1852M762.5 1837V1852M769.5 1838V1852M774.5 1836V1852M775.5 1836V1852M776.5 1838V1852M778.5 1838V1852M779.5 1835V1852M781.5 1836V1852M796.5 1834V1852M797.5 1835V1852M800.5 1837V1852M801.5 1835V1852M804.5 1834V1852M805.5 1836V1852M810.5 1834V1852M811.5 1834V1852M812.5 1836V1852M817.5 1836V1852M821.5 1833V1852M822.5 1833V1852M823.5 1835V1852M825.5 1835V1852M827.5 1834V1852M832.5 1833V1852M833.5 1834V1852M835.5 1833V1852M836.5 1833V1852M838.5 1834V1852M841.5 1833V1852M842.5 1834V1852M843.5 1835V1852M846.5 1834V1852M849.5 1834V1852M851.5 1833V1852M852.5 1834V1852M853.5 1834V1852M867.5 1832V1852M868.5 1831V1852M870.5 1832V1852M875.5 1832V1852M880.5 1832V1852M883.5 1830V1852M885.5 1831V1852M887.5 1832V1852M889.5 1829V1852M890.5 1830V1852M893.5 1832V1852M896.5 1830V1852M901.5 1829V1852M903.5 1831V1852M904.5 1831V1852M905.5 1830V1852M908.5 1830V1852M912.5 1830V1852M913.5 1828V1852M915.5 1830V1852M924.5 1830V1852M930.5 1828V1852M931.5 1827V1852M933.5 1827V1852M936.5 1828V1852M938.5 1827V1852M939.5 1827V1852M942.5 1827V1852M945.5 1826V1852M950.5 1828V1852M953.5 1828V1852M954.5 1826V1852M955.5 1828V1852M959.5 1826V1852M970.5 1825V1852M973.5 1825V1852M974.5 1826V1852M976.5 1826V1852M977.5 1827V1852M979.5 1826V1852M986.5 1827V1852M987.5 1825V1852M988.5 1827V1852M990.5 1824V1852M992.5 1826V1852M993.5 1824V1852M996.5 1826V1852M999.5 1824V1852M1001.5 1824V1852M1003.5 1824V1852M1006.5 1824V1852M1010.5 1824V1852M1013.5 1824V1852M1015.5 1825V1852M1018.5 1824V1852M1022.5 1823V1852M1023.5 1824V1852M1029.5 1823V1852M1032.5 1822V1852M1033.5 1824V1852M1035.5 1823V1852M1038.5 1823V1852M1042.5 1822V1852M1043.5 1822V1852M1049.5 1823V1852M1052.5 1821V1852M1056.5 1822V1852M1060.5 1822V1852M1063.5 1823V1852M1064.5 1822V1852M1066.5 1820V1852M1070.5 1822V1852M1071.5 1821V1852M1081.5 1820V1852M1084.5 1819V1852M1092.5 1819V1852M1094.5 1819V1852M1096.5 1820V1852M1099.5 1821V1852M1100.5 1820V1852M1101.5 1819V1852M1102.5 1819V1852M1103.5 1819V1852M1104.5 1818V1852M1105.5 1820V1852M1107.5 1818V1852M1110.5 1818V1852M1111.5 1819V1852M1114.5 1819V1852M1115.5 1819V1852M1117.5 1819V1852M1121.5 1817V1852M1122.5 1817V1852M1123.5 1817V1852M1124.5 1816V1852M1126.5 1815V1852M1129.5 1817V1852M1131.5 1816V1852M1138.5 1815V1852M1140.5 1815V1852M1145.5 1815V1852M1152.5 1814V1852M1158.5 1810V1852M1159.5 1812V1852M1161.5 1810V1852M1162.5 1811V1852M1166.5 1809V1852M1169.5 1810V1852M1172.5 1809V1852M1175.5 1809V1852M1176.5 1809V1852M1178.5 1807V1852M1179.5 1809V1852M1180.5 1807V1852M1181.5 1806V1852M1182.5 1808V1852M1187.5 1807V1852M1192.5 1805V1852M1194.5 1806V1852M1195.5 1806V1852M1196.5 1804V1852M1200.5 1804V1852M1205.5 1802V1852M1206.5 1804V1852M1207.5 1803V1852M1209.5 1802V1852M1213.5 1801V1852M1215.5 1801V1852M1217.5 1801V1852M1220.5 1799V1852M1222.5 1800V1852M1224.5 1799V1852M1225.5 1799V1852M1226.5 1798V1852M1229.5 1796V1852M1230.5 1798V1852M1231.5 1797V1852M1232.5 1797V1852M1233.5 1795V1852M1237.5 1794V1852M1239.5 1795V1852M1242.5 1793V1852M1243.5 1792V1852M1245.5 1793V1852M1248.5 1793V1852M1249.5 1791V1852M1261.5 1786V1852M1265.5 1783V1852M1266.5 1783V1852M1267.5 1783V1852M1268.5 1783V1852M1271.5 1781V1852M1275.5 1780V1852M1276.5 1779V1852M1278.5 1777V1852M1279.5 1777V1852M1281.5 1774V1852M1284.5 1773V1852M1286.5 1771V1852M1287.5 1768V1852M1291.5 1764V1852M1295.5 1753V1852M1296.5 1751V1852M1302.5 1739V1852M1304.5 1735V1852M1312.5 1718V1852M1318.5 1708V1852M1320.5 1703V1852M1326.5 1692V1852M1327.5 1692V1852M1330.5 1690V1852M1333.5 1686V1852M1335.5 1684V1852M1345.5 1670V1852M1357.5 1651V1852" stroke="#bc3ea0" stroke-width="1.02" fill="none" shape-rendering="crispEdges"/>
<path d="M297.5 1850V1852M308.5 1850V1852M324.5 1850V1852M339.5 1850V1852M347.5 1850V1852M366.5 1850V1852M385.5 1849V1852M393.5 1849V1852M398.5 1850V1852M401.5 1849V1852M408.5 1850V1852M412.5 1848V1852M413.5 1849V1852M414.5 1848V1852M419.5 1848V1852M420.5 1848V1852M425.5 1848V1852M435.5 1849V1852M436.5 1848V1852M438.5 1847V1852M446.5 1847V1852M454.5 1849V1852M457.5 1848V1852M458.5 1847V1852M461.5 1847V1852M468.5 1847V1852M476.5 1848V1852M480.5 1847V1852M485.5 1847V1852M487.5 1847V1852M489.5 1846V1852M490.5 1848V1852M492.5 1848V1852M502.5 1845V1852M507.5 1847V1852M520.5 1847V1852M522.5 1846V1852M533.5 1847V1852M543.5 1846V1852M548.5 1846V1852M550.5 1846V1852M554.5 1846V1852M563.5 1846V1852M565.5 1844V1852M567.5 1843V1852M571.5 1846V1852M577.5 1845V1852M580.5 1843V1852M582.5 1844V1852M585.5 1844V1852M586.5 1844V1852M594.5 1844V1852M596.5 1842V1852M599.5 1843V1852M605.5 1844V1852M607.5 1844V1852M610.5 1844V1852M611.5 1843V1852M615.5 1842V1852M618.5 1842V1852M643.5 1841V1852M644.5 1843V1852M645.5 1843V1852M657.5 1841V1852M661.5 1841V1852M671.5 1840V1852M690.5 1841V1852M709.5 1839V1852M718.5 1838V1852M720.5 1839V1852M725.5 1838V1852M742.5 1837V1852M744.5 1839V1852M746.5 1839V1852M756.5 1837V1852M763.5 1837V1852M764.5 1838V1852M766.5 1838V1852M767.5 1836V1852M773.5 1835V1852M780.5 1837V1852M783.5 1835V1852M785.5 1835V1852M787.5 1836V1852M790.5 1835V1852M794.5 1836V1852M798.5 1834V1852M806.5 1835V1852M809.5 1835V1852M813.5 1835V1852M816.5 1834V1852M826.5 1833V1852M840.5 1834V1852M844.5 1834V1852M845.5 1834V1852M850.5 1832V1852M857.5 1832V1852M862.5 1831V1852M864.5 1831V1852M874.5 1832V1852M878.5 1831V1852M884.5 1831V1852M895.5 1830V1852M897.5 1831V1852M900.5 1831V1852M906.5 1828V1852M909.5 1831V1852M922.5 1828V1852M925.5 1828V1852M935.5 1827V1852M941.5 1827V1852M943.5 1829V1852M951.5 1827V1852M960.5 1826V1852M963.5 1827V1852M972.5 1827V1852M981.5 1825V1852M982.5 1825V1852M983.5 1825V1852M984.5 1826V1852M985.5 1827V1852M989.5 1825V1852M998.5 1824V1852M1024.5 1824V1852M1026.5 1824V1852M1028.5 1822V1852M1036.5 1823V1852M1040.5 1824V1852M1045.5 1821V1852M1047.5 1823V1852M1067.5 1822V1852M1073.5 1821V1852M1076.5 1820V1852M1077.5 1821V1852M1079.5 1820V1852M1080.5 1821V1852M1086.5 1820V1852M1089.5 1819V1852M1112.5 1818V1852M1113.5 1817V1852M1118.5 1817V1852M1125.5 1817V1852M1146.5 1813V1852M1148.5 1813V1852M1163.5 1810V1852M1171.5 1810V1852M1177.5 1807V1852M1184.5 1808V1852M1191.5 1807V1852M1197.5 1803V1852M1198.5 1804V1852M1199.5 1804V1852M1204.5 1804V1852M1210.5 1801V1852M1214.5 1801V1852M1223.5 1798V1852M1236.5 1796V1852M1238.5 1796V1852M1250.5 1790V1852M1252.5 1790V1852M1253.5 1791V1852M1262.5 1785V1852M1263.5 1784V1852M1273.5 1781V1852M1282.5 1774V1852M1283.5 1773V1852M1299.5 1744V1852M1303.5 1736V1852M1322.5 1699V1852M1323.5 1698V1852M1328.5 1689V1852M1334.5 1684V1852M1346.5 1669V1852M1353.5 1659V1852M1354.5 1658V1852M1358.5 1649V1852M1359.5 1648V1852M1360.5 1644V1852M1367.5 1628V1852M1381.5 1593V1852M1382.5 1592V1852M1384.5 1588V1852" stroke="#6a3ca2" stroke-width="1.02" fill="none" shape-rendering="crispEdges"/>
<path d="M298.5 1850V1852M304.5 1850V1852M317.5 1850V1852M323.5 1850V1852M345.5 1850V1852M346.5 1850V1852M350.5 1850V1852M353.5 1850V1852M358.5 1850V1852M364.5 1849V1852M371.5 1849V1852M373.5 1849V1852M386.5 1850V1852M391.5 1850V1852M394.5 1850V1852M407.5 1849V1852M418.5 1850V1852M421.5 1849V1852M422.5 1850V1852M431.5 1849V1852M432.5 1848V1852M437.5 1848V1852M439.5 1848V1852M442.5 1850V1852M443.5 1848V1852M456.5 1848V1852M462.5 1848V1852M463.5 1847V1852M464.5 1847V1852M466.5 1847V1852M471.5 1848V1852M474.5 1848V1852M475.5 1848V1852M484.5 1848V1852M493.5 1848V1852M496.5 1847V1852M498.5 1848V1852M499.5 1848V1852M500.5 1847V1852M501.5 1847V1852M517.5 1847V1852M532.5 1847V1852M537.5 1847V1852M542.5 1847V1852M544.5 1847V1852M553.5 1845V1852M555.5 1845V1852M556.5 1846V1852M561.5 1846V1852M566.5 1844V1852M573.5 1844V1852M576.5 1844V1852M591.5 1844V1852M595.5 1845V1852M597.5 1845V1852M601.5 1845V1852M614.5 1842V1852M619.5 1844V1852M626.5 1841V1852M630.5 1843V1852M631.5 1843V1852M632.5 1843V1852M635.5 1843V1852M647.5 1841V1852M653.5 1840V1852M665.5 1840V1852M672.5 1841V1852M673.5 1841V1852M676.5 1839V1852M687.5 1841V1852M691.5 1841V1852M696.5 1839V1852M698.5 1841V1852M700.5 1841V1852M704.5 1839V1852M705.5 1840V1852M713.5 1838V1852M715.5 1839V1852M716.5 1840V1852M717.5 1840V1852M722.5 1838V1852M726.5 1840V1852M728.5 1838V1852M729.5 1838V1852M733.5 1839V1852M734.5 1839V1852M735.5 1840V1852M738.5 1838V1852M750.5 1837V1852M754.5 1838V1852M771.5 1837V1852M772.5 1835V1852M777.5 1837V1852M782.5 1837V1852M784.5 1835V1852M786.5 1837V1852M788.5 1835V1852M792.5 1835V1852M802.5 1836V1852M803.5 1835V1852M815.5 1835V1852M819.5 1833V1852M820.5 1835V1852M828.5 1835V1852M829.5 1833V1852M830.5 1833V1852M831.5 1835V1852M834.5 1833V1852M837.5 1834V1852M839.5 1833V1852M848.5 1833V1852M856.5 1833V1852M859.5 1832V1852M863.5 1832V1852M866.5 1833V1852M869.5 1832V1852M872.5 1833V1852M873.5 1832V1852M877.5 1832V1852M888.5 1830V1852M891.5 1831V1852M907.5 1830V1852M910.5 1829V1852M919.5 1830V1852M920.5 1829V1852M923.5 1829V1852M926.5 1828V1852M927.5 1829V1852M929.5 1828V1852M934.5 1827V1852M944.5 1828V1852M946.5 1829V1852M949.5 1828V1852M967.5 1825V1852M968.5 1827V1852M969.5 1825V1852M971.5 1826V1852M978.5 1825V1852M980.5 1827V1852M991.5 1825V1852M994.5 1826V1852M995.5 1826V1852M1002.5 1824V1852M1004.5 1825V1852M1014.5 1823V1852M1017.5 1824V1852M1019.5 1825V1852M1021.5 1824V1852M1025.5 1824V1852M1030.5 1822V1852M1034.5 1824V1852M1037.5 1822V1852M1039.5 1823V1852M1044.5 1822V1852M1048.5 1823V1852M1054.5 1823V1852M1055.5 1823V1852M1057.5 1821V1852M1061.5 1822V1852M1062.5 1822V1852M1069.5 1822V1852M1074.5 1822V1852M1078.5 1821V1852M1083.5 1822V1852M1087.5 1820V1852M1088.5 1820V1852M1090.5 1820V1852M1098.5 1819V1852M1106.5 1818V1852M1109.5 1819V1852M1119.5 1819V1852M1120.5 1817V1852M1127.5 1816V1852M1132.5 1816V1852M1133.5 1817V1852M1135.5 1815V1852M1136.5 1814V1852M1139.5 1815V1852M1142.5 1814V1852M1143.5 1813V1852M1144.5 1814V1852M1149.5 1813V1852M1153.5 1811V1852M1155.5 1810V1852M1165.5 1811V1852M1167.5 1810V1852M1170.5 1810V1852M1174.5 1808V1852M1183.5 1808V1852M1185.5 1805V1852M1188.5 1806V1852M1189.5 1806V1852M1190.5 1805V1852M1202.5 1805V1852M1208.5 1802V1852M1216.5 1799V1852M1218.5 1802V1852M1221.5 1798V1852M1227.5 1799V1852M1235.5 1795V1852M1254.5 1788V1852M1255.5 1790V1852M1259.5 1788V1852M1269.5 1783V1852M1270.5 1782V1852M1288.5 1769V1852M1298.5 1745V1852M1300.5 1742V1852M1301.5 1741V1852M1305.5 1731V1852M1309.5 1725V1852M1310.5 1723V1852M1337.5 1681V1852" stroke="#d2686e" stroke-width="1.02" fill="none" shape-rendering="crispEdges"/>
<path d="M340.5 1850V1852M351.5 1850V1852M354.5 1849V1852M392.5 1849V1852M411.5 1848V1852M440.5 1847V1852M472.5 1847V1852M486.5 1848V1852M488.5 1849V1852M494.5 1847V1852M495.5 1847V1852M503.5 1848V1852M504.5 1848V1852M506.5 1846V1852M508.5 1847V1852M527.5 1846V1852M529.5 1846V1852M535.5 1847V1852M562.5 1844V1852M568.5 1844V1852M570.5 1844V1852M578.5 1845V1852M589.5 1844V1852M590.5 1843V1852M592.5 1845V1852M613.5 1842V1852M625.5 1842V1852M633.5 1841V1852M637.5 1842V1852M646.5 1841V1852M648.5 1840V1852M652.5 1843V1852M662.5 1841V1852M677.5 1842V1852M681.5 1841V1852M682.5 1840V1852M683.5 1839V1852M685.5 1840V1852M724.5 1838V1852M732.5 1838V1852M748.5 1838V1852M749.5 1839V1852M755.5 1839V1852M770.5 1837V1852M791.5 1837V1852M795.5 1834V1852M807.5 1835V1852M847.5 1833V1852M855.5 1833V1852M865.5 1832V1852M881.5 1832V1852M898.5 1831V1852M899.5 1830V1852M916.5 1830V1852M918.5 1829V1852M921.5 1828V1852M947.5 1826V1852M957.5 1826V1852M958.5 1828V1852M966.5 1826V1852M1005.5 1824V1852M1007.5 1824V1852M1008.5 1824V1852M1016.5 1824V1852M1031.5 1824V1852M1041.5 1824V1852M1058.5 1821V1852M1059.5 1823V1852M1072.5 1821V1852M1075.5 1821V1852M1082.5 1821V1852M1093.5 1819V1852M1137.5 1815V1852M1141.5 1814V1852M1147.5 1813V1852M1150.5 1812V1852M1151.5 1813V1852M1154.5 1812V1852M1156.5 1812V1852M1157.5 1812V1852M1193.5 1806V1852M1203.5 1803V1852M1246.5 1792V1852M1251.5 1789V1852M1256.5 1789V1852M1257.5 1787V1852M1258.5 1787V1852M1280.5 1774V1852M1292.5 1759V1852M1294.5 1755V1852M1308.5 1726V1852M1315.5 1712V1852M1325.5 1695V1852" stroke="#ee962c" stroke-width="1.02" fill="none" shape-rendering="crispEdges"/>
<path d="M374.5 1849V1852M380.5 1850V1852M402.5 1848V1852M403.5 1848V1852M423.5 1847V1852M424.5 1848V1852M428.5 1848V1852M429.5 1850V1852M460.5 1847V1852M467.5 1849V1852M469.5 1847V1852M470.5 1848V1852M477.5 1849V1852M483.5 1848V1852M514.5 1847V1852M515.5 1847V1852M516.5 1846V1852M518.5 1846V1852M519.5 1846V1852M525.5 1846V1852M531.5 1845V1852M541.5 1845V1852M546.5 1846V1852M547.5 1845V1852M552.5 1845V1852M558.5 1844V1852M560.5 1845V1852M572.5 1846V1852M574.5 1844V1852M575.5 1845V1852M581.5 1845V1852M588.5 1845V1852M593.5 1845V1852M603.5 1844V1852M608.5 1843V1852M620.5 1842V1852M622.5 1843V1852M624.5 1842V1852M627.5 1841V1852M634.5 1842V1852M636.5 1842V1852M638.5 1842V1852M639.5 1841V1852M640.5 1842V1852M649.5 1840V1852M658.5 1841V1852M660.5 1842V1852M663.5 1842V1852M666.5 1842V1852M670.5 1842V1852M674.5 1841V1852M678.5 1840V1852M679.5 1840V1852M680.5 1840V1852M694.5 1841V1852M699.5 1840V1852M701.5 1840V1852M702.5 1840V1852M706.5 1839V1852M708.5 1840V1852M721.5 1839V1852M723.5 1838V1852M736.5 1840V1852M737.5 1839V1852M739.5 1837V1852M743.5 1837V1852M751.5 1838V1852M758.5 1837V1852M760.5 1836V1852M761.5 1837V1852M765.5 1837V1852M768.5 1837V1852M789.5 1836V1852M793.5 1836V1852M799.5 1835V1852M808.5 1834V1852M814.5 1834V1852M818.5 1835V1852M824.5 1834V1852M854.5 1833V1852M858.5 1831V1852M860.5 1833V1852M861.5 1833V1852M871.5 1831V1852M876.5 1831V1852M879.5 1832V1852M882.5 1832V1852M886.5 1831V1852M892.5 1831V1852M894.5 1830V1852M902.5 1831V1852M911.5 1829V1852M914.5 1831V1852M917.5 1828V1852M928.5 1828V1852M932.5 1829V1852M937.5 1830V1852M940.5 1827V1852M948.5 1829V1852M952.5 1828V1852M956.5 1827V1852M961.5 1826V1852M962.5 1826V1852M964.5 1828V1852M965.5 1825V1852M975.5 1825V1852M997.5 1826V1852M1000.5 1825V1852M1009.5 1825V1852M1011.5 1824V1852M1012.5 1824V1852M1020.5 1825V1852M1027.5 1823V1852M1046.5 1821V1852M1050.5 1822V1852M1051.5 1822V1852M1053.5 1821V1852M1065.5 1821V1852M1068.5 1823V1852M1085.5 1819V1852M1091.5 1821V1852M1095.5 1819V1852M1097.5 1819V1852M1108.5 1819V1852M1116.5 1818V1852M1128.5 1817V1852M1130.5 1817V1852M1134.5 1816V1852M1160.5 1812V1852M1164.5 1811V1852M1168.5 1809V1852M1173.5 1808V1852M1186.5 1807V1852M1201.5 1805V1852M1211.5 1801V1852M1212.5 1801V1852M1219.5 1799V1852M1228.5 1797V1852M1234.5 1797V1852M1240.5 1795V1852M1241.5 1793V1852M1244.5 1792V1852M1247.5 1792V1852M1260.5 1788V1852M1264.5 1783V1852M1272.5 1780V1852M1274.5 1779V1852M1277.5 1778V1852M1285.5 1773V1852M1289.5 1766V1852M1290.5 1764V1852M1293.5 1760V1852M1297.5 1750V1852M1306.5 1731V1852M1307.5 1729V1852M1311.5 1721V1852M1313.5 1715V1852M1314.5 1713V1852M1316.5 1711V1852M1317.5 1708V1852M1319.5 1704V1852M1321.5 1701V1852M1324.5 1696V1852M1329.5 1690V1852M1331.5 1686V1852M1332.5 1687V1852M1336.5 1682V1852M1338.5 1680V1852M1339.5 1679V1852M1340.5 1676V1852M1341.5 1675V1852M1342.5 1676V1852M1343.5 1673V1852M1344.5 1672V1852M1347.5 1669V1852M1348.5 1666V1852M1349.5 1665V1852M1350.5 1665V1852M1351.5 1661V1852M1352.5 1662V1852M1355.5 1655V1852M1356.5 1654V1852M1361.5 1641V1852M1362.5 1639V1852M1363.5 1636V1852M1364.5 1635V1852M1365.5 1631V1852M1366.5 1630V1852M1368.5 1626V1852M1369.5 1622V1852M1370.5 1621V1852M1371.5 1618V1852M1372.5 1615V1852M1373.5 1613V1852M1374.5 1611V1852M1375.5 1609V1852M1376.5 1605V1852M1377.5 1604V1852M1378.5 1602V1852M1379.5 1599V1852M1380.5 1596V1852M1383.5 1589V1852M1385.5 1586V1852" stroke="#30349a" stroke-width="1.02" fill="none" shape-rendering="crispEdges"/>
<path d="M196.5 1583V1584M259.5 1583V1584M298.5 1583V1585M314.5 1583V1584M321.5 1583V1584M331.5 1583V1584M334.5 1583V1584M338.5 1583V1584M389.5 1583V1585M425.5 1583V1584M426.5 1583V1586M435.5 1583V1584M443.5 1583V1585M451.5 1583V1586M455.5 1583V1584M475.5 1583V1585M483.5 1583V1585M485.5 1583V1587M508.5 1583V1586M509.5 1583V1585M514.5 1583V1584M516.5 1583V1586M519.5 1583V1588M526.5 1583V1586M530.5 1583V1585M538.5 1583V1584M568.5 1583V1586M571.5 1583V1587M575.5 1583V1590M578.5 1583V1586M611.5 1583V1584M649.5 1583V1593M655.5 1583V1587M656.5 1583V1594M657.5 1583V1587M664.5 1583V1586M667.5 1583V1590M672.5 1583V1592M675.5 1583V1584M677.5 1583V1588M678.5 1583V1591M679.5 1583V1593M684.5 1583V1587M687.5 1583V1587M688.5 1583V1584M696.5 1583V1589M710.5 1583V1593M716.5 1583V1584M719.5 1583V1588M721.5 1583V1586M726.5 1583V1592M728.5 1583V1594M736.5 1583V1586M738.5 1583V1588M755.5 1583V1587M761.5 1583V1588M768.5 1583V1586M772.5 1583V1592M784.5 1583V1594M796.5 1583V1589M798.5 1583V1588M819.5 1583V1589M828.5 1583V1585M841.5 1583V1597M855.5 1583V1588M863.5 1583V1593M864.5 1583V1589M867.5 1583V1594M873.5 1583V1587M876.5 1583V1587M885.5 1583V1585M886.5 1583V1599M889.5 1583V1586M902.5 1583V1593M922.5 1583V1592M923.5 1583V1596M950.5 1583V1590M959.5 1583V1591M960.5 1583V1597M972.5 1583V1586M991.5 1583V1587M1001.5 1583V1595M1009.5 1583V1585M1012.5 1583V1605M1014.5 1583V1588M1014.5 1611V1623M1016.5 1611V1623M1019.5 1583V1587M1019.5 1610V1624M1036.5 1583V1606M1037.5 1583V1596M1042.5 1611V1612M1045.5 1583V1585M1048.5 1583V1591M1053.5 1583V1613M1054.5 1583V1609M1056.5 1583V1584M1056.5 1612V1624M1060.5 1615V1622M1066.5 1583V1584M1071.5 1583V1586M1072.5 1616V1628M1074.5 1615V1629M1080.5 1614V1621M1088.5 1617V1624M1096.5 1617V1625M1097.5 1583V1612M1103.5 1618V1622M1104.5 1583V1608M1105.5 1583V1601M1110.5 1583V1596M1114.5 1618V1629M1115.5 1583V1585M1117.5 1583V1586M1118.5 1618V1631M1122.5 1583V1613M1123.5 1583V1585M1123.5 1618V1622M1124.5 1617V1618M1128.5 1618V1619M1129.5 1583V1588M1129.5 1618V1631M1130.5 1583V1587M1130.5 1618V1627M1132.5 1583V1613M1134.5 1583V1598M1135.5 1583V1600M1139.5 1620V1628M1142.5 1583V1587M1144.5 1583V1605M1147.5 1583V1618M1150.5 1621V1622M1153.5 1622V1630M1162.5 1621V1627M1166.5 1624V1637M1169.5 1583V1597M1169.5 1622V1625M1170.5 1622V1629M1173.5 1623V1627M1180.5 1626V1632M1181.5 1583V1607M1181.5 1625V1635M1185.5 1583V1593M1186.5 1624V1632M1188.5 1583V1603M1189.5 1626V1631M1194.5 1626V1629M1195.5 1627V1633M1199.5 1626V1639M1202.5 1627V1633M1203.5 1583V1605M1208.5 1583V1616M1208.5 1627V1634M1212.5 1583V1591M1213.5 1631V1643M1216.5 1583V1612M1220.5 1583V1619M1223.5 1631V1645M1226.5 1631V1635M1229.5 1583V1620M1234.5 1583V1621M1235.5 1583V1590M1240.5 1637V1644M1243.5 1583V1591M1243.5 1638V1643M1244.5 1636V1639M1247.5 1583V1631M1247.5 1639V1643M1249.5 1583V1589M1250.5 1583V1621M1254.5 1583V1587M1257.5 1583V1590M1257.5 1643V1647M1258.5 1583V1616M1263.5 1647V1656M1271.5 1583V1626M1271.5 1651V1661M1272.5 1583V1593M1272.5 1650V1662M1276.5 1583V1605M1277.5 1652V1656M1282.5 1583V1624M1285.5 1660V1671M1287.5 1663V1671M1288.5 1583V1634M1290.5 1583V1589M1293.5 1583V1629M1293.5 1671V1678M1299.5 1680V1694M1301.5 1684V1692M1305.5 1690V1693M1309.5 1583V1639M1313.5 1583V1595M1352.5 1583V1650M1363.5 1583V1617M1365.5 1583V1612M1372.5 1583V1601M1373.5 1583V1601M1384.5 1583V1585" stroke="#f3921f" stroke-width="1.02" fill="none" shape-rendering="crispEdges"/>
<path d="M211.5 1583V1584M303.5 1583V1584M313.5 1583V1585M316.5 1583V1585M324.5 1583V1584M325.5 1583V1584M359.5 1583V1584M391.5 1583V1585M397.5 1583V1585M404.5 1583V1585M410.5 1583V1585M418.5 1583V1584M419.5 1583V1584M420.5 1583V1584M423.5 1583V1586M424.5 1583V1584M427.5 1583V1586M434.5 1583V1587M439.5 1583V1585M441.5 1583V1585M448.5 1583V1586M460.5 1583V1584M462.5 1583V1585M466.5 1583V1587M471.5 1583V1585M474.5 1583V1584M477.5 1583V1585M482.5 1583V1585M505.5 1583V1585M521.5 1583V1588M539.5 1583V1584M549.5 1583V1588M551.5 1583V1588M552.5 1583V1588M553.5 1583V1587M558.5 1583V1588M567.5 1583V1587M574.5 1583V1585M586.5 1583V1584M590.5 1583V1589M591.5 1583V1586M613.5 1583V1584M632.5 1583V1592M633.5 1583V1586M634.5 1583V1584M642.5 1583V1586M645.5 1583V1591M651.5 1583V1591M674.5 1583V1585M681.5 1583V1593M685.5 1583V1595M715.5 1583V1585M730.5 1583V1590M735.5 1583V1588M746.5 1583V1585M759.5 1583V1587M764.5 1583V1584M766.5 1583V1589M767.5 1583V1584M769.5 1583V1586M783.5 1583V1597M791.5 1583V1597M801.5 1583V1593M805.5 1583V1592M824.5 1583V1584M829.5 1583V1597M831.5 1583V1584M842.5 1583V1589M852.5 1583V1588M862.5 1583V1586M870.5 1583V1595M892.5 1583V1602M899.5 1583V1590M912.5 1583V1589M925.5 1583V1605M927.5 1583V1598M931.5 1583V1585M940.5 1583V1591M942.5 1583V1603M964.5 1583V1588M969.5 1583V1606M1049.5 1583V1590M1051.5 1583V1600M1063.5 1583V1607M1072.5 1583V1614M1074.5 1583V1602M1077.5 1583V1610M1082.5 1583V1597M1092.5 1583V1595M1100.5 1583V1600M1113.5 1583V1595M1131.5 1583V1595M1146.5 1583V1595M1164.5 1583V1612M1170.5 1583V1584M1180.5 1583V1597M1182.5 1583V1593M1183.5 1583V1599M1184.5 1583V1616M1201.5 1583V1605M1217.5 1583V1611M1223.5 1583V1616M1268.5 1583V1604M1269.5 1583V1614M1275.5 1583V1607M1296.5 1583V1618M1308.5 1583V1664M1310.5 1583V1624M1317.5 1583V1627M1318.5 1583V1652M1331.5 1583V1679M1343.5 1583V1667M1345.5 1583V1605M1351.5 1583V1594M1357.5 1583V1629" stroke="#3a7e3a" stroke-width="1.02" fill="none" shape-rendering="crispEdges"/>
<path d="M232.5 1583V1584M242.5 1583V1584M267.5 1583V1585M268.5 1583V1584M270.5 1583V1584M271.5 1583V1584M283.5 1583V1584M311.5 1583V1585M335.5 1583V1584M383.5 1583V1584M392.5 1583V1585M416.5 1583V1584M431.5 1583V1585M438.5 1583V1584M442.5 1583V1584M444.5 1583V1584M457.5 1583V1585M467.5 1583V1585M469.5 1583V1586M473.5 1583V1586M476.5 1583V1586M489.5 1583V1587M501.5 1583V1585M502.5 1583V1585M507.5 1583V1586M510.5 1583V1588M513.5 1583V1587M517.5 1583V1587M523.5 1583V1585M525.5 1583V1589M528.5 1583V1584M535.5 1583V1587M550.5 1583V1587M554.5 1583V1586M569.5 1583V1587M572.5 1583V1589M598.5 1583V1585M603.5 1583V1589M604.5 1583V1584M606.5 1583V1589M607.5 1583V1586M614.5 1583V1588M615.5 1583V1591M617.5 1583V1587M630.5 1583V1586M635.5 1583V1587M640.5 1583V1592M644.5 1583V1584M646.5 1583V1591M650.5 1583V1588M671.5 1583V1588M682.5 1583V1593M692.5 1583V1588M703.5 1583V1595M708.5 1583V1584M711.5 1583V1594M713.5 1583V1584M723.5 1583V1592M729.5 1583V1590M731.5 1583V1596M740.5 1583V1592M744.5 1583V1594M749.5 1583V1594M750.5 1583V1591M752.5 1583V1586M776.5 1583V1590M787.5 1583V1595M804.5 1583V1589M817.5 1583V1598M827.5 1583V1598M830.5 1583V1584M839.5 1583V1584M861.5 1583V1589M865.5 1583V1596M878.5 1583V1598M879.5 1583V1588M887.5 1583V1587M891.5 1583V1601M898.5 1583V1590M903.5 1583V1598M906.5 1583V1586M908.5 1583V1587M910.5 1583V1588M918.5 1583V1597M920.5 1583V1591M926.5 1583V1595M933.5 1583V1594M939.5 1583V1602M944.5 1583V1590M951.5 1583V1597M958.5 1583V1606M968.5 1583V1605M971.5 1583V1596M973.5 1583V1599M977.5 1583V1603M980.5 1583V1593M981.5 1583V1602M983.5 1583V1597M989.5 1583V1598M992.5 1583V1598M994.5 1583V1593M996.5 1583V1601M1003.5 1583V1601M1005.5 1583V1588M1008.5 1583V1591M1010.5 1583V1593M1011.5 1610V1613M1013.5 1583V1584M1017.5 1583V1601M1017.5 1610V1621M1022.5 1611V1617M1025.5 1583V1590M1026.5 1612V1616M1032.5 1611V1612M1038.5 1612V1622M1041.5 1583V1604M1041.5 1614V1624M1043.5 1583V1599M1052.5 1613V1625M1059.5 1614V1620M1061.5 1583V1596M1061.5 1614V1626M1077.5 1616V1627M1078.5 1583V1588M1079.5 1614V1628M1081.5 1583V1610M1081.5 1617V1627M1083.5 1615V1626M1085.5 1583V1584M1090.5 1583V1609M1094.5 1583V1605M1096.5 1583V1584M1099.5 1616V1623M1102.5 1583V1584M1103.5 1583V1614M1108.5 1583V1611M1109.5 1616V1623M1112.5 1583V1586M1116.5 1617V1623M1117.5 1617V1630M1125.5 1620V1624M1126.5 1619V1632M1127.5 1583V1588M1136.5 1583V1597M1142.5 1621V1623M1143.5 1583V1603M1148.5 1622V1624M1149.5 1583V1590M1155.5 1583V1618M1161.5 1583V1593M1164.5 1623V1625M1165.5 1583V1588M1167.5 1583V1616M1168.5 1623V1627M1174.5 1583V1606M1177.5 1625V1632M1187.5 1583V1601M1187.5 1625V1628M1188.5 1624V1630M1190.5 1625V1627M1193.5 1583V1625M1196.5 1627V1628M1197.5 1628V1640M1199.5 1583V1602M1200.5 1583V1610M1200.5 1628V1634M1204.5 1583V1587M1215.5 1630V1633M1216.5 1629V1636M1218.5 1583V1602M1222.5 1583V1626M1222.5 1630V1642M1224.5 1583V1624M1225.5 1583V1596M1226.5 1583V1617M1230.5 1583V1621M1232.5 1634V1636M1233.5 1634V1638M1235.5 1635V1642M1237.5 1583V1607M1242.5 1636V1642M1251.5 1639V1653M1256.5 1583V1595M1258.5 1644V1654M1264.5 1583V1588M1266.5 1583V1595M1276.5 1652V1657M1280.5 1583V1605M1280.5 1655V1668M1284.5 1583V1631M1287.5 1583V1613M1288.5 1665V1672M1290.5 1665V1677M1291.5 1668V1679M1292.5 1583V1585M1298.5 1679V1681M1300.5 1583V1644M1304.5 1583V1628M1304.5 1688V1692M1309.5 1699V1706M1312.5 1583V1633M1316.5 1583V1656M1324.5 1583V1613M1326.5 1583V1693M1327.5 1583V1593M1358.5 1583V1642M1364.5 1583V1595M1369.5 1583V1618M1371.5 1583V1599M1375.5 1583V1608M1377.5 1583V1596M1382.5 1583V1593" stroke="#a8822c" stroke-width="1.02" fill="none" shape-rendering="crispEdges"/>
<path d="M287.5 1583V1584M340.5 1583V1584M367.5 1583V1585M371.5 1583V1584M413.5 1583V1584M428.5 1583V1586M436.5 1583V1584M515.5 1583V1584M566.5 1583V1588M582.5 1583V1587M608.5 1583V1586M621.5 1583V1585M652.5 1583V1586M653.5 1583V1586M665.5 1583V1584M691.5 1583V1590M753.5 1583V1584M777.5 1583V1589M782.5 1583V1588M790.5 1583V1590M800.5 1583V1589M814.5 1583V1589M832.5 1583V1585M838.5 1583V1586M848.5 1583V1584M874.5 1583V1585M882.5 1583V1589M962.5 1583V1605M965.5 1583V1603M987.5 1583V1608M988.5 1583V1592M1004.5 1583V1608M1029.5 1583V1610M1039.5 1583V1599M1047.5 1583V1613M1059.5 1583V1602M1060.5 1583V1587M1087.5 1583V1605M1111.5 1583V1586M1116.5 1583V1596M1139.5 1583V1584M1152.5 1583V1587M1154.5 1583V1594M1156.5 1583V1594M1166.5 1583V1616M1177.5 1583V1618M1209.5 1583V1595M1240.5 1583V1591M1270.5 1583V1627M1277.5 1583V1622M1298.5 1583V1597M1314.5 1583V1585M1336.5 1583V1616M1337.5 1583V1598M1381.5 1583V1584" stroke="#187444" stroke-width="1.02" fill="none" shape-rendering="crispEdges"/>
<path d="M295.5 1851V1852M343.5 1851V1852M345.5 1850V1852M378.5 1851V1852M382.5 1851V1852M390.5 1850V1852M409.5 1851V1852M415.5 1851V1852M425.5 1851V1852M429.5 1851V1852M442.5 1850V1852M466.5 1850V1852M482.5 1850V1852M510.5 1847V1852M523.5 1849V1852M543.5 1850V1852M545.5 1848V1852M559.5 1848V1852M562.5 1847V1852M565.5 1846V1852M566.5 1846V1852M573.5 1845V1852M605.5 1851V1852M616.5 1851V1852M621.5 1851V1852M622.5 1851V1852M633.5 1847V1852M636.5 1845V1852M650.5 1843V1852M670.5 1847V1852M689.5 1839V1852M713.5 1849V1852M714.5 1851V1852M724.5 1842V1852M728.5 1849V1852M735.5 1849V1852M739.5 1838V1852M752.5 1840V1852M753.5 1838V1852M762.5 1845V1852M770.5 1842V1852M772.5 1849V1852M780.5 1840V1852M782.5 1843V1852M786.5 1845V1852M792.5 1836V1852M811.5 1838V1852M814.5 1847V1852M837.5 1840V1852M849.5 1844V1852M857.5 1844V1852M863.5 1837V1852M869.5 1848V1852M889.5 1851V1852M897.5 1845V1852M905.5 1843V1852M910.5 1838V1852M924.5 1844V1852M933.5 1851V1852M942.5 1830V1852M958.5 1844V1852M967.5 1849V1852M980.5 1829V1852M986.5 1828V1852M1005.5 1836V1852M1007.5 1837V1852M1019.5 1838V1852M1022.5 1850V1852M1030.5 1841V1852M1031.5 1831V1852M1032.5 1847V1852M1037.5 1822V1852M1047.5 1836V1852M1050.5 1822V1852M1054.5 1840V1852M1058.5 1824V1852M1090.5 1844V1852M1101.5 1841V1852M1107.5 1825V1852M1121.5 1835V1852M1122.5 1826V1852M1133.5 1826V1852M1144.5 1844V1852M1146.5 1844V1852M1158.5 1834V1852M1177.5 1815V1852M1178.5 1845V1852M1185.5 1824V1852M1188.5 1843V1852M1208.5 1834V1852M1213.5 1817V1852M1222.5 1813V1852M1225.5 1807V1852M1237.5 1812V1852M1247.5 1794V1852M1252.5 1813V1852M1263.5 1802V1852M1273.5 1846V1852M1275.5 1793V1852M1277.5 1824V1852M1280.5 1847V1852M1282.5 1818V1852M1284.5 1837V1852M1289.5 1830V1852M1291.5 1820V1852M1305.5 1835V1852M1308.5 1804V1852M1311.5 1815V1852M1312.5 1823V1852M1334.5 1836V1852M1335.5 1807V1852M1337.5 1845V1852M1347.5 1807V1852M1354.5 1812V1852M1383.5 1832V1852" stroke="#d2686e" stroke-width="1.02" fill="none" shape-rendering="crispEdges"/>
<path d="M299.5 1851V1852M320.5 1851V1852M339.5 1850V1852M357.5 1851V1852M392.5 1851V1852M395.5 1849V1852M396.5 1850V1852M399.5 1851V1852M400.5 1850V1852M401.5 1849V1852M402.5 1851V1852M403.5 1850V1852M407.5 1850V1852M420.5 1851V1852M432.5 1848V1852M437.5 1851V1852M441.5 1849V1852M444.5 1849V1852M445.5 1849V1852M452.5 1848V1852M455.5 1850V1852M468.5 1850V1852M474.5 1851V1852M477.5 1851V1852M490.5 1851V1852M497.5 1851V1852M500.5 1848V1852M501.5 1851V1852M504.5 1851V1852M508.5 1847V1852M512.5 1851V1852M517.5 1851V1852M524.5 1849V1852M526.5 1851V1852M527.5 1849V1852M533.5 1848V1852M535.5 1849V1852M549.5 1847V1852M557.5 1845V1852M567.5 1844V1852M568.5 1846V1852M569.5 1845V1852M575.5 1847V1852M577.5 1847V1852M579.5 1848V1852M589.5 1846V1852M590.5 1850V1852M606.5 1846V1852M609.5 1850V1852M615.5 1850V1852M630.5 1844V1852M639.5 1846V1852M644.5 1851V1852M683.5 1849V1852M698.5 1849V1852M702.5 1847V1852M703.5 1843V1852M709.5 1839V1852M712.5 1842V1852M721.5 1843V1852M731.5 1842V1852M732.5 1848V1852M741.5 1851V1852M747.5 1837V1852M748.5 1838V1852M774.5 1849V1852M778.5 1841V1852M779.5 1836V1852M781.5 1837V1852M789.5 1839V1852M796.5 1837V1852M799.5 1845V1852M808.5 1850V1852M816.5 1843V1852M821.5 1836V1852M822.5 1843V1852M835.5 1840V1852M845.5 1842V1852M846.5 1849V1852M858.5 1849V1852M862.5 1833V1852M864.5 1834V1852M868.5 1832V1852M875.5 1840V1852M882.5 1840V1852M886.5 1834V1852M887.5 1833V1852M901.5 1839V1852M902.5 1834V1852M903.5 1832V1852M909.5 1835V1852M913.5 1845V1852M925.5 1830V1852M926.5 1836V1852M932.5 1840V1852M935.5 1838V1852M936.5 1833V1852M947.5 1830V1852M955.5 1830V1852M959.5 1849V1852M962.5 1847V1852M968.5 1835V1852M971.5 1850V1852M973.5 1831V1852M979.5 1829V1852M997.5 1832V1852M1012.5 1831V1852M1014.5 1846V1852M1021.5 1833V1852M1027.5 1840V1852M1033.5 1825V1852M1034.5 1851V1852M1035.5 1826V1852M1038.5 1827V1852M1045.5 1839V1852M1056.5 1836V1852M1060.5 1848V1852M1065.5 1843V1852M1066.5 1842V1852M1071.5 1848V1852M1075.5 1846V1852M1085.5 1832V1852M1092.5 1832V1852M1109.5 1829V1852M1151.5 1831V1852M1157.5 1826V1852M1161.5 1818V1852M1170.5 1819V1852M1181.5 1828V1852M1182.5 1835V1852M1187.5 1819V1852M1191.5 1844V1852M1194.5 1849V1852M1197.5 1813V1852M1202.5 1817V1852M1205.5 1841V1852M1212.5 1821V1852M1214.5 1807V1852M1218.5 1822V1852M1221.5 1811V1852M1224.5 1806V1852M1227.5 1843V1852M1230.5 1831V1852M1238.5 1837V1852M1260.5 1851V1852M1265.5 1797V1852M1276.5 1794V1852M1283.5 1843V1852M1285.5 1826V1852M1290.5 1794V1852M1292.5 1830V1852M1294.5 1817V1852M1296.5 1818V1852M1316.5 1829V1852M1327.5 1844V1852M1333.5 1818V1852M1352.5 1820V1852M1361.5 1818V1852M1364.5 1845V1852M1369.5 1849V1852M1373.5 1811V1852M1376.5 1834V1852M1378.5 1803V1852" stroke="#6a3ca2" stroke-width="1.02" fill="none" shape-rendering="crispEdges"/>
<path d="M305.5 1851V1852M364.5 1851V1852M431.5 1850V1852M435.5 1850V1852M443.5 1851V1852M461.5 1850V1852M494.5 1851V1852M506.5 1851V1852M513.5 1849V1852M519.5 1847V1852M540.5 1847V1852M558.5 1847V1852M571.5 1851V1852M576.5 1850V1852M578.5 1848V1852M587.5 1845V1852M592.5 1846V1852M608.5 1847V1852M638.5 1843V1852M640.5 1843V1852M642.5 1842V1852M646.5 1844V1852M651.5 1844V1852M653.5 1848V1852M664.5 1841V1852M669.5 1849V1852M675.5 1850V1852M697.5 1845V1852M707.5 1843V1852M716.5 1843V1852M718.5 1848V1852M720.5 1840V1852M725.5 1842V1852M795.5 1847V1852M826.5 1847V1852M829.5 1851V1852M850.5 1842V1852M852.5 1849V1852M859.5 1846V1852M860.5 1835V1852M861.5 1844V1852M893.5 1834V1852M918.5 1835V1852M923.5 1851V1852M934.5 1848V1852M937.5 1842V1852M944.5 1851V1852M953.5 1847V1852M966.5 1848V1852M970.5 1845V1852M990.5 1839V1852M1003.5 1827V1852M1006.5 1836V1852M1011.5 1826V1852M1016.5 1845V1852M1028.5 1848V1852M1041.5 1843V1852M1044.5 1829V1852M1064.5 1849V1852M1069.5 1831V1852M1077.5 1846V1852M1079.5 1843V1852M1084.5 1848V1852M1094.5 1832V1852M1099.5 1833V1852M1118.5 1831V1852M1124.5 1836V1852M1130.5 1836V1852M1163.5 1827V1852M1179.5 1841V1852M1190.5 1851V1852M1193.5 1842V1852M1229.5 1804V1852M1234.5 1810V1852M1257.5 1851V1852M1261.5 1827V1852M1295.5 1841V1852M1310.5 1809V1852M1313.5 1830V1852M1314.5 1844V1852M1315.5 1835V1852M1322.5 1831V1852M1353.5 1834V1852M1363.5 1835V1852M1372.5 1844V1852M1384.5 1834V1852M1385.5 1834V1852" stroke="#30349a" stroke-width="1.02" fill="none" shape-rendering="crispEdges"/>
<path d="M308.5 1851V1852M317.5 1851V1852M323.5 1851V1852M334.5 1850V1852M358.5 1850V1852M371.5 1850V1852M374.5 1850V1852M383.5 1851V1852M388.5 1849V1852M394.5 1851V1852M398.5 1851V1852M406.5 1850V1852M408.5 1851V1852M410.5 1850V1852M411.5 1849V1852M412.5 1851V1852M413.5 1851V1852M414.5 1851V1852M418.5 1850V1852M424.5 1850V1852M426.5 1850V1852M433.5 1851V1852M434.5 1850V1852M438.5 1849V1852M446.5 1849V1852M448.5 1850V1852M449.5 1849V1852M453.5 1849V1852M456.5 1850V1852M457.5 1850V1852M459.5 1851V1852M462.5 1848V1852M464.5 1848V1852M465.5 1851V1852M469.5 1848V1852M479.5 1849V1852M481.5 1850V1852M488.5 1850V1852M495.5 1848V1852M502.5 1850V1852M514.5 1850V1852M515.5 1850V1852M516.5 1847V1852M518.5 1850V1852M520.5 1847V1852M521.5 1850V1852M528.5 1849V1852M531.5 1851V1852M532.5 1850V1852M534.5 1850V1852M536.5 1847V1852M538.5 1849V1852M539.5 1845V1852M541.5 1846V1852M546.5 1850V1852M547.5 1847V1852M548.5 1849V1852M551.5 1849V1852M552.5 1849V1852M553.5 1851V1852M554.5 1847V1852M556.5 1848V1852M560.5 1848V1852M563.5 1849V1852M564.5 1848V1852M570.5 1845V1852M572.5 1848V1852M582.5 1851V1852M583.5 1844V1852M584.5 1843V1852M586.5 1851V1852M588.5 1850V1852M591.5 1849V1852M593.5 1847V1852M597.5 1846V1852M599.5 1849V1852M600.5 1846V1852M603.5 1851V1852M607.5 1849V1852M611.5 1850V1852M614.5 1851V1852M620.5 1845V1852M623.5 1846V1852M624.5 1851V1852M626.5 1850V1852M627.5 1848V1852M628.5 1846V1852M629.5 1850V1852M632.5 1844V1852M634.5 1844V1852M643.5 1851V1852M645.5 1843V1852M648.5 1846V1852M649.5 1845V1852M652.5 1849V1852M655.5 1846V1852M656.5 1849V1852M657.5 1851V1852M659.5 1846V1852M660.5 1848V1852M661.5 1843V1852M662.5 1849V1852M665.5 1845V1852M673.5 1849V1852M676.5 1843V1852M677.5 1846V1852M679.5 1844V1852M681.5 1842V1852M682.5 1841V1852M685.5 1847V1852M691.5 1850V1852M693.5 1842V1852M696.5 1841V1852M700.5 1845V1852M701.5 1841V1852M704.5 1846V1852M706.5 1847V1852M717.5 1846V1852M722.5 1839V1852M723.5 1845V1852M726.5 1848V1852M729.5 1850V1852M736.5 1846V1852M738.5 1840V1852M740.5 1844V1852M742.5 1837V1852M743.5 1848V1852M744.5 1847V1852M749.5 1846V1852M750.5 1841V1852M751.5 1841V1852M755.5 1851V1852M757.5 1840V1852M759.5 1837V1852M761.5 1846V1852M764.5 1849V1852M766.5 1851V1852M769.5 1851V1852M775.5 1843V1852M777.5 1847V1852M784.5 1850V1852M785.5 1839V1852M787.5 1842V1852M791.5 1838V1852M793.5 1845V1852M794.5 1837V1852M798.5 1850V1852M801.5 1842V1852M802.5 1839V1852M804.5 1848V1852M807.5 1839V1852M809.5 1846V1852M810.5 1836V1852M815.5 1846V1852M817.5 1839V1852M819.5 1844V1852M823.5 1845V1852M824.5 1842V1852M827.5 1842V1852M828.5 1836V1852M830.5 1850V1852M831.5 1851V1852M832.5 1851V1852M834.5 1847V1852M836.5 1843V1852M839.5 1847V1852M842.5 1851V1852M844.5 1834V1852M847.5 1846V1852M856.5 1839V1852M865.5 1834V1852M866.5 1843V1852M867.5 1839V1852M870.5 1840V1852M872.5 1847V1852M883.5 1840V1852M884.5 1834V1852M885.5 1840V1852M891.5 1850V1852M892.5 1851V1852M894.5 1831V1852M895.5 1843V1852M896.5 1836V1852M900.5 1838V1852M904.5 1835V1852M906.5 1834V1852M908.5 1851V1852M927.5 1850V1852M929.5 1830V1852M938.5 1848V1852M943.5 1836V1852M945.5 1850V1852M951.5 1827V1852M954.5 1835V1852M961.5 1831V1852M963.5 1846V1852M969.5 1837V1852M972.5 1845V1852M975.5 1850V1852M976.5 1830V1852M981.5 1830V1852M982.5 1827V1852M987.5 1827V1852M988.5 1837V1852M989.5 1836V1852M991.5 1846V1852M993.5 1837V1852M995.5 1835V1852M996.5 1847V1852M1000.5 1834V1852M1001.5 1843V1852M1002.5 1832V1852M1008.5 1825V1852M1009.5 1848V1852M1010.5 1839V1852M1017.5 1844V1852M1020.5 1828V1852M1023.5 1826V1852M1024.5 1851V1852M1029.5 1835V1852M1036.5 1849V1852M1043.5 1836V1852M1046.5 1823V1852M1048.5 1835V1852M1049.5 1824V1852M1052.5 1829V1852M1053.5 1851V1852M1059.5 1828V1852M1061.5 1844V1852M1063.5 1847V1852M1067.5 1831V1852M1073.5 1849V1852M1074.5 1838V1852M1076.5 1848V1852M1080.5 1831V1852M1083.5 1835V1852M1086.5 1846V1852M1088.5 1842V1852M1097.5 1841V1852M1104.5 1839V1852M1106.5 1823V1852M1108.5 1831V1852M1110.5 1837V1852M1112.5 1829V1852M1113.5 1837V1852M1117.5 1842V1852M1119.5 1840V1852M1123.5 1822V1852M1125.5 1823V1852M1126.5 1850V1852M1127.5 1829V1852M1131.5 1831V1852M1134.5 1837V1852M1136.5 1819V1852M1139.5 1824V1852M1141.5 1833V1852M1143.5 1821V1852M1145.5 1823V1852M1148.5 1830V1852M1149.5 1820V1852M1156.5 1832V1852M1159.5 1844V1852M1160.5 1845V1852M1164.5 1847V1852M1165.5 1831V1852M1166.5 1851V1852M1167.5 1822V1852M1168.5 1848V1852M1169.5 1818V1852M1171.5 1839V1852M1175.5 1826V1852M1183.5 1815V1852M1186.5 1841V1852M1189.5 1848V1852M1199.5 1848V1852M1204.5 1831V1852M1209.5 1835V1852M1210.5 1830V1852M1216.5 1801V1852M1217.5 1838V1852M1231.5 1814V1852M1232.5 1834V1852M1235.5 1848V1852M1236.5 1839V1852M1239.5 1824V1852M1242.5 1803V1852M1243.5 1818V1852M1245.5 1841V1852M1246.5 1848V1852M1250.5 1805V1852M1253.5 1838V1852M1254.5 1830V1852M1256.5 1800V1852M1259.5 1829V1852M1267.5 1846V1852M1269.5 1797V1852M1270.5 1810V1852M1271.5 1829V1852M1278.5 1810V1852M1281.5 1805V1852M1286.5 1805V1852M1287.5 1800V1852M1288.5 1828V1852M1299.5 1846V1852M1300.5 1810V1852M1301.5 1838V1852M1304.5 1848V1852M1306.5 1826V1852M1307.5 1849V1852M1309.5 1825V1852M1320.5 1819V1852M1321.5 1842V1852M1323.5 1829V1852M1326.5 1804V1852M1329.5 1842V1852M1332.5 1802V1852M1338.5 1806V1852M1341.5 1842V1852M1342.5 1812V1852M1344.5 1802V1852M1345.5 1834V1852M1346.5 1808V1852M1349.5 1826V1852M1350.5 1808V1852M1351.5 1805V1852M1355.5 1819V1852M1360.5 1848V1852M1368.5 1822V1852M1371.5 1831V1852M1375.5 1842V1852M1377.5 1814V1852M1381.5 1846V1852M1382.5 1848V1852" stroke="#bc3ea0" stroke-width="1.02" fill="none" shape-rendering="crispEdges"/>
<path d="M1004.5 1611V1623M1005.5 1611V1618M1010.5 1611V1619M1021.5 1610V1615M1024.5 1610V1613M1025.5 1610V1622M1028.5 1611V1622M1040.5 1612V1626M1047.5 1613V1616M1050.5 1612V1624M1054.5 1614V1626M1084.5 1616V1624M1086.5 1616V1622M1091.5 1616V1618M1107.5 1618V1622M1110.5 1616V1619M1115.5 1618V1623M1120.5 1618V1629M1121.5 1619V1624M1134.5 1618V1632M1140.5 1619V1628M1141.5 1620V1628M1152.5 1621V1624M1155.5 1622V1635M1167.5 1624V1636M1193.5 1627V1629M1198.5 1627V1640M1212.5 1630V1640M1227.5 1633V1644M1229.5 1631V1632M1246.5 1639V1646M1260.5 1646V1650M1266.5 1647V1649M1282.5 1657V1669M1302.5 1686V1695M1307.5 1693V1697M1308.5 1697V1700M1311.5 1704V1717" stroke="#8a8438" stroke-width="1.02" fill="none" shape-rendering="crispEdges"/>
<path d="M299.5 1851V1852M329.5 1851V1852M357.5 1850V1852M406.5 1849V1852M409.5 1851V1852M417.5 1850V1852M432.5 1851V1852M485.5 1849V1852M512.5 1850V1852M521.5 1847V1852M549.5 1851V1852M559.5 1850V1852M561.5 1847V1850M567.5 1851V1852M573.5 1851V1852M575.5 1848V1852M586.5 1851V1852M600.5 1851V1852M603.5 1850V1852M608.5 1845V1852M616.5 1851V1852M641.5 1851V1852M661.5 1843V1852M672.5 1848V1852M688.5 1847V1850M689.5 1844V1847M691.5 1850V1852M699.5 1845V1852M722.5 1849V1852M733.5 1842V1850M759.5 1840V1845M762.5 1844V1852M779.5 1842V1852M787.5 1838V1848M819.5 1841V1847M838.5 1843V1849M850.5 1842V1847M869.5 1849V1852M877.5 1842V1852M905.5 1845V1852M916.5 1841V1852M935.5 1829V1842M936.5 1850V1852M937.5 1835V1846M948.5 1837V1850M964.5 1850V1852M992.5 1834V1840M998.5 1837V1848M1001.5 1834V1839M1023.5 1833V1836M1039.5 1851V1852M1043.5 1844V1851M1053.5 1827V1831M1069.5 1828V1831M1080.5 1829V1841M1085.5 1819V1823M1109.5 1851V1852M1155.5 1842V1850M1156.5 1846V1852M1162.5 1812V1822M1180.5 1832V1836M1199.5 1825V1832M1200.5 1829V1832M1203.5 1828V1836M1204.5 1842V1850M1235.5 1820V1825M1246.5 1804V1807M1271.5 1838V1841M1276.5 1816V1824M1301.5 1810V1825M1314.5 1822V1836M1315.5 1795V1800M1325.5 1845V1849M1360.5 1751V1765M1362.5 1834V1837" stroke="#ee962c" stroke-width="1.02" fill="none" shape-rendering="crispEdges"/>
<path d="M323.5 1851V1852M359.5 1851V1852M366.5 1850V1852M380.5 1851V1852M419.5 1849V1852M449.5 1851V1852M453.5 1847V1852M455.5 1850V1852M461.5 1850V1852M469.5 1848V1852M489.5 1849V1852M516.5 1847V1852M519.5 1850V1852M546.5 1849V1852M552.5 1846V1851M576.5 1851V1852M583.5 1850V1852M596.5 1847V1852M602.5 1851V1852M610.5 1846V1852M618.5 1850V1852M620.5 1850V1852M635.5 1850V1852M643.5 1846V1850M670.5 1849V1852M696.5 1840V1852M706.5 1843V1847M736.5 1841V1843M748.5 1839V1849M753.5 1845V1852M782.5 1841V1846M783.5 1842V1852M797.5 1850V1852M810.5 1844V1852M820.5 1836V1849M831.5 1839V1852M837.5 1851V1852M860.5 1847V1852M871.5 1839V1844M900.5 1839V1852M921.5 1848V1852M952.5 1829V1837M983.5 1827V1836M1064.5 1836V1840M1071.5 1834V1840M1078.5 1851V1852M1081.5 1822V1830M1084.5 1845V1850M1097.5 1838V1852M1102.5 1832V1844M1116.5 1841V1847M1143.5 1820V1826M1153.5 1841V1852M1167.5 1845V1851M1183.5 1835V1843M1194.5 1829V1838M1213.5 1832V1839M1230.5 1836V1850M1233.5 1836V1839M1237.5 1843V1851M1248.5 1831V1836M1250.5 1830V1835M1273.5 1846V1852M1275.5 1787V1798M1289.5 1821V1829M1291.5 1785V1788M1346.5 1760V1763M1348.5 1667V1678M1364.5 1773V1779M1366.5 1827V1832M1380.5 1786V1788" stroke="#bc3ea0" stroke-width="1.02" fill="none" shape-rendering="crispEdges"/>
<path d="M343.5 1851V1852M351.5 1851V1852M364.5 1850V1852M407.5 1850V1852M433.5 1851V1852M458.5 1851V1852M460.5 1849V1852M476.5 1849V1852M488.5 1850V1852M496.5 1849V1852M497.5 1850V1852M505.5 1849V1852M507.5 1849V1852M510.5 1851V1852M513.5 1851V1852M517.5 1848V1852M525.5 1850V1852M526.5 1850V1852M555.5 1848V1852M604.5 1846V1852M628.5 1848V1852M629.5 1849V1852M662.5 1851V1852M684.5 1847V1852M686.5 1849V1852M698.5 1842V1852M700.5 1849V1852M703.5 1849V1852M737.5 1841V1852M743.5 1843V1850M747.5 1845V1851M777.5 1846V1852M781.5 1837V1842M792.5 1851V1852M796.5 1850V1852M800.5 1843V1852M827.5 1846V1852M829.5 1850V1852M835.5 1839V1844M840.5 1846V1852M847.5 1847V1850M879.5 1850V1852M887.5 1847V1852M908.5 1834V1842M945.5 1843V1849M954.5 1837V1846M1016.5 1826V1839M1024.5 1826V1833M1038.5 1825V1835M1044.5 1825V1837M1054.5 1848V1852M1072.5 1845V1852M1077.5 1851V1852M1090.5 1848V1852M1098.5 1832V1843M1110.5 1822V1826M1128.5 1845V1852M1141.5 1825V1840M1151.5 1835V1840M1157.5 1821V1834M1165.5 1830V1843M1168.5 1822V1825M1177.5 1816V1826M1179.5 1849V1851M1223.5 1821V1823M1224.5 1835V1843M1226.5 1828V1831M1240.5 1836V1839M1251.5 1804V1810M1258.5 1843V1848M1286.5 1790V1799M1312.5 1735V1743M1331.5 1730V1742M1334.5 1763V1770M1339.5 1692V1703M1359.5 1837V1846M1363.5 1656V1659M1381.5 1656V1660" stroke="#d2686e" stroke-width="1.02" fill="none" shape-rendering="crispEdges"/>
<path d="M360.5 1851V1852M388.5 1851V1852M393.5 1850V1852M415.5 1851V1852M441.5 1850V1852M445.5 1849V1852M514.5 1851V1852M527.5 1848V1852M529.5 1850V1852M530.5 1850V1852M543.5 1851V1852M551.5 1844V1850M553.5 1848V1852M564.5 1851V1852M592.5 1849V1852M625.5 1847V1852M667.5 1841V1852M716.5 1843V1847M725.5 1842V1852M752.5 1842V1850M754.5 1850V1852M772.5 1846V1851M778.5 1838V1843M798.5 1849V1852M806.5 1836V1843M807.5 1846V1850M825.5 1843V1852M832.5 1846V1852M849.5 1837V1845M880.5 1851V1852M883.5 1832V1836M892.5 1840V1852M893.5 1835V1845M907.5 1846V1852M910.5 1847V1852M929.5 1831V1837M973.5 1833V1837M976.5 1847V1851M977.5 1847V1852M986.5 1847V1849M1004.5 1834V1837M1018.5 1839V1848M1021.5 1843V1852M1034.5 1842V1852M1049.5 1851V1852M1051.5 1844V1851M1070.5 1843V1852M1086.5 1828V1836M1087.5 1821V1829M1088.5 1832V1843M1132.5 1835V1847M1158.5 1825V1836M1184.5 1815V1821M1202.5 1828V1843M1211.5 1840V1847M1242.5 1794V1801M1257.5 1820V1827M1262.5 1795V1805M1274.5 1825V1831M1280.5 1796V1808M1288.5 1774V1786M1311.5 1748V1760M1316.5 1718V1732M1320.5 1844V1852M1343.5 1725V1738M1344.5 1851V1852M1350.5 1698V1711M1355.5 1664V1675M1374.5 1781V1794" stroke="#30349a" stroke-width="1.02" fill="none" shape-rendering="crispEdges"/>
<polygon points="193.0,1583.0 198.1,1583.0 204.3,1583.0 212.1,1583.0 222.0,1583.1 234.5,1583.2 250.0,1583.3 269.0,1583.5 291.3,1583.6 316.1,1583.8 342.9,1584.1 371.0,1584.5 400.0,1585.0 430.4,1585.7 463.0,1586.6 496.9,1587.6 531.5,1588.7 566.1,1589.9 600.0,1591.0 634.1,1592.2 669.2,1593.4 704.3,1594.7 738.4,1596.0 770.6,1597.3 800.0,1598.5 825.9,1599.6 848.9,1600.7 870.1,1601.7 890.3,1602.7 910.5,1603.8 931.6,1605.0 954.0,1606.4 977.0,1607.9 1000.0,1609.4 1022.4,1611.0 1043.6,1612.5 1063.0,1613.9 1080.4,1615.2 1096.3,1616.3 1111.1,1617.4 1124.8,1618.6 1138.0,1619.7 1150.9,1621.0 1163.6,1622.4 1175.8,1623.9 1187.4,1625.4 1198.3,1627.0 1208.1,1628.5 1216.7,1630.0 1223.9,1631.4 1229.7,1632.7 1234.6,1634.0 1238.7,1635.3 1242.6,1636.6 1246.5,1638.0 1250.2,1639.4 1253.4,1640.8 1256.4,1642.2 1259.1,1643.7 1262.0,1645.3 1265.0,1647.0 1268.3,1648.7 1271.6,1650.2 1274.9,1651.9 1278.3,1653.8 1281.7,1656.3 1285.0,1659.3 1288.4,1663.3 1291.9,1668.2 1295.5,1673.5 1298.8,1678.8 1301.9,1683.9 1304.4,1688.2 1306.4,1691.8 1308.0,1695.1 1309.2,1698.1 1310.2,1700.7 1311.1,1703.0 1312.0,1705.0 1312.8,1706.6 1313.5,1707.7 1314.0,1708.5 1314.4,1709.1 1314.7,1709.6 1315.0,1710.0 1315.0,1710.0 1314.3,1711.8 1313.3,1714.3 1312.2,1717.2 1310.9,1720.4 1309.6,1723.7 1308.2,1726.8 1306.8,1729.8 1305.2,1733.0 1303.6,1736.2 1301.9,1739.4 1300.2,1742.7 1298.6,1746.1 1297.0,1749.6 1295.5,1753.4 1294.0,1757.2 1292.5,1760.9 1290.8,1764.4 1289.0,1767.4 1287.0,1769.9 1285.0,1772.1 1282.8,1773.9 1280.5,1775.6 1278.0,1777.3 1275.4,1779.0 1272.6,1780.7 1269.7,1782.3 1266.7,1783.9 1263.4,1785.5 1259.9,1787.0 1256.0,1788.6 1251.8,1790.2 1247.4,1791.9 1242.7,1793.5 1237.7,1795.1 1232.5,1796.7 1227.0,1798.2 1221.1,1799.6 1214.9,1801.0 1208.4,1802.3 1201.8,1803.5 1195.1,1804.8 1188.6,1806.0 1182.3,1807.2 1176.2,1808.3 1170.0,1809.4 1163.7,1810.5 1157.1,1811.6 1150.0,1812.7 1143.2,1813.8 1137.0,1814.9 1130.4,1816.0 1122.6,1817.1 1112.8,1818.2 1100.0,1819.3 1084.1,1820.4 1065.7,1821.4 1045.3,1822.5 1023.1,1823.6 999.6,1824.7 975.0,1826.0 949.0,1827.4 921.3,1829.0 892.2,1830.6 862.0,1832.3 831.2,1833.9 800.0,1835.4 768.1,1836.8 735.2,1838.3 701.6,1839.7 667.6,1841.0 633.6,1842.3 600.0,1843.5 566.0,1844.7 531.1,1845.8 496.2,1846.9 462.2,1847.8 429.9,1848.7 400.0,1849.5 372.3,1850.1 346.2,1850.7 321.7,1851.1 299.0,1851.5 278.4,1851.8 260.0,1852.0 243.8,1852.0 229.8,1852.0 217.8,1852.0 207.7,1852.0 199.4,1852.0 193.0,1852.0" fill="#e98f24" />
<path d="M1386.5 1583V1852M1387.5 1583V1852M1388.5 1583V1852M1389.5 1583V1852M1390.5 1783V1852M1391.5 1800V1852M1392.5 1815V1852M1393.5 1825V1852M1394.5 1830V1852M1395.5 1833V1852M1396.5 1835V1852M1397.5 1837V1852M1398.5 1840V1852M1399.5 1842V1852M1400.5 1844V1852M1401.5 1846V1852M1402.5 1848V1852M1403.5 1850V1852" stroke="#bc3ea0" stroke-width="1.02" fill="none" shape-rendering="crispEdges"/>
<path d="M1390.5 1583V1783M1392.5 1583V1815M1393.5 1583V1825M1394.5 1583V1830M1396.5 1583V1835M1399.5 1583V1842M1400.5 1583V1844M1401.5 1583V1846M1402.5 1583V1848M1404.5 1583V1852" stroke="#30349a" stroke-width="1.02" fill="none" shape-rendering="crispEdges"/>
<path d="M1391.5 1583V1800M1395.5 1583V1833M1398.5 1583V1840M1403.5 1583V1850" stroke="#2a4a8a" stroke-width="1.02" fill="none" shape-rendering="crispEdges"/>
<path d="M1397.5 1583V1837" stroke="#2a5a70" stroke-width="1.02" fill="none" shape-rendering="crispEdges"/>
<path d="M1405.5 1583V1852M1409.5 1583V1852M1411.5 1583V1852" stroke="#187444" stroke-width="1.02" fill="none" shape-rendering="crispEdges"/>
<path d="M1406.5 1583V1852M1407.5 1583V1852M1408.5 1583V1852M1410.5 1583V1852M1412.5 1583V1852" stroke="#1f6e5a" stroke-width="1.02" fill="none" shape-rendering="crispEdges"/>
</g>
<line x1="188.6" y1="1583.4" x2="188.6" y2="1851.3999999999999" stroke="#000" stroke-width="1.6"/>
<line x1="181.79999999999998" y1="1584.2" x2="188.6" y2="1584.2" stroke="#000" stroke-width="1.6"/>
<text x="176.4" y="1594.1" font-size="25.5" text-anchor="end" font-weight="normal" >1.00</text>
<line x1="181.79999999999998" y1="1650.8" x2="188.6" y2="1650.8" stroke="#000" stroke-width="1.6"/>
<text x="176.4" y="1660.7" font-size="25.5" text-anchor="end" font-weight="normal" >0.75</text>
<line x1="181.79999999999998" y1="1717.4" x2="188.6" y2="1717.4" stroke="#000" stroke-width="1.6"/>
<text x="176.4" y="1727.3" font-size="25.5" text-anchor="end" font-weight="normal" >0.50</text>
<line x1="181.79999999999998" y1="1784.0" x2="188.6" y2="1784.0" stroke="#000" stroke-width="1.6"/>
<text x="176.4" y="1793.9" font-size="25.5" text-anchor="end" font-weight="normal" >0.25</text>
<line x1="181.79999999999998" y1="1850.6" x2="188.6" y2="1850.6" stroke="#000" stroke-width="1.6"/>
<text x="176.4" y="1860.5" font-size="25.5" text-anchor="end" font-weight="normal" >0.00</text>
<line x1="192.2" y1="1856.2" x2="1410.6" y2="1856.2" stroke="#000" stroke-width="1.6"/>
<line x1="193" y1="1856.2" x2="193" y2="1863.5" stroke="#000" stroke-width="1.6"/>
<text x="193.0" y="1889.8" font-size="25.5" text-anchor="middle" font-weight="normal" >0</text>
<line x1="439.8" y1="1856.2" x2="439.8" y2="1863.5" stroke="#000" stroke-width="1.6"/>
<text x="439.8" y="1889.8" font-size="25.5" text-anchor="middle" font-weight="normal" >5,000</text>
<line x1="686" y1="1856.2" x2="686" y2="1863.5" stroke="#000" stroke-width="1.6"/>
<text x="686.0" y="1889.8" font-size="25.5" text-anchor="middle" font-weight="normal" >10,000</text>
<line x1="932.5" y1="1856.2" x2="932.5" y2="1863.5" stroke="#000" stroke-width="1.6"/>
<text x="932.5" y="1889.8" font-size="25.5" text-anchor="middle" font-weight="normal" >15,000</text>
<line x1="1179.4" y1="1856.2" x2="1179.4" y2="1863.5" stroke="#000" stroke-width="1.6"/>
<text x="1179.4" y="1889.8" font-size="25.5" text-anchor="middle" font-weight="normal" >20,000</text>
<text x="808.3" y="1921.5" font-size="31" text-anchor="middle" font-weight="normal" >Number of participants</text>
<text transform="translate(85.3,1721.7) rotate(-90)" font-size="31" text-anchor="middle">Proportion of genetic</text>
<text transform="translate(111.6,1717.4) rotate(-90)" font-size="31" text-anchor="middle">ancestry</text>
<text x="-1.0" y="1573.2" font-size="46" text-anchor="start" font-weight="bold" >d</text>
<rect x="186.1" y="1940.9" width="601.8" height="74.0" fill="none" stroke="#000" stroke-width="1.5"/>
<rect x="223.6" y="1948.7" width="59" height="28.299999999999955" fill="#e87903" stroke="#000" stroke-width="1.3"/>
<text x="253.1" y="2004.0" font-size="25.5" text-anchor="middle" font-weight="normal" >British</text>
<rect x="379.4" y="1948.7" width="59" height="28.299999999999955" fill="#ab2a92" stroke="#000" stroke-width="1.3"/>
<text x="408.9" y="2004.0" font-size="25.5" text-anchor="middle" font-weight="normal" >Finnish</text>
<rect x="535.2" y="1948.7" width="59" height="28.299999999999955" fill="#1f7332" stroke="#000" stroke-width="1.3"/>
<text x="564.7" y="2004.0" font-size="25.5" text-anchor="middle" font-weight="normal" >Iberian</text>
<rect x="691.0" y="1948.7" width="59" height="28.299999999999955" fill="#2f2b7a" stroke="#000" stroke-width="1.3"/>
<text x="720.5" y="2004.0" font-size="25.5" text-anchor="middle" font-weight="normal" >Italian</text>
</svg>
</body></html>
